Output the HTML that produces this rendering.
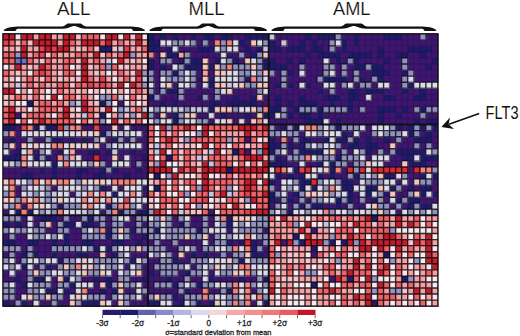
<!DOCTYPE html>
<html><head><meta charset="utf-8"><style>
html,body{margin:0;padding:0;background:#fff;}
body{width:520px;height:336px;position:relative;overflow:hidden;font-family:"Liberation Sans",sans-serif;}
</style></head><body>
<svg width="520" height="336" viewBox="0 0 520 336" style="position:absolute;left:0;top:0" font-family="Liberation Sans, sans-serif">
<defs></defs>
<g>
<path fill="#c41a2c" d="M2.92 33.81h6.54v6.55h-6.54zM8.96 33.81h6.54v6.55h-6.54zM21.05 33.81h6.54v6.55h-6.54zM27.09 33.81h6.54v6.55h-6.54zM39.17 33.81h6.54v6.55h-6.54zM45.21 33.81h6.54v6.55h-6.54zM63.34 33.81h6.54v6.55h-6.54zM69.38 33.81h6.54v6.55h-6.54zM105.63 33.81h6.54v6.55h-6.54zM111.67 33.81h6.54v6.55h-6.54zM123.75 33.81h6.54v6.55h-6.54zM135.84 33.81h6.54v6.55h-6.54zM33.13 39.86h6.54v6.55h-6.54zM39.17 39.86h6.54v6.55h-6.54zM45.21 39.86h6.54v6.55h-6.54zM51.25 39.86h6.54v6.55h-6.54zM63.34 39.86h6.54v6.55h-6.54zM81.46 39.86h6.54v6.55h-6.54zM87.5 39.86h6.54v6.55h-6.54zM93.55 39.86h6.54v6.55h-6.54zM105.63 39.86h6.54v6.55h-6.54zM135.84 39.86h6.54v6.55h-6.54zM21.05 45.91h6.54v6.55h-6.54zM45.21 45.91h6.54v6.55h-6.54zM57.3 45.91h6.54v6.55h-6.54zM63.34 45.91h6.54v6.55h-6.54zM21.05 51.97h6.54v6.55h-6.54zM93.55 51.97h6.54v6.55h-6.54zM123.75 51.97h6.54v6.55h-6.54zM81.46 58.02h6.54v6.55h-6.54zM117.71 58.02h6.54v6.55h-6.54zM15 64.07h6.54v6.55h-6.54zM39.17 64.07h6.54v6.55h-6.54zM81.46 64.07h6.54v6.55h-6.54zM81.46 70.12h6.54v6.55h-6.54zM135.84 70.12h6.54v6.55h-6.54zM81.46 76.17h6.54v6.55h-6.54zM117.71 82.23h6.54v6.55h-6.54zM129.8 82.23h6.54v6.55h-6.54zM2.92 88.28h6.54v6.55h-6.54zM8.96 88.28h6.54v6.55h-6.54zM51.25 94.33h6.54v6.55h-6.54zM81.46 100.38h6.54v6.55h-6.54zM8.96 106.43h6.54v6.55h-6.54zM63.34 106.43h6.54v6.55h-6.54zM81.46 106.43h6.54v6.55h-6.54zM105.63 106.43h6.54v6.55h-6.54zM8.96 112.49h6.54v6.55h-6.54zM63.34 112.49h6.54v6.55h-6.54zM141.88 112.49h6.54v6.55h-6.54zM8.96 118.54h6.54v6.55h-6.54zM39.17 118.54h6.54v6.55h-6.54zM111.67 118.54h6.54v6.55h-6.54zM160 124.59h6.54v6.55h-6.54zM184.17 124.59h6.54v6.55h-6.54zM202.3 124.59h6.54v6.55h-6.54zM238.55 124.59h6.54v6.55h-6.54zM244.59 124.59h6.54v6.55h-6.54zM250.63 124.59h6.54v6.55h-6.54zM262.71 124.59h6.54v6.55h-6.54zM202.3 130.64h6.54v6.55h-6.54zM244.59 130.64h6.54v6.55h-6.54zM166.05 136.69h6.54v6.55h-6.54zM202.3 142.75h6.54v6.55h-6.54zM262.71 142.75h6.54v6.55h-6.54zM160 148.8h6.54v6.55h-6.54zM214.38 148.8h6.54v6.55h-6.54zM238.55 148.8h6.54v6.55h-6.54zM262.71 148.8h6.54v6.55h-6.54zM244.59 154.85h6.54v6.55h-6.54zM250.63 154.85h6.54v6.55h-6.54zM256.67 154.85h6.54v6.55h-6.54zM160 160.9h6.54v6.55h-6.54zM202.3 160.9h6.54v6.55h-6.54zM262.71 160.9h6.54v6.55h-6.54zM147.92 166.95h6.54v6.55h-6.54zM153.96 166.95h6.54v6.55h-6.54zM160 166.95h6.54v6.55h-6.54zM166.05 166.95h6.54v6.55h-6.54zM178.13 166.95h6.54v6.55h-6.54zM190.21 166.95h6.54v6.55h-6.54zM202.3 166.95h6.54v6.55h-6.54zM208.34 166.95h6.54v6.55h-6.54zM214.38 166.95h6.54v6.55h-6.54zM220.42 166.95h6.54v6.55h-6.54zM232.5 166.95h6.54v6.55h-6.54zM238.55 166.95h6.54v6.55h-6.54zM244.59 166.95h6.54v6.55h-6.54zM250.63 166.95h6.54v6.55h-6.54zM256.67 166.95h6.54v6.55h-6.54zM262.71 166.95h6.54v6.55h-6.54zM172.09 173.01h6.54v6.55h-6.54zM202.3 173.01h6.54v6.55h-6.54zM202.3 179.06h6.54v6.55h-6.54zM244.59 179.06h6.54v6.55h-6.54zM250.63 179.06h6.54v6.55h-6.54zM262.71 179.06h6.54v6.55h-6.54zM202.3 185.11h6.54v6.55h-6.54zM244.59 185.11h6.54v6.55h-6.54zM220.42 191.16h6.54v6.55h-6.54zM262.71 191.16h6.54v6.55h-6.54zM250.63 197.21h6.54v6.55h-6.54zM232.5 203.27h6.54v6.55h-6.54zM153.96 209.32h6.54v6.55h-6.54zM256.67 209.32h6.54v6.55h-6.54zM262.71 209.32h6.54v6.55h-6.54zM280.84 215.37h6.54v6.55h-6.54zM365.42 215.37h6.54v6.55h-6.54zM395.63 215.37h6.54v6.55h-6.54zM305 221.42h6.54v6.55h-6.54zM353.34 221.42h6.54v6.55h-6.54zM395.63 221.42h6.54v6.55h-6.54zM407.71 221.42h6.54v6.55h-6.54zM298.96 227.47h6.54v6.55h-6.54zM305 233.53h6.54v6.55h-6.54zM347.3 233.53h6.54v6.55h-6.54zM383.55 233.53h6.54v6.55h-6.54zM389.59 233.53h6.54v6.55h-6.54zM425.84 233.53h6.54v6.55h-6.54zM274.8 239.58h6.54v6.55h-6.54zM286.88 239.58h6.54v6.55h-6.54zM305 239.58h6.54v6.55h-6.54zM311.05 239.58h6.54v6.55h-6.54zM317.09 239.58h6.54v6.55h-6.54zM347.3 239.58h6.54v6.55h-6.54zM359.38 239.58h6.54v6.55h-6.54zM371.46 239.58h6.54v6.55h-6.54zM377.51 239.58h6.54v6.55h-6.54zM383.55 239.58h6.54v6.55h-6.54zM389.59 239.58h6.54v6.55h-6.54zM395.63 239.58h6.54v6.55h-6.54zM401.67 239.58h6.54v6.55h-6.54zM413.76 239.58h6.54v6.55h-6.54zM425.84 239.58h6.54v6.55h-6.54zM359.38 245.63h6.54v6.55h-6.54zM365.42 245.63h6.54v6.55h-6.54zM377.51 245.63h6.54v6.55h-6.54zM395.63 245.63h6.54v6.55h-6.54zM425.84 245.63h6.54v6.55h-6.54zM425.84 251.68h6.54v6.55h-6.54zM353.34 257.73h6.54v6.55h-6.54zM425.84 257.73h6.54v6.55h-6.54zM431.88 257.73h6.54v6.55h-6.54zM353.34 263.79h6.54v6.55h-6.54zM365.42 263.79h6.54v6.55h-6.54zM383.55 263.79h6.54v6.55h-6.54zM431.88 263.79h6.54v6.55h-6.54zM347.3 269.84h6.54v6.55h-6.54zM377.51 269.84h6.54v6.55h-6.54zM335.21 275.89h6.54v6.55h-6.54zM365.42 275.89h6.54v6.55h-6.54zM377.51 281.94h6.54v6.55h-6.54zM268.75 287.99h6.54v6.55h-6.54zM329.17 287.99h6.54v6.55h-6.54zM413.76 287.99h6.54v6.55h-6.54zM425.84 287.99h6.54v6.55h-6.54zM353.34 294.05h6.54v6.55h-6.54zM365.42 294.05h6.54v6.55h-6.54zM365.42 300.1h6.54v6.55h-6.54z"/><path fill="#fae6ee" d="M15 33.81h6.54v6.55h-6.54zM99.59 33.81h6.54v6.55h-6.54zM117.71 33.81h6.54v6.55h-6.54zM141.88 33.81h6.54v6.55h-6.54zM111.67 58.02h6.54v6.55h-6.54zM141.88 58.02h6.54v6.55h-6.54zM2.92 64.07h6.54v6.55h-6.54zM69.38 64.07h6.54v6.55h-6.54zM27.09 70.12h6.54v6.55h-6.54zM75.42 70.12h6.54v6.55h-6.54zM105.63 70.12h6.54v6.55h-6.54zM15 76.17h6.54v6.55h-6.54zM111.67 76.17h6.54v6.55h-6.54zM123.75 82.23h6.54v6.55h-6.54zM15 88.28h6.54v6.55h-6.54zM27.09 88.28h6.54v6.55h-6.54zM45.21 88.28h6.54v6.55h-6.54zM87.5 88.28h6.54v6.55h-6.54zM99.59 88.28h6.54v6.55h-6.54zM111.67 88.28h6.54v6.55h-6.54zM123.75 88.28h6.54v6.55h-6.54zM45.21 94.33h6.54v6.55h-6.54zM57.3 94.33h6.54v6.55h-6.54zM93.55 94.33h6.54v6.55h-6.54zM123.75 94.33h6.54v6.55h-6.54zM15 100.38h6.54v6.55h-6.54zM21.05 100.38h6.54v6.55h-6.54zM111.67 100.38h6.54v6.55h-6.54zM123.75 100.38h6.54v6.55h-6.54zM135.84 100.38h6.54v6.55h-6.54zM27.09 106.43h6.54v6.55h-6.54zM75.42 106.43h6.54v6.55h-6.54zM111.67 106.43h6.54v6.55h-6.54zM51.25 112.49h6.54v6.55h-6.54zM105.63 112.49h6.54v6.55h-6.54zM15 118.54h6.54v6.55h-6.54zM27.09 118.54h6.54v6.55h-6.54zM75.42 118.54h6.54v6.55h-6.54zM105.63 118.54h6.54v6.55h-6.54zM141.88 118.54h6.54v6.55h-6.54zM153.96 124.59h6.54v6.55h-6.54zM196.25 124.59h6.54v6.55h-6.54zM153.96 130.64h6.54v6.55h-6.54zM184.17 130.64h6.54v6.55h-6.54zM190.21 130.64h6.54v6.55h-6.54zM208.34 130.64h6.54v6.55h-6.54zM153.96 136.69h6.54v6.55h-6.54zM256.67 136.69h6.54v6.55h-6.54zM172.09 142.75h6.54v6.55h-6.54zM196.25 142.75h6.54v6.55h-6.54zM208.34 142.75h6.54v6.55h-6.54zM226.46 142.75h6.54v6.55h-6.54zM166.05 148.8h6.54v6.55h-6.54zM220.42 148.8h6.54v6.55h-6.54zM153.96 154.85h6.54v6.55h-6.54zM166.05 160.9h6.54v6.55h-6.54zM172.09 160.9h6.54v6.55h-6.54zM232.5 160.9h6.54v6.55h-6.54zM244.59 160.9h6.54v6.55h-6.54zM172.09 166.95h6.54v6.55h-6.54zM147.92 173.01h6.54v6.55h-6.54zM160 173.01h6.54v6.55h-6.54zM184.17 173.01h6.54v6.55h-6.54zM190.21 173.01h6.54v6.55h-6.54zM208.34 173.01h6.54v6.55h-6.54zM214.38 173.01h6.54v6.55h-6.54zM262.71 173.01h6.54v6.55h-6.54zM166.05 179.06h6.54v6.55h-6.54zM196.25 179.06h6.54v6.55h-6.54zM256.67 179.06h6.54v6.55h-6.54zM147.92 185.11h6.54v6.55h-6.54zM166.05 185.11h6.54v6.55h-6.54zM178.13 185.11h6.54v6.55h-6.54zM184.17 185.11h6.54v6.55h-6.54zM232.5 185.11h6.54v6.55h-6.54zM166.05 191.16h6.54v6.55h-6.54zM172.09 191.16h6.54v6.55h-6.54zM190.21 191.16h6.54v6.55h-6.54zM153.96 197.21h6.54v6.55h-6.54zM178.13 197.21h6.54v6.55h-6.54zM184.17 197.21h6.54v6.55h-6.54zM208.34 197.21h6.54v6.55h-6.54zM220.42 197.21h6.54v6.55h-6.54zM153.96 203.27h6.54v6.55h-6.54zM178.13 203.27h6.54v6.55h-6.54zM190.21 203.27h6.54v6.55h-6.54zM208.34 203.27h6.54v6.55h-6.54zM226.46 203.27h6.54v6.55h-6.54zM244.59 203.27h6.54v6.55h-6.54zM250.63 203.27h6.54v6.55h-6.54zM166.05 209.32h6.54v6.55h-6.54zM214.38 209.32h6.54v6.55h-6.54zM274.8 215.37h6.54v6.55h-6.54zM305 215.37h6.54v6.55h-6.54zM419.8 215.37h6.54v6.55h-6.54zM298.96 221.42h6.54v6.55h-6.54zM311.05 221.42h6.54v6.55h-6.54zM317.09 221.42h6.54v6.55h-6.54zM329.17 221.42h6.54v6.55h-6.54zM335.21 221.42h6.54v6.55h-6.54zM419.8 221.42h6.54v6.55h-6.54zM431.88 221.42h6.54v6.55h-6.54zM329.17 227.47h6.54v6.55h-6.54zM353.34 227.47h6.54v6.55h-6.54zM395.63 227.47h6.54v6.55h-6.54zM401.67 227.47h6.54v6.55h-6.54zM407.71 227.47h6.54v6.55h-6.54zM413.76 227.47h6.54v6.55h-6.54zM419.8 227.47h6.54v6.55h-6.54zM425.84 227.47h6.54v6.55h-6.54zM298.96 233.53h6.54v6.55h-6.54zM365.42 233.53h6.54v6.55h-6.54zM407.71 233.53h6.54v6.55h-6.54zM431.88 233.53h6.54v6.55h-6.54zM335.21 239.58h6.54v6.55h-6.54zM274.8 245.63h6.54v6.55h-6.54zM317.09 245.63h6.54v6.55h-6.54zM335.21 245.63h6.54v6.55h-6.54zM371.46 245.63h6.54v6.55h-6.54zM389.59 245.63h6.54v6.55h-6.54zM431.88 245.63h6.54v6.55h-6.54zM305 251.68h6.54v6.55h-6.54zM329.17 251.68h6.54v6.55h-6.54zM347.3 251.68h6.54v6.55h-6.54zM353.34 251.68h6.54v6.55h-6.54zM371.46 251.68h6.54v6.55h-6.54zM389.59 251.68h6.54v6.55h-6.54zM401.67 251.68h6.54v6.55h-6.54zM413.76 251.68h6.54v6.55h-6.54zM419.8 251.68h6.54v6.55h-6.54zM323.13 257.73h6.54v6.55h-6.54zM371.46 257.73h6.54v6.55h-6.54zM383.55 257.73h6.54v6.55h-6.54zM407.71 257.73h6.54v6.55h-6.54zM419.8 257.73h6.54v6.55h-6.54zM274.8 263.79h6.54v6.55h-6.54zM311.05 263.79h6.54v6.55h-6.54zM335.21 263.79h6.54v6.55h-6.54zM371.46 263.79h6.54v6.55h-6.54zM389.59 263.79h6.54v6.55h-6.54zM407.71 263.79h6.54v6.55h-6.54zM425.84 263.79h6.54v6.55h-6.54zM274.8 269.84h6.54v6.55h-6.54zM292.92 269.84h6.54v6.55h-6.54zM317.09 269.84h6.54v6.55h-6.54zM371.46 269.84h6.54v6.55h-6.54zM389.59 269.84h6.54v6.55h-6.54zM401.67 269.84h6.54v6.55h-6.54zM413.76 269.84h6.54v6.55h-6.54zM323.13 275.89h6.54v6.55h-6.54zM359.38 275.89h6.54v6.55h-6.54zM377.51 275.89h6.54v6.55h-6.54zM383.55 275.89h6.54v6.55h-6.54zM389.59 275.89h6.54v6.55h-6.54zM425.84 275.89h6.54v6.55h-6.54zM431.88 275.89h6.54v6.55h-6.54zM274.8 281.94h6.54v6.55h-6.54zM292.92 281.94h6.54v6.55h-6.54zM298.96 281.94h6.54v6.55h-6.54zM305 281.94h6.54v6.55h-6.54zM317.09 281.94h6.54v6.55h-6.54zM329.17 281.94h6.54v6.55h-6.54zM335.21 281.94h6.54v6.55h-6.54zM371.46 281.94h6.54v6.55h-6.54zM389.59 281.94h6.54v6.55h-6.54zM431.88 281.94h6.54v6.55h-6.54zM274.8 287.99h6.54v6.55h-6.54zM311.05 287.99h6.54v6.55h-6.54zM353.34 287.99h6.54v6.55h-6.54zM359.38 287.99h6.54v6.55h-6.54zM274.8 294.05h6.54v6.55h-6.54zM286.88 294.05h6.54v6.55h-6.54zM292.92 294.05h6.54v6.55h-6.54zM298.96 294.05h6.54v6.55h-6.54zM311.05 294.05h6.54v6.55h-6.54zM329.17 294.05h6.54v6.55h-6.54zM335.21 294.05h6.54v6.55h-6.54zM371.46 294.05h6.54v6.55h-6.54zM407.71 294.05h6.54v6.55h-6.54zM419.8 294.05h6.54v6.55h-6.54zM431.88 294.05h6.54v6.55h-6.54zM274.8 300.1h6.54v6.55h-6.54zM286.88 300.1h6.54v6.55h-6.54zM292.92 300.1h6.54v6.55h-6.54zM298.96 300.1h6.54v6.55h-6.54zM311.05 300.1h6.54v6.55h-6.54zM335.21 300.1h6.54v6.55h-6.54zM389.59 300.1h6.54v6.55h-6.54zM401.67 300.1h6.54v6.55h-6.54zM413.76 300.1h6.54v6.55h-6.54zM425.84 300.1h6.54v6.55h-6.54z"/><path fill="#f4a0a6" d="M33.13 33.81h6.54v6.55h-6.54zM51.25 33.81h6.54v6.55h-6.54zM57.3 33.81h6.54v6.55h-6.54zM57.3 39.86h6.54v6.55h-6.54zM75.42 39.86h6.54v6.55h-6.54zM111.67 39.86h6.54v6.55h-6.54zM123.75 39.86h6.54v6.55h-6.54zM129.8 39.86h6.54v6.55h-6.54zM141.88 39.86h6.54v6.55h-6.54zM2.92 45.91h6.54v6.55h-6.54zM8.96 45.91h6.54v6.55h-6.54zM27.09 45.91h6.54v6.55h-6.54zM33.13 45.91h6.54v6.55h-6.54zM69.38 45.91h6.54v6.55h-6.54zM81.46 45.91h6.54v6.55h-6.54zM129.8 45.91h6.54v6.55h-6.54zM135.84 45.91h6.54v6.55h-6.54zM27.09 51.97h6.54v6.55h-6.54zM57.3 51.97h6.54v6.55h-6.54zM63.34 51.97h6.54v6.55h-6.54zM69.38 51.97h6.54v6.55h-6.54zM87.5 51.97h6.54v6.55h-6.54zM111.67 51.97h6.54v6.55h-6.54zM135.84 51.97h6.54v6.55h-6.54zM141.88 51.97h6.54v6.55h-6.54zM178.13 51.97h6.54v6.55h-6.54zM33.13 58.02h6.54v6.55h-6.54zM51.25 58.02h6.54v6.55h-6.54zM57.3 58.02h6.54v6.55h-6.54zM87.5 58.02h6.54v6.55h-6.54zM99.59 58.02h6.54v6.55h-6.54zM123.75 58.02h6.54v6.55h-6.54zM135.84 58.02h6.54v6.55h-6.54zM8.96 64.07h6.54v6.55h-6.54zM21.05 64.07h6.54v6.55h-6.54zM33.13 64.07h6.54v6.55h-6.54zM51.25 64.07h6.54v6.55h-6.54zM57.3 64.07h6.54v6.55h-6.54zM93.55 64.07h6.54v6.55h-6.54zM129.8 64.07h6.54v6.55h-6.54zM135.84 64.07h6.54v6.55h-6.54zM8.96 70.12h6.54v6.55h-6.54zM21.05 70.12h6.54v6.55h-6.54zM51.25 70.12h6.54v6.55h-6.54zM87.5 70.12h6.54v6.55h-6.54zM99.59 70.12h6.54v6.55h-6.54zM123.75 70.12h6.54v6.55h-6.54zM202.3 70.12h6.54v6.55h-6.54zM2.92 76.17h6.54v6.55h-6.54zM21.05 76.17h6.54v6.55h-6.54zM33.13 76.17h6.54v6.55h-6.54zM51.25 76.17h6.54v6.55h-6.54zM63.34 76.17h6.54v6.55h-6.54zM93.55 76.17h6.54v6.55h-6.54zM105.63 76.17h6.54v6.55h-6.54zM117.71 76.17h6.54v6.55h-6.54zM8.96 82.23h6.54v6.55h-6.54zM21.05 82.23h6.54v6.55h-6.54zM33.13 82.23h6.54v6.55h-6.54zM45.21 82.23h6.54v6.55h-6.54zM51.25 82.23h6.54v6.55h-6.54zM111.67 82.23h6.54v6.55h-6.54zM21.05 88.28h6.54v6.55h-6.54zM39.17 88.28h6.54v6.55h-6.54zM63.34 88.28h6.54v6.55h-6.54zM69.38 88.28h6.54v6.55h-6.54zM81.46 88.28h6.54v6.55h-6.54zM117.71 88.28h6.54v6.55h-6.54zM129.8 88.28h6.54v6.55h-6.54zM141.88 88.28h6.54v6.55h-6.54zM8.96 94.33h6.54v6.55h-6.54zM21.05 94.33h6.54v6.55h-6.54zM87.5 94.33h6.54v6.55h-6.54zM8.96 100.38h6.54v6.55h-6.54zM33.13 100.38h6.54v6.55h-6.54zM51.25 100.38h6.54v6.55h-6.54zM63.34 100.38h6.54v6.55h-6.54zM87.5 100.38h6.54v6.55h-6.54zM129.8 100.38h6.54v6.55h-6.54zM21.05 106.43h6.54v6.55h-6.54zM33.13 106.43h6.54v6.55h-6.54zM57.3 106.43h6.54v6.55h-6.54zM93.55 106.43h6.54v6.55h-6.54zM129.8 106.43h6.54v6.55h-6.54zM45.21 112.49h6.54v6.55h-6.54zM111.67 112.49h6.54v6.55h-6.54zM220.42 130.64h6.54v6.55h-6.54zM226.46 130.64h6.54v6.55h-6.54zM232.5 130.64h6.54v6.55h-6.54zM238.55 130.64h6.54v6.55h-6.54zM250.63 130.64h6.54v6.55h-6.54zM232.5 136.69h6.54v6.55h-6.54zM160 142.75h6.54v6.55h-6.54zM220.42 142.75h6.54v6.55h-6.54zM238.55 142.75h6.54v6.55h-6.54zM250.63 142.75h6.54v6.55h-6.54zM256.67 142.75h6.54v6.55h-6.54zM27.09 148.8h6.54v6.55h-6.54zM69.38 148.8h6.54v6.55h-6.54zM147.92 148.8h6.54v6.55h-6.54zM190.21 148.8h6.54v6.55h-6.54zM226.46 148.8h6.54v6.55h-6.54zM250.63 148.8h6.54v6.55h-6.54zM69.38 154.85h6.54v6.55h-6.54zM190.21 154.85h6.54v6.55h-6.54zM226.46 154.85h6.54v6.55h-6.54zM232.5 154.85h6.54v6.55h-6.54zM262.71 154.85h6.54v6.55h-6.54zM21.05 160.9h6.54v6.55h-6.54zM147.92 160.9h6.54v6.55h-6.54zM190.21 160.9h6.54v6.55h-6.54zM196.25 166.95h6.54v6.55h-6.54zM196.25 173.01h6.54v6.55h-6.54zM220.42 173.01h6.54v6.55h-6.54zM250.63 173.01h6.54v6.55h-6.54zM153.96 179.06h6.54v6.55h-6.54zM232.5 179.06h6.54v6.55h-6.54zM256.67 185.11h6.54v6.55h-6.54zM232.5 191.16h6.54v6.55h-6.54zM214.38 203.27h6.54v6.55h-6.54zM238.55 203.27h6.54v6.55h-6.54zM184.17 209.32h6.54v6.55h-6.54zM286.88 215.37h6.54v6.55h-6.54zM292.92 215.37h6.54v6.55h-6.54zM311.05 215.37h6.54v6.55h-6.54zM323.13 215.37h6.54v6.55h-6.54zM341.26 215.37h6.54v6.55h-6.54zM353.34 215.37h6.54v6.55h-6.54zM389.59 215.37h6.54v6.55h-6.54zM401.67 215.37h6.54v6.55h-6.54zM407.71 215.37h6.54v6.55h-6.54zM425.84 215.37h6.54v6.55h-6.54zM431.88 215.37h6.54v6.55h-6.54zM268.75 221.42h6.54v6.55h-6.54zM274.8 221.42h6.54v6.55h-6.54zM280.84 221.42h6.54v6.55h-6.54zM383.55 221.42h6.54v6.55h-6.54zM389.59 221.42h6.54v6.55h-6.54zM401.67 221.42h6.54v6.55h-6.54zM268.75 227.47h6.54v6.55h-6.54zM274.8 227.47h6.54v6.55h-6.54zM280.84 227.47h6.54v6.55h-6.54zM286.88 227.47h6.54v6.55h-6.54zM292.92 227.47h6.54v6.55h-6.54zM305 227.47h6.54v6.55h-6.54zM317.09 227.47h6.54v6.55h-6.54zM323.13 227.47h6.54v6.55h-6.54zM431.88 227.47h6.54v6.55h-6.54zM268.75 233.53h6.54v6.55h-6.54zM280.84 233.53h6.54v6.55h-6.54zM286.88 233.53h6.54v6.55h-6.54zM311.05 233.53h6.54v6.55h-6.54zM317.09 233.53h6.54v6.55h-6.54zM323.13 233.53h6.54v6.55h-6.54zM341.26 233.53h6.54v6.55h-6.54zM401.67 233.53h6.54v6.55h-6.54zM419.8 233.53h6.54v6.55h-6.54zM268.75 239.58h6.54v6.55h-6.54zM431.88 239.58h6.54v6.55h-6.54zM280.84 245.63h6.54v6.55h-6.54zM292.92 245.63h6.54v6.55h-6.54zM298.96 245.63h6.54v6.55h-6.54zM305 245.63h6.54v6.55h-6.54zM323.13 245.63h6.54v6.55h-6.54zM347.3 245.63h6.54v6.55h-6.54zM353.34 245.63h6.54v6.55h-6.54zM401.67 245.63h6.54v6.55h-6.54zM413.76 245.63h6.54v6.55h-6.54zM419.8 245.63h6.54v6.55h-6.54zM280.84 251.68h6.54v6.55h-6.54zM298.96 251.68h6.54v6.55h-6.54zM323.13 251.68h6.54v6.55h-6.54zM365.42 251.68h6.54v6.55h-6.54zM377.51 251.68h6.54v6.55h-6.54zM274.8 257.73h6.54v6.55h-6.54zM280.84 257.73h6.54v6.55h-6.54zM298.96 257.73h6.54v6.55h-6.54zM311.05 257.73h6.54v6.55h-6.54zM329.17 257.73h6.54v6.55h-6.54zM341.26 257.73h6.54v6.55h-6.54zM347.3 257.73h6.54v6.55h-6.54zM359.38 257.73h6.54v6.55h-6.54zM395.63 257.73h6.54v6.55h-6.54zM401.67 257.73h6.54v6.55h-6.54zM280.84 263.79h6.54v6.55h-6.54zM292.92 263.79h6.54v6.55h-6.54zM341.26 263.79h6.54v6.55h-6.54zM347.3 263.79h6.54v6.55h-6.54zM359.38 263.79h6.54v6.55h-6.54zM401.67 263.79h6.54v6.55h-6.54zM413.76 263.79h6.54v6.55h-6.54zM419.8 263.79h6.54v6.55h-6.54zM280.84 269.84h6.54v6.55h-6.54zM298.96 269.84h6.54v6.55h-6.54zM323.13 269.84h6.54v6.55h-6.54zM335.21 269.84h6.54v6.55h-6.54zM407.71 269.84h6.54v6.55h-6.54zM419.8 269.84h6.54v6.55h-6.54zM431.88 269.84h6.54v6.55h-6.54zM274.8 275.89h6.54v6.55h-6.54zM298.96 275.89h6.54v6.55h-6.54zM305 275.89h6.54v6.55h-6.54zM311.05 275.89h6.54v6.55h-6.54zM317.09 275.89h6.54v6.55h-6.54zM395.63 275.89h6.54v6.55h-6.54zM413.76 275.89h6.54v6.55h-6.54zM419.8 275.89h6.54v6.55h-6.54zM280.84 281.94h6.54v6.55h-6.54zM286.88 281.94h6.54v6.55h-6.54zM353.34 281.94h6.54v6.55h-6.54zM401.67 281.94h6.54v6.55h-6.54zM413.76 281.94h6.54v6.55h-6.54zM419.8 281.94h6.54v6.55h-6.54zM425.84 281.94h6.54v6.55h-6.54zM286.88 287.99h6.54v6.55h-6.54zM292.92 287.99h6.54v6.55h-6.54zM298.96 287.99h6.54v6.55h-6.54zM305 287.99h6.54v6.55h-6.54zM341.26 287.99h6.54v6.55h-6.54zM347.3 287.99h6.54v6.55h-6.54zM383.55 287.99h6.54v6.55h-6.54zM407.71 287.99h6.54v6.55h-6.54zM419.8 287.99h6.54v6.55h-6.54zM431.88 287.99h6.54v6.55h-6.54zM280.84 294.05h6.54v6.55h-6.54zM305 294.05h6.54v6.55h-6.54zM317.09 294.05h6.54v6.55h-6.54zM323.13 294.05h6.54v6.55h-6.54zM347.3 294.05h6.54v6.55h-6.54zM395.63 294.05h6.54v6.55h-6.54zM401.67 294.05h6.54v6.55h-6.54zM425.84 294.05h6.54v6.55h-6.54zM268.75 300.1h6.54v6.55h-6.54zM280.84 300.1h6.54v6.55h-6.54zM305 300.1h6.54v6.55h-6.54zM317.09 300.1h6.54v6.55h-6.54zM323.13 300.1h6.54v6.55h-6.54zM347.3 300.1h6.54v6.55h-6.54zM359.38 300.1h6.54v6.55h-6.54zM383.55 300.1h6.54v6.55h-6.54zM395.63 300.1h6.54v6.55h-6.54zM407.71 300.1h6.54v6.55h-6.54zM431.88 300.1h6.54v6.55h-6.54z"/><path fill="#f8c0c8" d="M75.42 33.81h6.54v6.55h-6.54zM129.8 33.81h6.54v6.55h-6.54zM15 39.86h6.54v6.55h-6.54zM27.09 39.86h6.54v6.55h-6.54zM15 45.91h6.54v6.55h-6.54zM75.42 45.91h6.54v6.55h-6.54zM93.55 45.91h6.54v6.55h-6.54zM111.67 45.91h6.54v6.55h-6.54zM45.21 51.97h6.54v6.55h-6.54zM99.59 51.97h6.54v6.55h-6.54zM39.17 58.02h6.54v6.55h-6.54zM75.42 58.02h6.54v6.55h-6.54zM129.8 58.02h6.54v6.55h-6.54zM27.09 64.07h6.54v6.55h-6.54zM75.42 64.07h6.54v6.55h-6.54zM87.5 64.07h6.54v6.55h-6.54zM117.71 64.07h6.54v6.55h-6.54zM123.75 64.07h6.54v6.55h-6.54zM141.88 64.07h6.54v6.55h-6.54zM15 70.12h6.54v6.55h-6.54zM57.3 70.12h6.54v6.55h-6.54zM93.55 70.12h6.54v6.55h-6.54zM111.67 70.12h6.54v6.55h-6.54zM129.8 70.12h6.54v6.55h-6.54zM8.96 76.17h6.54v6.55h-6.54zM39.17 76.17h6.54v6.55h-6.54zM57.3 76.17h6.54v6.55h-6.54zM69.38 76.17h6.54v6.55h-6.54zM75.42 76.17h6.54v6.55h-6.54zM129.8 76.17h6.54v6.55h-6.54zM2.92 82.23h6.54v6.55h-6.54zM69.38 82.23h6.54v6.55h-6.54zM51.25 88.28h6.54v6.55h-6.54zM75.42 88.28h6.54v6.55h-6.54zM93.55 88.28h6.54v6.55h-6.54zM105.63 88.28h6.54v6.55h-6.54zM2.92 94.33h6.54v6.55h-6.54zM27.09 94.33h6.54v6.55h-6.54zM39.17 94.33h6.54v6.55h-6.54zM75.42 94.33h6.54v6.55h-6.54zM135.84 94.33h6.54v6.55h-6.54zM141.88 94.33h6.54v6.55h-6.54zM2.92 100.38h6.54v6.55h-6.54zM93.55 100.38h6.54v6.55h-6.54zM141.88 100.38h6.54v6.55h-6.54zM15 106.43h6.54v6.55h-6.54zM69.38 106.43h6.54v6.55h-6.54zM99.59 106.43h6.54v6.55h-6.54zM21.05 112.49h6.54v6.55h-6.54zM69.38 112.49h6.54v6.55h-6.54zM75.42 112.49h6.54v6.55h-6.54zM93.55 112.49h6.54v6.55h-6.54zM123.75 112.49h6.54v6.55h-6.54zM135.84 112.49h6.54v6.55h-6.54zM87.5 118.54h6.54v6.55h-6.54zM117.71 118.54h6.54v6.55h-6.54zM129.8 118.54h6.54v6.55h-6.54zM166.05 130.64h6.54v6.55h-6.54zM178.13 130.64h6.54v6.55h-6.54zM178.13 136.69h6.54v6.55h-6.54zM262.71 136.69h6.54v6.55h-6.54zM147.92 142.75h6.54v6.55h-6.54zM178.13 142.75h6.54v6.55h-6.54zM184.17 142.75h6.54v6.55h-6.54zM190.21 142.75h6.54v6.55h-6.54zM244.59 142.75h6.54v6.55h-6.54zM178.13 148.8h6.54v6.55h-6.54zM202.3 148.8h6.54v6.55h-6.54zM178.13 154.85h6.54v6.55h-6.54zM202.3 154.85h6.54v6.55h-6.54zM178.13 160.9h6.54v6.55h-6.54zM196.25 160.9h6.54v6.55h-6.54zM256.67 160.9h6.54v6.55h-6.54zM178.13 173.01h6.54v6.55h-6.54zM232.5 173.01h6.54v6.55h-6.54zM147.92 179.06h6.54v6.55h-6.54zM178.13 179.06h6.54v6.55h-6.54zM214.38 185.11h6.54v6.55h-6.54zM153.96 191.16h6.54v6.55h-6.54zM147.92 197.21h6.54v6.55h-6.54zM214.38 197.21h6.54v6.55h-6.54zM238.55 197.21h6.54v6.55h-6.54zM147.92 203.27h6.54v6.55h-6.54zM166.05 203.27h6.54v6.55h-6.54zM202.3 203.27h6.54v6.55h-6.54zM190.21 209.32h6.54v6.55h-6.54zM196.25 209.32h6.54v6.55h-6.54zM298.96 215.37h6.54v6.55h-6.54zM347.3 221.42h6.54v6.55h-6.54zM371.46 221.42h6.54v6.55h-6.54zM407.71 239.58h6.54v6.55h-6.54zM286.88 245.63h6.54v6.55h-6.54zM286.88 251.68h6.54v6.55h-6.54zM292.92 251.68h6.54v6.55h-6.54zM286.88 257.73h6.54v6.55h-6.54zM292.92 257.73h6.54v6.55h-6.54zM305 257.73h6.54v6.55h-6.54zM317.09 257.73h6.54v6.55h-6.54zM268.75 263.79h6.54v6.55h-6.54zM305 263.79h6.54v6.55h-6.54zM317.09 263.79h6.54v6.55h-6.54zM280.84 275.89h6.54v6.55h-6.54zM286.88 275.89h6.54v6.55h-6.54zM292.92 275.89h6.54v6.55h-6.54zM401.67 287.99h6.54v6.55h-6.54zM268.75 294.05h6.54v6.55h-6.54z"/><path fill="#ec6268" d="M81.46 33.81h6.54v6.55h-6.54zM87.5 33.81h6.54v6.55h-6.54zM93.55 33.81h6.54v6.55h-6.54zM8.96 39.86h6.54v6.55h-6.54zM21.05 39.86h6.54v6.55h-6.54zM69.38 39.86h6.54v6.55h-6.54zM99.59 39.86h6.54v6.55h-6.54zM117.71 39.86h6.54v6.55h-6.54zM87.5 45.91h6.54v6.55h-6.54zM141.88 45.91h6.54v6.55h-6.54zM2.92 51.97h6.54v6.55h-6.54zM8.96 51.97h6.54v6.55h-6.54zM33.13 51.97h6.54v6.55h-6.54zM51.25 51.97h6.54v6.55h-6.54zM75.42 51.97h6.54v6.55h-6.54zM81.46 51.97h6.54v6.55h-6.54zM105.63 51.97h6.54v6.55h-6.54zM117.71 51.97h6.54v6.55h-6.54zM2.92 58.02h6.54v6.55h-6.54zM8.96 58.02h6.54v6.55h-6.54zM27.09 58.02h6.54v6.55h-6.54zM45.21 58.02h6.54v6.55h-6.54zM63.34 58.02h6.54v6.55h-6.54zM69.38 58.02h6.54v6.55h-6.54zM93.55 58.02h6.54v6.55h-6.54zM45.21 64.07h6.54v6.55h-6.54zM63.34 64.07h6.54v6.55h-6.54zM99.59 64.07h6.54v6.55h-6.54zM111.67 64.07h6.54v6.55h-6.54zM2.92 70.12h6.54v6.55h-6.54zM33.13 70.12h6.54v6.55h-6.54zM45.21 70.12h6.54v6.55h-6.54zM63.34 70.12h6.54v6.55h-6.54zM69.38 70.12h6.54v6.55h-6.54zM117.71 70.12h6.54v6.55h-6.54zM27.09 76.17h6.54v6.55h-6.54zM45.21 76.17h6.54v6.55h-6.54zM87.5 76.17h6.54v6.55h-6.54zM123.75 76.17h6.54v6.55h-6.54zM27.09 82.23h6.54v6.55h-6.54zM39.17 82.23h6.54v6.55h-6.54zM57.3 82.23h6.54v6.55h-6.54zM63.34 82.23h6.54v6.55h-6.54zM75.42 82.23h6.54v6.55h-6.54zM81.46 82.23h6.54v6.55h-6.54zM93.55 82.23h6.54v6.55h-6.54zM105.63 82.23h6.54v6.55h-6.54zM135.84 82.23h6.54v6.55h-6.54zM33.13 88.28h6.54v6.55h-6.54zM57.3 88.28h6.54v6.55h-6.54zM135.84 88.28h6.54v6.55h-6.54zM15 94.33h6.54v6.55h-6.54zM33.13 94.33h6.54v6.55h-6.54zM63.34 94.33h6.54v6.55h-6.54zM69.38 94.33h6.54v6.55h-6.54zM81.46 94.33h6.54v6.55h-6.54zM111.67 94.33h6.54v6.55h-6.54zM129.8 94.33h6.54v6.55h-6.54zM39.17 100.38h6.54v6.55h-6.54zM45.21 100.38h6.54v6.55h-6.54zM57.3 100.38h6.54v6.55h-6.54zM2.92 106.43h6.54v6.55h-6.54zM39.17 106.43h6.54v6.55h-6.54zM45.21 106.43h6.54v6.55h-6.54zM51.25 106.43h6.54v6.55h-6.54zM87.5 106.43h6.54v6.55h-6.54zM135.84 106.43h6.54v6.55h-6.54zM2.92 112.49h6.54v6.55h-6.54zM27.09 112.49h6.54v6.55h-6.54zM33.13 112.49h6.54v6.55h-6.54zM39.17 112.49h6.54v6.55h-6.54zM57.3 112.49h6.54v6.55h-6.54zM87.5 112.49h6.54v6.55h-6.54zM2.92 118.54h6.54v6.55h-6.54zM21.05 118.54h6.54v6.55h-6.54zM33.13 118.54h6.54v6.55h-6.54zM45.21 118.54h6.54v6.55h-6.54zM51.25 118.54h6.54v6.55h-6.54zM57.3 118.54h6.54v6.55h-6.54zM63.34 118.54h6.54v6.55h-6.54zM69.38 118.54h6.54v6.55h-6.54zM81.46 118.54h6.54v6.55h-6.54zM93.55 118.54h6.54v6.55h-6.54zM123.75 118.54h6.54v6.55h-6.54zM135.84 118.54h6.54v6.55h-6.54zM147.92 124.59h6.54v6.55h-6.54zM172.09 124.59h6.54v6.55h-6.54zM178.13 124.59h6.54v6.55h-6.54zM190.21 124.59h6.54v6.55h-6.54zM208.34 124.59h6.54v6.55h-6.54zM214.38 124.59h6.54v6.55h-6.54zM220.42 124.59h6.54v6.55h-6.54zM226.46 124.59h6.54v6.55h-6.54zM232.5 124.59h6.54v6.55h-6.54zM256.67 124.59h6.54v6.55h-6.54zM147.92 130.64h6.54v6.55h-6.54zM160 130.64h6.54v6.55h-6.54zM172.09 130.64h6.54v6.55h-6.54zM214.38 130.64h6.54v6.55h-6.54zM256.67 130.64h6.54v6.55h-6.54zM262.71 130.64h6.54v6.55h-6.54zM147.92 136.69h6.54v6.55h-6.54zM160 136.69h6.54v6.55h-6.54zM172.09 136.69h6.54v6.55h-6.54zM190.21 136.69h6.54v6.55h-6.54zM196.25 136.69h6.54v6.55h-6.54zM202.3 136.69h6.54v6.55h-6.54zM208.34 136.69h6.54v6.55h-6.54zM214.38 136.69h6.54v6.55h-6.54zM220.42 136.69h6.54v6.55h-6.54zM238.55 136.69h6.54v6.55h-6.54zM250.63 136.69h6.54v6.55h-6.54zM166.05 142.75h6.54v6.55h-6.54zM214.38 142.75h6.54v6.55h-6.54zM232.5 142.75h6.54v6.55h-6.54zM172.09 148.8h6.54v6.55h-6.54zM184.17 148.8h6.54v6.55h-6.54zM196.25 148.8h6.54v6.55h-6.54zM147.92 154.85h6.54v6.55h-6.54zM160 154.85h6.54v6.55h-6.54zM172.09 154.85h6.54v6.55h-6.54zM184.17 154.85h6.54v6.55h-6.54zM208.34 154.85h6.54v6.55h-6.54zM214.38 154.85h6.54v6.55h-6.54zM220.42 154.85h6.54v6.55h-6.54zM238.55 154.85h6.54v6.55h-6.54zM184.17 160.9h6.54v6.55h-6.54zM214.38 160.9h6.54v6.55h-6.54zM220.42 160.9h6.54v6.55h-6.54zM226.46 160.9h6.54v6.55h-6.54zM238.55 160.9h6.54v6.55h-6.54zM250.63 160.9h6.54v6.55h-6.54zM184.17 166.95h6.54v6.55h-6.54zM226.46 173.01h6.54v6.55h-6.54zM238.55 173.01h6.54v6.55h-6.54zM244.59 173.01h6.54v6.55h-6.54zM256.67 173.01h6.54v6.55h-6.54zM160 179.06h6.54v6.55h-6.54zM172.09 179.06h6.54v6.55h-6.54zM184.17 179.06h6.54v6.55h-6.54zM190.21 179.06h6.54v6.55h-6.54zM208.34 179.06h6.54v6.55h-6.54zM214.38 179.06h6.54v6.55h-6.54zM220.42 179.06h6.54v6.55h-6.54zM226.46 179.06h6.54v6.55h-6.54zM238.55 179.06h6.54v6.55h-6.54zM160 185.11h6.54v6.55h-6.54zM172.09 185.11h6.54v6.55h-6.54zM190.21 185.11h6.54v6.55h-6.54zM208.34 185.11h6.54v6.55h-6.54zM220.42 185.11h6.54v6.55h-6.54zM238.55 185.11h6.54v6.55h-6.54zM262.71 185.11h6.54v6.55h-6.54zM147.92 191.16h6.54v6.55h-6.54zM160 191.16h6.54v6.55h-6.54zM178.13 191.16h6.54v6.55h-6.54zM196.25 191.16h6.54v6.55h-6.54zM202.3 191.16h6.54v6.55h-6.54zM214.38 191.16h6.54v6.55h-6.54zM238.55 191.16h6.54v6.55h-6.54zM250.63 191.16h6.54v6.55h-6.54zM256.67 191.16h6.54v6.55h-6.54zM160 197.21h6.54v6.55h-6.54zM166.05 197.21h6.54v6.55h-6.54zM172.09 197.21h6.54v6.55h-6.54zM190.21 197.21h6.54v6.55h-6.54zM196.25 197.21h6.54v6.55h-6.54zM226.46 197.21h6.54v6.55h-6.54zM232.5 197.21h6.54v6.55h-6.54zM256.67 197.21h6.54v6.55h-6.54zM262.71 197.21h6.54v6.55h-6.54zM160 203.27h6.54v6.55h-6.54zM172.09 203.27h6.54v6.55h-6.54zM184.17 203.27h6.54v6.55h-6.54zM220.42 203.27h6.54v6.55h-6.54zM256.67 203.27h6.54v6.55h-6.54zM262.71 203.27h6.54v6.55h-6.54zM160 209.32h6.54v6.55h-6.54zM172.09 209.32h6.54v6.55h-6.54zM202.3 209.32h6.54v6.55h-6.54zM220.42 209.32h6.54v6.55h-6.54zM226.46 209.32h6.54v6.55h-6.54zM232.5 209.32h6.54v6.55h-6.54zM238.55 209.32h6.54v6.55h-6.54zM268.75 215.37h6.54v6.55h-6.54zM317.09 215.37h6.54v6.55h-6.54zM329.17 215.37h6.54v6.55h-6.54zM335.21 215.37h6.54v6.55h-6.54zM347.3 215.37h6.54v6.55h-6.54zM359.38 215.37h6.54v6.55h-6.54zM377.51 215.37h6.54v6.55h-6.54zM383.55 215.37h6.54v6.55h-6.54zM413.76 215.37h6.54v6.55h-6.54zM286.88 221.42h6.54v6.55h-6.54zM341.26 221.42h6.54v6.55h-6.54zM359.38 221.42h6.54v6.55h-6.54zM365.42 221.42h6.54v6.55h-6.54zM377.51 221.42h6.54v6.55h-6.54zM413.76 221.42h6.54v6.55h-6.54zM425.84 221.42h6.54v6.55h-6.54zM335.21 227.47h6.54v6.55h-6.54zM341.26 227.47h6.54v6.55h-6.54zM347.3 227.47h6.54v6.55h-6.54zM359.38 227.47h6.54v6.55h-6.54zM365.42 227.47h6.54v6.55h-6.54zM371.46 227.47h6.54v6.55h-6.54zM377.51 227.47h6.54v6.55h-6.54zM383.55 227.47h6.54v6.55h-6.54zM274.8 233.53h6.54v6.55h-6.54zM335.21 233.53h6.54v6.55h-6.54zM353.34 233.53h6.54v6.55h-6.54zM359.38 233.53h6.54v6.55h-6.54zM371.46 233.53h6.54v6.55h-6.54zM377.51 233.53h6.54v6.55h-6.54zM395.63 233.53h6.54v6.55h-6.54zM413.76 233.53h6.54v6.55h-6.54zM365.42 239.58h6.54v6.55h-6.54zM419.8 239.58h6.54v6.55h-6.54zM268.75 245.63h6.54v6.55h-6.54zM329.17 245.63h6.54v6.55h-6.54zM341.26 245.63h6.54v6.55h-6.54zM383.55 245.63h6.54v6.55h-6.54zM407.71 245.63h6.54v6.55h-6.54zM268.75 251.68h6.54v6.55h-6.54zM317.09 251.68h6.54v6.55h-6.54zM335.21 251.68h6.54v6.55h-6.54zM341.26 251.68h6.54v6.55h-6.54zM359.38 251.68h6.54v6.55h-6.54zM395.63 251.68h6.54v6.55h-6.54zM407.71 251.68h6.54v6.55h-6.54zM431.88 251.68h6.54v6.55h-6.54zM268.75 257.73h6.54v6.55h-6.54zM365.42 257.73h6.54v6.55h-6.54zM377.51 257.73h6.54v6.55h-6.54zM286.88 263.79h6.54v6.55h-6.54zM298.96 263.79h6.54v6.55h-6.54zM323.13 263.79h6.54v6.55h-6.54zM329.17 263.79h6.54v6.55h-6.54zM377.51 263.79h6.54v6.55h-6.54zM395.63 263.79h6.54v6.55h-6.54zM268.75 269.84h6.54v6.55h-6.54zM286.88 269.84h6.54v6.55h-6.54zM329.17 269.84h6.54v6.55h-6.54zM341.26 269.84h6.54v6.55h-6.54zM353.34 269.84h6.54v6.55h-6.54zM359.38 269.84h6.54v6.55h-6.54zM365.42 269.84h6.54v6.55h-6.54zM383.55 269.84h6.54v6.55h-6.54zM395.63 269.84h6.54v6.55h-6.54zM425.84 269.84h6.54v6.55h-6.54zM268.75 275.89h6.54v6.55h-6.54zM341.26 275.89h6.54v6.55h-6.54zM353.34 275.89h6.54v6.55h-6.54zM268.75 281.94h6.54v6.55h-6.54zM323.13 281.94h6.54v6.55h-6.54zM341.26 281.94h6.54v6.55h-6.54zM347.3 281.94h6.54v6.55h-6.54zM359.38 281.94h6.54v6.55h-6.54zM365.42 281.94h6.54v6.55h-6.54zM383.55 281.94h6.54v6.55h-6.54zM395.63 281.94h6.54v6.55h-6.54zM407.71 281.94h6.54v6.55h-6.54zM280.84 287.99h6.54v6.55h-6.54zM317.09 287.99h6.54v6.55h-6.54zM323.13 287.99h6.54v6.55h-6.54zM335.21 287.99h6.54v6.55h-6.54zM365.42 287.99h6.54v6.55h-6.54zM377.51 287.99h6.54v6.55h-6.54zM341.26 294.05h6.54v6.55h-6.54zM359.38 294.05h6.54v6.55h-6.54zM377.51 294.05h6.54v6.55h-6.54zM383.55 294.05h6.54v6.55h-6.54zM389.59 294.05h6.54v6.55h-6.54zM413.76 294.05h6.54v6.55h-6.54zM329.17 300.1h6.54v6.55h-6.54zM341.26 300.1h6.54v6.55h-6.54zM353.34 300.1h6.54v6.55h-6.54zM377.51 300.1h6.54v6.55h-6.54zM419.8 300.1h6.54v6.55h-6.54z"/><path fill="#1e1a68" d="M147.92 33.81h6.54v6.55h-6.54zM160 33.81h6.54v6.55h-6.54zM172.09 33.81h6.54v6.55h-6.54zM190.21 33.81h6.54v6.55h-6.54zM202.3 33.81h6.54v6.55h-6.54zM208.34 33.81h6.54v6.55h-6.54zM220.42 33.81h6.54v6.55h-6.54zM226.46 33.81h6.54v6.55h-6.54zM244.59 33.81h6.54v6.55h-6.54zM250.63 33.81h6.54v6.55h-6.54zM256.67 33.81h6.54v6.55h-6.54zM262.71 33.81h6.54v6.55h-6.54zM305 33.81h6.54v6.55h-6.54zM317.09 33.81h6.54v6.55h-6.54zM323.13 33.81h6.54v6.55h-6.54zM329.17 33.81h6.54v6.55h-6.54zM353.34 33.81h6.54v6.55h-6.54zM383.55 33.81h6.54v6.55h-6.54zM389.59 33.81h6.54v6.55h-6.54zM395.63 33.81h6.54v6.55h-6.54zM147.92 39.86h6.54v6.55h-6.54zM153.96 39.86h6.54v6.55h-6.54zM238.55 39.86h6.54v6.55h-6.54zM268.75 39.86h6.54v6.55h-6.54zM298.96 39.86h6.54v6.55h-6.54zM311.05 39.86h6.54v6.55h-6.54zM341.26 39.86h6.54v6.55h-6.54zM353.34 39.86h6.54v6.55h-6.54zM99.59 45.91h6.54v6.55h-6.54zM105.63 45.91h6.54v6.55h-6.54zM147.92 45.91h6.54v6.55h-6.54zM153.96 45.91h6.54v6.55h-6.54zM166.05 45.91h6.54v6.55h-6.54zM196.25 45.91h6.54v6.55h-6.54zM202.3 45.91h6.54v6.55h-6.54zM208.34 45.91h6.54v6.55h-6.54zM244.59 45.91h6.54v6.55h-6.54zM256.67 45.91h6.54v6.55h-6.54zM268.75 45.91h6.54v6.55h-6.54zM274.8 45.91h6.54v6.55h-6.54zM286.88 45.91h6.54v6.55h-6.54zM292.92 45.91h6.54v6.55h-6.54zM298.96 45.91h6.54v6.55h-6.54zM311.05 45.91h6.54v6.55h-6.54zM317.09 45.91h6.54v6.55h-6.54zM341.26 45.91h6.54v6.55h-6.54zM377.51 45.91h6.54v6.55h-6.54zM407.71 45.91h6.54v6.55h-6.54zM413.76 45.91h6.54v6.55h-6.54zM419.8 45.91h6.54v6.55h-6.54zM425.84 45.91h6.54v6.55h-6.54zM166.05 51.97h6.54v6.55h-6.54zM172.09 51.97h6.54v6.55h-6.54zM250.63 51.97h6.54v6.55h-6.54zM305 51.97h6.54v6.55h-6.54zM317.09 51.97h6.54v6.55h-6.54zM323.13 51.97h6.54v6.55h-6.54zM329.17 51.97h6.54v6.55h-6.54zM335.21 51.97h6.54v6.55h-6.54zM347.3 51.97h6.54v6.55h-6.54zM353.34 51.97h6.54v6.55h-6.54zM359.38 51.97h6.54v6.55h-6.54zM365.42 51.97h6.54v6.55h-6.54zM377.51 51.97h6.54v6.55h-6.54zM395.63 51.97h6.54v6.55h-6.54zM401.67 51.97h6.54v6.55h-6.54zM419.8 51.97h6.54v6.55h-6.54zM147.92 58.02h6.54v6.55h-6.54zM178.13 58.02h6.54v6.55h-6.54zM190.21 58.02h6.54v6.55h-6.54zM196.25 58.02h6.54v6.55h-6.54zM214.38 58.02h6.54v6.55h-6.54zM232.5 58.02h6.54v6.55h-6.54zM262.71 58.02h6.54v6.55h-6.54zM268.75 58.02h6.54v6.55h-6.54zM286.88 58.02h6.54v6.55h-6.54zM298.96 58.02h6.54v6.55h-6.54zM335.21 58.02h6.54v6.55h-6.54zM353.34 58.02h6.54v6.55h-6.54zM383.55 58.02h6.54v6.55h-6.54zM431.88 58.02h6.54v6.55h-6.54zM147.92 64.07h6.54v6.55h-6.54zM160 64.07h6.54v6.55h-6.54zM184.17 64.07h6.54v6.55h-6.54zM190.21 64.07h6.54v6.55h-6.54zM196.25 64.07h6.54v6.55h-6.54zM208.34 64.07h6.54v6.55h-6.54zM262.71 64.07h6.54v6.55h-6.54zM268.75 64.07h6.54v6.55h-6.54zM274.8 64.07h6.54v6.55h-6.54zM280.84 64.07h6.54v6.55h-6.54zM353.34 64.07h6.54v6.55h-6.54zM359.38 64.07h6.54v6.55h-6.54zM371.46 64.07h6.54v6.55h-6.54zM377.51 64.07h6.54v6.55h-6.54zM425.84 64.07h6.54v6.55h-6.54zM172.09 70.12h6.54v6.55h-6.54zM286.88 70.12h6.54v6.55h-6.54zM371.46 70.12h6.54v6.55h-6.54zM377.51 70.12h6.54v6.55h-6.54zM383.55 70.12h6.54v6.55h-6.54zM401.67 70.12h6.54v6.55h-6.54zM196.25 76.17h6.54v6.55h-6.54zM208.34 76.17h6.54v6.55h-6.54zM244.59 76.17h6.54v6.55h-6.54zM323.13 76.17h6.54v6.55h-6.54zM329.17 76.17h6.54v6.55h-6.54zM335.21 76.17h6.54v6.55h-6.54zM341.26 76.17h6.54v6.55h-6.54zM359.38 76.17h6.54v6.55h-6.54zM377.51 76.17h6.54v6.55h-6.54zM208.34 82.23h6.54v6.55h-6.54zM274.8 82.23h6.54v6.55h-6.54zM286.88 82.23h6.54v6.55h-6.54zM305 82.23h6.54v6.55h-6.54zM407.71 82.23h6.54v6.55h-6.54zM166.05 88.28h6.54v6.55h-6.54zM172.09 88.28h6.54v6.55h-6.54zM317.09 88.28h6.54v6.55h-6.54zM347.3 88.28h6.54v6.55h-6.54zM353.34 88.28h6.54v6.55h-6.54zM365.42 88.28h6.54v6.55h-6.54zM371.46 88.28h6.54v6.55h-6.54zM377.51 88.28h6.54v6.55h-6.54zM401.67 88.28h6.54v6.55h-6.54zM419.8 88.28h6.54v6.55h-6.54zM147.92 94.33h6.54v6.55h-6.54zM196.25 94.33h6.54v6.55h-6.54zM232.5 94.33h6.54v6.55h-6.54zM250.63 94.33h6.54v6.55h-6.54zM274.8 94.33h6.54v6.55h-6.54zM298.96 94.33h6.54v6.55h-6.54zM323.13 94.33h6.54v6.55h-6.54zM329.17 94.33h6.54v6.55h-6.54zM335.21 94.33h6.54v6.55h-6.54zM347.3 94.33h6.54v6.55h-6.54zM353.34 94.33h6.54v6.55h-6.54zM383.55 94.33h6.54v6.55h-6.54zM389.59 94.33h6.54v6.55h-6.54zM413.76 94.33h6.54v6.55h-6.54zM419.8 94.33h6.54v6.55h-6.54zM27.09 100.38h6.54v6.55h-6.54zM99.59 100.38h6.54v6.55h-6.54zM160 100.38h6.54v6.55h-6.54zM172.09 100.38h6.54v6.55h-6.54zM208.34 100.38h6.54v6.55h-6.54zM214.38 100.38h6.54v6.55h-6.54zM226.46 100.38h6.54v6.55h-6.54zM232.5 100.38h6.54v6.55h-6.54zM238.55 100.38h6.54v6.55h-6.54zM244.59 100.38h6.54v6.55h-6.54zM250.63 100.38h6.54v6.55h-6.54zM274.8 100.38h6.54v6.55h-6.54zM286.88 100.38h6.54v6.55h-6.54zM298.96 100.38h6.54v6.55h-6.54zM305 100.38h6.54v6.55h-6.54zM311.05 100.38h6.54v6.55h-6.54zM329.17 100.38h6.54v6.55h-6.54zM347.3 100.38h6.54v6.55h-6.54zM208.34 106.43h6.54v6.55h-6.54zM268.75 106.43h6.54v6.55h-6.54zM274.8 106.43h6.54v6.55h-6.54zM292.92 106.43h6.54v6.55h-6.54zM317.09 106.43h6.54v6.55h-6.54zM347.3 106.43h6.54v6.55h-6.54zM377.51 106.43h6.54v6.55h-6.54zM383.55 106.43h6.54v6.55h-6.54zM389.59 106.43h6.54v6.55h-6.54zM401.67 106.43h6.54v6.55h-6.54zM419.8 106.43h6.54v6.55h-6.54zM99.59 112.49h6.54v6.55h-6.54zM172.09 112.49h6.54v6.55h-6.54zM220.42 112.49h6.54v6.55h-6.54zM244.59 112.49h6.54v6.55h-6.54zM262.71 112.49h6.54v6.55h-6.54zM268.75 112.49h6.54v6.55h-6.54zM286.88 112.49h6.54v6.55h-6.54zM298.96 112.49h6.54v6.55h-6.54zM305 112.49h6.54v6.55h-6.54zM317.09 112.49h6.54v6.55h-6.54zM377.51 112.49h6.54v6.55h-6.54zM395.63 112.49h6.54v6.55h-6.54zM172.09 118.54h6.54v6.55h-6.54zM305 118.54h6.54v6.55h-6.54zM311.05 118.54h6.54v6.55h-6.54zM317.09 118.54h6.54v6.55h-6.54zM335.21 118.54h6.54v6.55h-6.54zM377.51 118.54h6.54v6.55h-6.54zM413.76 118.54h6.54v6.55h-6.54zM425.84 118.54h6.54v6.55h-6.54zM431.88 118.54h6.54v6.55h-6.54zM2.92 124.59h6.54v6.55h-6.54zM8.96 124.59h6.54v6.55h-6.54zM33.13 124.59h6.54v6.55h-6.54zM45.21 124.59h6.54v6.55h-6.54zM51.25 124.59h6.54v6.55h-6.54zM280.84 124.59h6.54v6.55h-6.54zM292.92 124.59h6.54v6.55h-6.54zM335.21 124.59h6.54v6.55h-6.54zM395.63 124.59h6.54v6.55h-6.54zM407.71 124.59h6.54v6.55h-6.54zM419.8 124.59h6.54v6.55h-6.54zM431.88 124.59h6.54v6.55h-6.54zM99.59 130.64h6.54v6.55h-6.54zM341.26 130.64h6.54v6.55h-6.54zM407.71 130.64h6.54v6.55h-6.54zM425.84 130.64h6.54v6.55h-6.54zM8.96 136.69h6.54v6.55h-6.54zM51.25 136.69h6.54v6.55h-6.54zM57.3 136.69h6.54v6.55h-6.54zM69.38 136.69h6.54v6.55h-6.54zM81.46 136.69h6.54v6.55h-6.54zM111.67 136.69h6.54v6.55h-6.54zM268.75 136.69h6.54v6.55h-6.54zM298.96 136.69h6.54v6.55h-6.54zM305 136.69h6.54v6.55h-6.54zM323.13 136.69h6.54v6.55h-6.54zM335.21 136.69h6.54v6.55h-6.54zM341.26 136.69h6.54v6.55h-6.54zM353.34 136.69h6.54v6.55h-6.54zM365.42 136.69h6.54v6.55h-6.54zM383.55 136.69h6.54v6.55h-6.54zM413.76 136.69h6.54v6.55h-6.54zM419.8 136.69h6.54v6.55h-6.54zM425.84 136.69h6.54v6.55h-6.54zM268.75 142.75h6.54v6.55h-6.54zM274.8 142.75h6.54v6.55h-6.54zM286.88 142.75h6.54v6.55h-6.54zM298.96 142.75h6.54v6.55h-6.54zM347.3 142.75h6.54v6.55h-6.54zM353.34 142.75h6.54v6.55h-6.54zM365.42 142.75h6.54v6.55h-6.54zM371.46 142.75h6.54v6.55h-6.54zM15 148.8h6.54v6.55h-6.54zM57.3 148.8h6.54v6.55h-6.54zM87.5 148.8h6.54v6.55h-6.54zM93.55 148.8h6.54v6.55h-6.54zM105.63 148.8h6.54v6.55h-6.54zM129.8 148.8h6.54v6.55h-6.54zM232.5 148.8h6.54v6.55h-6.54zM268.75 148.8h6.54v6.55h-6.54zM298.96 148.8h6.54v6.55h-6.54zM305 148.8h6.54v6.55h-6.54zM311.05 148.8h6.54v6.55h-6.54zM317.09 148.8h6.54v6.55h-6.54zM365.42 148.8h6.54v6.55h-6.54zM395.63 148.8h6.54v6.55h-6.54zM401.67 148.8h6.54v6.55h-6.54zM407.71 148.8h6.54v6.55h-6.54zM413.76 148.8h6.54v6.55h-6.54zM419.8 148.8h6.54v6.55h-6.54zM2.92 154.85h6.54v6.55h-6.54zM8.96 154.85h6.54v6.55h-6.54zM15 154.85h6.54v6.55h-6.54zM33.13 154.85h6.54v6.55h-6.54zM45.21 154.85h6.54v6.55h-6.54zM141.88 154.85h6.54v6.55h-6.54zM166.05 154.85h6.54v6.55h-6.54zM274.8 154.85h6.54v6.55h-6.54zM335.21 154.85h6.54v6.55h-6.54zM401.67 154.85h6.54v6.55h-6.54zM407.71 154.85h6.54v6.55h-6.54zM419.8 154.85h6.54v6.55h-6.54zM425.84 154.85h6.54v6.55h-6.54zM431.88 154.85h6.54v6.55h-6.54zM51.25 160.9h6.54v6.55h-6.54zM268.75 160.9h6.54v6.55h-6.54zM274.8 160.9h6.54v6.55h-6.54zM280.84 160.9h6.54v6.55h-6.54zM317.09 160.9h6.54v6.55h-6.54zM329.17 160.9h6.54v6.55h-6.54zM407.71 160.9h6.54v6.55h-6.54zM413.76 160.9h6.54v6.55h-6.54zM419.8 160.9h6.54v6.55h-6.54zM39.17 166.95h6.54v6.55h-6.54zM51.25 166.95h6.54v6.55h-6.54zM75.42 166.95h6.54v6.55h-6.54zM81.46 166.95h6.54v6.55h-6.54zM99.59 166.95h6.54v6.55h-6.54zM111.67 166.95h6.54v6.55h-6.54zM135.84 166.95h6.54v6.55h-6.54zM226.46 166.95h6.54v6.55h-6.54zM292.92 166.95h6.54v6.55h-6.54zM329.17 166.95h6.54v6.55h-6.54zM21.05 173.01h6.54v6.55h-6.54zM27.09 173.01h6.54v6.55h-6.54zM51.25 173.01h6.54v6.55h-6.54zM75.42 173.01h6.54v6.55h-6.54zM93.55 173.01h6.54v6.55h-6.54zM99.59 173.01h6.54v6.55h-6.54zM123.75 173.01h6.54v6.55h-6.54zM153.96 173.01h6.54v6.55h-6.54zM274.8 173.01h6.54v6.55h-6.54zM286.88 173.01h6.54v6.55h-6.54zM298.96 173.01h6.54v6.55h-6.54zM317.09 173.01h6.54v6.55h-6.54zM329.17 173.01h6.54v6.55h-6.54zM353.34 173.01h6.54v6.55h-6.54zM383.55 173.01h6.54v6.55h-6.54zM389.59 173.01h6.54v6.55h-6.54zM419.8 173.01h6.54v6.55h-6.54zM431.88 173.01h6.54v6.55h-6.54zM268.75 179.06h6.54v6.55h-6.54zM298.96 179.06h6.54v6.55h-6.54zM305 179.06h6.54v6.55h-6.54zM341.26 179.06h6.54v6.55h-6.54zM347.3 179.06h6.54v6.55h-6.54zM99.59 185.11h6.54v6.55h-6.54zM141.88 185.11h6.54v6.55h-6.54zM153.96 185.11h6.54v6.55h-6.54zM298.96 185.11h6.54v6.55h-6.54zM311.05 185.11h6.54v6.55h-6.54zM341.26 185.11h6.54v6.55h-6.54zM347.3 185.11h6.54v6.55h-6.54zM365.42 185.11h6.54v6.55h-6.54zM371.46 185.11h6.54v6.55h-6.54zM389.59 185.11h6.54v6.55h-6.54zM407.71 185.11h6.54v6.55h-6.54zM419.8 185.11h6.54v6.55h-6.54zM425.84 185.11h6.54v6.55h-6.54zM111.67 191.16h6.54v6.55h-6.54zM268.75 191.16h6.54v6.55h-6.54zM292.92 191.16h6.54v6.55h-6.54zM347.3 191.16h6.54v6.55h-6.54zM365.42 191.16h6.54v6.55h-6.54zM383.55 191.16h6.54v6.55h-6.54zM419.8 191.16h6.54v6.55h-6.54zM431.88 191.16h6.54v6.55h-6.54zM268.75 197.21h6.54v6.55h-6.54zM286.88 197.21h6.54v6.55h-6.54zM335.21 197.21h6.54v6.55h-6.54zM347.3 197.21h6.54v6.55h-6.54zM371.46 197.21h6.54v6.55h-6.54zM395.63 197.21h6.54v6.55h-6.54zM407.71 197.21h6.54v6.55h-6.54zM413.76 197.21h6.54v6.55h-6.54zM57.3 203.27h6.54v6.55h-6.54zM105.63 203.27h6.54v6.55h-6.54zM298.96 203.27h6.54v6.55h-6.54zM311.05 203.27h6.54v6.55h-6.54zM317.09 203.27h6.54v6.55h-6.54zM335.21 203.27h6.54v6.55h-6.54zM407.71 203.27h6.54v6.55h-6.54zM419.8 203.27h6.54v6.55h-6.54zM425.84 203.27h6.54v6.55h-6.54zM15 209.32h6.54v6.55h-6.54zM27.09 209.32h6.54v6.55h-6.54zM117.71 209.32h6.54v6.55h-6.54zM135.84 209.32h6.54v6.55h-6.54zM141.88 209.32h6.54v6.55h-6.54zM286.88 209.32h6.54v6.55h-6.54zM39.17 215.37h6.54v6.55h-6.54zM45.21 215.37h6.54v6.55h-6.54zM51.25 215.37h6.54v6.55h-6.54zM87.5 215.37h6.54v6.55h-6.54zM226.46 215.37h6.54v6.55h-6.54zM371.46 215.37h6.54v6.55h-6.54zM2.92 221.42h6.54v6.55h-6.54zM15 221.42h6.54v6.55h-6.54zM63.34 221.42h6.54v6.55h-6.54zM69.38 221.42h6.54v6.55h-6.54zM81.46 221.42h6.54v6.55h-6.54zM87.5 221.42h6.54v6.55h-6.54zM178.13 221.42h6.54v6.55h-6.54zM226.46 221.42h6.54v6.55h-6.54zM105.63 227.47h6.54v6.55h-6.54zM129.8 227.47h6.54v6.55h-6.54zM153.96 227.47h6.54v6.55h-6.54zM196.25 227.47h6.54v6.55h-6.54zM63.34 233.53h6.54v6.55h-6.54zM105.63 233.53h6.54v6.55h-6.54zM141.88 233.53h6.54v6.55h-6.54zM292.92 233.53h6.54v6.55h-6.54zM2.92 239.58h6.54v6.55h-6.54zM8.96 239.58h6.54v6.55h-6.54zM27.09 239.58h6.54v6.55h-6.54zM33.13 239.58h6.54v6.55h-6.54zM51.25 239.58h6.54v6.55h-6.54zM63.34 239.58h6.54v6.55h-6.54zM81.46 239.58h6.54v6.55h-6.54zM87.5 239.58h6.54v6.55h-6.54zM111.67 239.58h6.54v6.55h-6.54zM117.71 239.58h6.54v6.55h-6.54zM135.84 239.58h6.54v6.55h-6.54zM226.46 239.58h6.54v6.55h-6.54zM238.55 239.58h6.54v6.55h-6.54zM250.63 239.58h6.54v6.55h-6.54zM298.96 239.58h6.54v6.55h-6.54zM329.17 239.58h6.54v6.55h-6.54zM341.26 239.58h6.54v6.55h-6.54zM93.55 245.63h6.54v6.55h-6.54zM105.63 245.63h6.54v6.55h-6.54zM250.63 245.63h6.54v6.55h-6.54zM311.05 245.63h6.54v6.55h-6.54zM21.05 251.68h6.54v6.55h-6.54zM33.13 251.68h6.54v6.55h-6.54zM51.25 251.68h6.54v6.55h-6.54zM75.42 251.68h6.54v6.55h-6.54zM81.46 251.68h6.54v6.55h-6.54zM111.67 251.68h6.54v6.55h-6.54zM190.21 251.68h6.54v6.55h-6.54zM202.3 251.68h6.54v6.55h-6.54zM250.63 251.68h6.54v6.55h-6.54zM256.67 251.68h6.54v6.55h-6.54zM383.55 251.68h6.54v6.55h-6.54zM57.3 257.73h6.54v6.55h-6.54zM129.8 257.73h6.54v6.55h-6.54zM172.09 257.73h6.54v6.55h-6.54zM238.55 257.73h6.54v6.55h-6.54zM21.05 263.79h6.54v6.55h-6.54zM45.21 263.79h6.54v6.55h-6.54zM147.92 269.84h6.54v6.55h-6.54zM184.17 269.84h6.54v6.55h-6.54zM15 275.89h6.54v6.55h-6.54zM33.13 275.89h6.54v6.55h-6.54zM39.17 275.89h6.54v6.55h-6.54zM63.34 275.89h6.54v6.55h-6.54zM93.55 275.89h6.54v6.55h-6.54zM105.63 275.89h6.54v6.55h-6.54zM141.88 275.89h6.54v6.55h-6.54zM166.05 275.89h6.54v6.55h-6.54zM208.34 275.89h6.54v6.55h-6.54zM238.55 275.89h6.54v6.55h-6.54zM262.71 275.89h6.54v6.55h-6.54zM347.3 275.89h6.54v6.55h-6.54zM401.67 275.89h6.54v6.55h-6.54zM21.05 281.94h6.54v6.55h-6.54zM69.38 281.94h6.54v6.55h-6.54zM105.63 281.94h6.54v6.55h-6.54zM172.09 281.94h6.54v6.55h-6.54zM196.25 281.94h6.54v6.55h-6.54zM311.05 281.94h6.54v6.55h-6.54zM45.21 287.99h6.54v6.55h-6.54zM51.25 287.99h6.54v6.55h-6.54zM63.34 287.99h6.54v6.55h-6.54zM99.59 287.99h6.54v6.55h-6.54zM111.67 287.99h6.54v6.55h-6.54zM184.17 287.99h6.54v6.55h-6.54zM226.46 287.99h6.54v6.55h-6.54zM172.09 294.05h6.54v6.55h-6.54zM2.92 300.1h6.54v6.55h-6.54zM21.05 300.1h6.54v6.55h-6.54zM81.46 300.1h6.54v6.55h-6.54zM87.5 300.1h6.54v6.55h-6.54zM93.55 300.1h6.54v6.55h-6.54zM147.92 300.1h6.54v6.55h-6.54zM153.96 300.1h6.54v6.55h-6.54zM178.13 300.1h6.54v6.55h-6.54zM196.25 300.1h6.54v6.55h-6.54zM208.34 300.1h6.54v6.55h-6.54zM262.71 300.1h6.54v6.55h-6.54zM371.46 300.1h6.54v6.55h-6.54z"/><path fill="#3e1670" d="M153.96 33.81h6.54v6.55h-6.54zM166.05 33.81h6.54v6.55h-6.54zM178.13 33.81h6.54v6.55h-6.54zM184.17 33.81h6.54v6.55h-6.54zM196.25 33.81h6.54v6.55h-6.54zM214.38 33.81h6.54v6.55h-6.54zM232.5 33.81h6.54v6.55h-6.54zM238.55 33.81h6.54v6.55h-6.54zM274.8 33.81h6.54v6.55h-6.54zM280.84 33.81h6.54v6.55h-6.54zM286.88 33.81h6.54v6.55h-6.54zM292.92 33.81h6.54v6.55h-6.54zM298.96 33.81h6.54v6.55h-6.54zM311.05 33.81h6.54v6.55h-6.54zM341.26 33.81h6.54v6.55h-6.54zM347.3 33.81h6.54v6.55h-6.54zM359.38 33.81h6.54v6.55h-6.54zM365.42 33.81h6.54v6.55h-6.54zM371.46 33.81h6.54v6.55h-6.54zM377.51 33.81h6.54v6.55h-6.54zM401.67 33.81h6.54v6.55h-6.54zM407.71 33.81h6.54v6.55h-6.54zM413.76 33.81h6.54v6.55h-6.54zM425.84 33.81h6.54v6.55h-6.54zM431.88 33.81h6.54v6.55h-6.54zM196.25 39.86h6.54v6.55h-6.54zM208.34 39.86h6.54v6.55h-6.54zM244.59 39.86h6.54v6.55h-6.54zM274.8 39.86h6.54v6.55h-6.54zM286.88 39.86h6.54v6.55h-6.54zM292.92 39.86h6.54v6.55h-6.54zM305 39.86h6.54v6.55h-6.54zM317.09 39.86h6.54v6.55h-6.54zM323.13 39.86h6.54v6.55h-6.54zM347.3 39.86h6.54v6.55h-6.54zM359.38 39.86h6.54v6.55h-6.54zM365.42 39.86h6.54v6.55h-6.54zM371.46 39.86h6.54v6.55h-6.54zM377.51 39.86h6.54v6.55h-6.54zM383.55 39.86h6.54v6.55h-6.54zM389.59 39.86h6.54v6.55h-6.54zM395.63 39.86h6.54v6.55h-6.54zM401.67 39.86h6.54v6.55h-6.54zM407.71 39.86h6.54v6.55h-6.54zM413.76 39.86h6.54v6.55h-6.54zM419.8 39.86h6.54v6.55h-6.54zM425.84 39.86h6.54v6.55h-6.54zM431.88 39.86h6.54v6.55h-6.54zM160 45.91h6.54v6.55h-6.54zM178.13 45.91h6.54v6.55h-6.54zM184.17 45.91h6.54v6.55h-6.54zM190.21 45.91h6.54v6.55h-6.54zM238.55 45.91h6.54v6.55h-6.54zM250.63 45.91h6.54v6.55h-6.54zM280.84 45.91h6.54v6.55h-6.54zM305 45.91h6.54v6.55h-6.54zM323.13 45.91h6.54v6.55h-6.54zM335.21 45.91h6.54v6.55h-6.54zM347.3 45.91h6.54v6.55h-6.54zM353.34 45.91h6.54v6.55h-6.54zM359.38 45.91h6.54v6.55h-6.54zM365.42 45.91h6.54v6.55h-6.54zM371.46 45.91h6.54v6.55h-6.54zM383.55 45.91h6.54v6.55h-6.54zM389.59 45.91h6.54v6.55h-6.54zM395.63 45.91h6.54v6.55h-6.54zM401.67 45.91h6.54v6.55h-6.54zM431.88 45.91h6.54v6.55h-6.54zM153.96 51.97h6.54v6.55h-6.54zM190.21 51.97h6.54v6.55h-6.54zM196.25 51.97h6.54v6.55h-6.54zM202.3 51.97h6.54v6.55h-6.54zM208.34 51.97h6.54v6.55h-6.54zM214.38 51.97h6.54v6.55h-6.54zM226.46 51.97h6.54v6.55h-6.54zM232.5 51.97h6.54v6.55h-6.54zM244.59 51.97h6.54v6.55h-6.54zM268.75 51.97h6.54v6.55h-6.54zM274.8 51.97h6.54v6.55h-6.54zM280.84 51.97h6.54v6.55h-6.54zM286.88 51.97h6.54v6.55h-6.54zM292.92 51.97h6.54v6.55h-6.54zM298.96 51.97h6.54v6.55h-6.54zM311.05 51.97h6.54v6.55h-6.54zM341.26 51.97h6.54v6.55h-6.54zM371.46 51.97h6.54v6.55h-6.54zM383.55 51.97h6.54v6.55h-6.54zM389.59 51.97h6.54v6.55h-6.54zM407.71 51.97h6.54v6.55h-6.54zM413.76 51.97h6.54v6.55h-6.54zM425.84 51.97h6.54v6.55h-6.54zM431.88 51.97h6.54v6.55h-6.54zM153.96 58.02h6.54v6.55h-6.54zM172.09 58.02h6.54v6.55h-6.54zM208.34 58.02h6.54v6.55h-6.54zM238.55 58.02h6.54v6.55h-6.54zM274.8 58.02h6.54v6.55h-6.54zM280.84 58.02h6.54v6.55h-6.54zM292.92 58.02h6.54v6.55h-6.54zM305 58.02h6.54v6.55h-6.54zM311.05 58.02h6.54v6.55h-6.54zM317.09 58.02h6.54v6.55h-6.54zM329.17 58.02h6.54v6.55h-6.54zM341.26 58.02h6.54v6.55h-6.54zM359.38 58.02h6.54v6.55h-6.54zM365.42 58.02h6.54v6.55h-6.54zM371.46 58.02h6.54v6.55h-6.54zM377.51 58.02h6.54v6.55h-6.54zM389.59 58.02h6.54v6.55h-6.54zM395.63 58.02h6.54v6.55h-6.54zM407.71 58.02h6.54v6.55h-6.54zM413.76 58.02h6.54v6.55h-6.54zM419.8 58.02h6.54v6.55h-6.54zM425.84 58.02h6.54v6.55h-6.54zM153.96 64.07h6.54v6.55h-6.54zM166.05 64.07h6.54v6.55h-6.54zM286.88 64.07h6.54v6.55h-6.54zM292.92 64.07h6.54v6.55h-6.54zM305 64.07h6.54v6.55h-6.54zM311.05 64.07h6.54v6.55h-6.54zM317.09 64.07h6.54v6.55h-6.54zM335.21 64.07h6.54v6.55h-6.54zM347.3 64.07h6.54v6.55h-6.54zM383.55 64.07h6.54v6.55h-6.54zM389.59 64.07h6.54v6.55h-6.54zM395.63 64.07h6.54v6.55h-6.54zM407.71 64.07h6.54v6.55h-6.54zM413.76 64.07h6.54v6.55h-6.54zM419.8 64.07h6.54v6.55h-6.54zM431.88 64.07h6.54v6.55h-6.54zM153.96 70.12h6.54v6.55h-6.54zM196.25 70.12h6.54v6.55h-6.54zM208.34 70.12h6.54v6.55h-6.54zM274.8 70.12h6.54v6.55h-6.54zM292.92 70.12h6.54v6.55h-6.54zM305 70.12h6.54v6.55h-6.54zM311.05 70.12h6.54v6.55h-6.54zM317.09 70.12h6.54v6.55h-6.54zM335.21 70.12h6.54v6.55h-6.54zM347.3 70.12h6.54v6.55h-6.54zM359.38 70.12h6.54v6.55h-6.54zM365.42 70.12h6.54v6.55h-6.54zM389.59 70.12h6.54v6.55h-6.54zM395.63 70.12h6.54v6.55h-6.54zM413.76 70.12h6.54v6.55h-6.54zM419.8 70.12h6.54v6.55h-6.54zM425.84 70.12h6.54v6.55h-6.54zM431.88 70.12h6.54v6.55h-6.54zM153.96 76.17h6.54v6.55h-6.54zM268.75 76.17h6.54v6.55h-6.54zM274.8 76.17h6.54v6.55h-6.54zM286.88 76.17h6.54v6.55h-6.54zM292.92 76.17h6.54v6.55h-6.54zM298.96 76.17h6.54v6.55h-6.54zM305 76.17h6.54v6.55h-6.54zM311.05 76.17h6.54v6.55h-6.54zM347.3 76.17h6.54v6.55h-6.54zM365.42 76.17h6.54v6.55h-6.54zM383.55 76.17h6.54v6.55h-6.54zM389.59 76.17h6.54v6.55h-6.54zM395.63 76.17h6.54v6.55h-6.54zM413.76 76.17h6.54v6.55h-6.54zM419.8 76.17h6.54v6.55h-6.54zM425.84 76.17h6.54v6.55h-6.54zM431.88 76.17h6.54v6.55h-6.54zM153.96 82.23h6.54v6.55h-6.54zM172.09 82.23h6.54v6.55h-6.54zM196.25 82.23h6.54v6.55h-6.54zM268.75 82.23h6.54v6.55h-6.54zM292.92 82.23h6.54v6.55h-6.54zM311.05 82.23h6.54v6.55h-6.54zM317.09 82.23h6.54v6.55h-6.54zM335.21 82.23h6.54v6.55h-6.54zM353.34 82.23h6.54v6.55h-6.54zM371.46 82.23h6.54v6.55h-6.54zM389.59 82.23h6.54v6.55h-6.54zM395.63 82.23h6.54v6.55h-6.54zM153.96 88.28h6.54v6.55h-6.54zM184.17 88.28h6.54v6.55h-6.54zM190.21 88.28h6.54v6.55h-6.54zM196.25 88.28h6.54v6.55h-6.54zM202.3 88.28h6.54v6.55h-6.54zM208.34 88.28h6.54v6.55h-6.54zM232.5 88.28h6.54v6.55h-6.54zM238.55 88.28h6.54v6.55h-6.54zM244.59 88.28h6.54v6.55h-6.54zM250.63 88.28h6.54v6.55h-6.54zM268.75 88.28h6.54v6.55h-6.54zM274.8 88.28h6.54v6.55h-6.54zM280.84 88.28h6.54v6.55h-6.54zM286.88 88.28h6.54v6.55h-6.54zM292.92 88.28h6.54v6.55h-6.54zM298.96 88.28h6.54v6.55h-6.54zM305 88.28h6.54v6.55h-6.54zM311.05 88.28h6.54v6.55h-6.54zM323.13 88.28h6.54v6.55h-6.54zM335.21 88.28h6.54v6.55h-6.54zM341.26 88.28h6.54v6.55h-6.54zM359.38 88.28h6.54v6.55h-6.54zM383.55 88.28h6.54v6.55h-6.54zM389.59 88.28h6.54v6.55h-6.54zM395.63 88.28h6.54v6.55h-6.54zM407.71 88.28h6.54v6.55h-6.54zM413.76 88.28h6.54v6.55h-6.54zM425.84 88.28h6.54v6.55h-6.54zM431.88 88.28h6.54v6.55h-6.54zM160 94.33h6.54v6.55h-6.54zM166.05 94.33h6.54v6.55h-6.54zM172.09 94.33h6.54v6.55h-6.54zM184.17 94.33h6.54v6.55h-6.54zM190.21 94.33h6.54v6.55h-6.54zM208.34 94.33h6.54v6.55h-6.54zM220.42 94.33h6.54v6.55h-6.54zM226.46 94.33h6.54v6.55h-6.54zM238.55 94.33h6.54v6.55h-6.54zM244.59 94.33h6.54v6.55h-6.54zM262.71 94.33h6.54v6.55h-6.54zM268.75 94.33h6.54v6.55h-6.54zM280.84 94.33h6.54v6.55h-6.54zM286.88 94.33h6.54v6.55h-6.54zM292.92 94.33h6.54v6.55h-6.54zM305 94.33h6.54v6.55h-6.54zM311.05 94.33h6.54v6.55h-6.54zM317.09 94.33h6.54v6.55h-6.54zM341.26 94.33h6.54v6.55h-6.54zM359.38 94.33h6.54v6.55h-6.54zM371.46 94.33h6.54v6.55h-6.54zM377.51 94.33h6.54v6.55h-6.54zM395.63 94.33h6.54v6.55h-6.54zM401.67 94.33h6.54v6.55h-6.54zM407.71 94.33h6.54v6.55h-6.54zM425.84 94.33h6.54v6.55h-6.54zM431.88 94.33h6.54v6.55h-6.54zM117.71 100.38h6.54v6.55h-6.54zM147.92 100.38h6.54v6.55h-6.54zM153.96 100.38h6.54v6.55h-6.54zM166.05 100.38h6.54v6.55h-6.54zM178.13 100.38h6.54v6.55h-6.54zM184.17 100.38h6.54v6.55h-6.54zM190.21 100.38h6.54v6.55h-6.54zM196.25 100.38h6.54v6.55h-6.54zM202.3 100.38h6.54v6.55h-6.54zM220.42 100.38h6.54v6.55h-6.54zM256.67 100.38h6.54v6.55h-6.54zM262.71 100.38h6.54v6.55h-6.54zM268.75 100.38h6.54v6.55h-6.54zM280.84 100.38h6.54v6.55h-6.54zM292.92 100.38h6.54v6.55h-6.54zM317.09 100.38h6.54v6.55h-6.54zM323.13 100.38h6.54v6.55h-6.54zM335.21 100.38h6.54v6.55h-6.54zM341.26 100.38h6.54v6.55h-6.54zM353.34 100.38h6.54v6.55h-6.54zM359.38 100.38h6.54v6.55h-6.54zM365.42 100.38h6.54v6.55h-6.54zM371.46 100.38h6.54v6.55h-6.54zM377.51 100.38h6.54v6.55h-6.54zM383.55 100.38h6.54v6.55h-6.54zM389.59 100.38h6.54v6.55h-6.54zM395.63 100.38h6.54v6.55h-6.54zM401.67 100.38h6.54v6.55h-6.54zM407.71 100.38h6.54v6.55h-6.54zM413.76 100.38h6.54v6.55h-6.54zM419.8 100.38h6.54v6.55h-6.54zM425.84 100.38h6.54v6.55h-6.54zM431.88 100.38h6.54v6.55h-6.54zM286.88 106.43h6.54v6.55h-6.54zM353.34 106.43h6.54v6.55h-6.54zM365.42 106.43h6.54v6.55h-6.54zM371.46 106.43h6.54v6.55h-6.54zM395.63 106.43h6.54v6.55h-6.54zM407.71 106.43h6.54v6.55h-6.54zM15 112.49h6.54v6.55h-6.54zM153.96 112.49h6.54v6.55h-6.54zM166.05 112.49h6.54v6.55h-6.54zM196.25 112.49h6.54v6.55h-6.54zM202.3 112.49h6.54v6.55h-6.54zM214.38 112.49h6.54v6.55h-6.54zM226.46 112.49h6.54v6.55h-6.54zM232.5 112.49h6.54v6.55h-6.54zM238.55 112.49h6.54v6.55h-6.54zM250.63 112.49h6.54v6.55h-6.54zM292.92 112.49h6.54v6.55h-6.54zM311.05 112.49h6.54v6.55h-6.54zM323.13 112.49h6.54v6.55h-6.54zM329.17 112.49h6.54v6.55h-6.54zM335.21 112.49h6.54v6.55h-6.54zM341.26 112.49h6.54v6.55h-6.54zM347.3 112.49h6.54v6.55h-6.54zM353.34 112.49h6.54v6.55h-6.54zM359.38 112.49h6.54v6.55h-6.54zM365.42 112.49h6.54v6.55h-6.54zM371.46 112.49h6.54v6.55h-6.54zM383.55 112.49h6.54v6.55h-6.54zM389.59 112.49h6.54v6.55h-6.54zM401.67 112.49h6.54v6.55h-6.54zM407.71 112.49h6.54v6.55h-6.54zM413.76 112.49h6.54v6.55h-6.54zM425.84 112.49h6.54v6.55h-6.54zM431.88 112.49h6.54v6.55h-6.54zM208.34 118.54h6.54v6.55h-6.54zM232.5 118.54h6.54v6.55h-6.54zM244.59 118.54h6.54v6.55h-6.54zM268.75 118.54h6.54v6.55h-6.54zM274.8 118.54h6.54v6.55h-6.54zM280.84 118.54h6.54v6.55h-6.54zM286.88 118.54h6.54v6.55h-6.54zM292.92 118.54h6.54v6.55h-6.54zM298.96 118.54h6.54v6.55h-6.54zM329.17 118.54h6.54v6.55h-6.54zM341.26 118.54h6.54v6.55h-6.54zM347.3 118.54h6.54v6.55h-6.54zM353.34 118.54h6.54v6.55h-6.54zM359.38 118.54h6.54v6.55h-6.54zM365.42 118.54h6.54v6.55h-6.54zM371.46 118.54h6.54v6.55h-6.54zM383.55 118.54h6.54v6.55h-6.54zM389.59 118.54h6.54v6.55h-6.54zM395.63 118.54h6.54v6.55h-6.54zM401.67 118.54h6.54v6.55h-6.54zM407.71 118.54h6.54v6.55h-6.54zM419.8 118.54h6.54v6.55h-6.54zM15 124.59h6.54v6.55h-6.54zM81.46 124.59h6.54v6.55h-6.54zM87.5 124.59h6.54v6.55h-6.54zM99.59 124.59h6.54v6.55h-6.54zM105.63 124.59h6.54v6.55h-6.54zM117.71 124.59h6.54v6.55h-6.54zM129.8 124.59h6.54v6.55h-6.54zM135.84 124.59h6.54v6.55h-6.54zM141.88 124.59h6.54v6.55h-6.54zM274.8 124.59h6.54v6.55h-6.54zM365.42 124.59h6.54v6.55h-6.54zM401.67 124.59h6.54v6.55h-6.54zM15 130.64h6.54v6.55h-6.54zM141.88 130.64h6.54v6.55h-6.54zM298.96 130.64h6.54v6.55h-6.54zM347.3 130.64h6.54v6.55h-6.54zM359.38 130.64h6.54v6.55h-6.54zM365.42 130.64h6.54v6.55h-6.54zM419.8 130.64h6.54v6.55h-6.54zM431.88 130.64h6.54v6.55h-6.54zM2.92 136.69h6.54v6.55h-6.54zM15 136.69h6.54v6.55h-6.54zM21.05 136.69h6.54v6.55h-6.54zM33.13 136.69h6.54v6.55h-6.54zM39.17 136.69h6.54v6.55h-6.54zM63.34 136.69h6.54v6.55h-6.54zM75.42 136.69h6.54v6.55h-6.54zM87.5 136.69h6.54v6.55h-6.54zM105.63 136.69h6.54v6.55h-6.54zM123.75 136.69h6.54v6.55h-6.54zM135.84 136.69h6.54v6.55h-6.54zM141.88 136.69h6.54v6.55h-6.54zM244.59 136.69h6.54v6.55h-6.54zM274.8 136.69h6.54v6.55h-6.54zM286.88 136.69h6.54v6.55h-6.54zM311.05 136.69h6.54v6.55h-6.54zM317.09 136.69h6.54v6.55h-6.54zM359.38 136.69h6.54v6.55h-6.54zM371.46 136.69h6.54v6.55h-6.54zM377.51 136.69h6.54v6.55h-6.54zM389.59 136.69h6.54v6.55h-6.54zM401.67 136.69h6.54v6.55h-6.54zM407.71 136.69h6.54v6.55h-6.54zM431.88 136.69h6.54v6.55h-6.54zM15 142.75h6.54v6.55h-6.54zM99.59 142.75h6.54v6.55h-6.54zM141.88 142.75h6.54v6.55h-6.54zM292.92 142.75h6.54v6.55h-6.54zM341.26 142.75h6.54v6.55h-6.54zM359.38 142.75h6.54v6.55h-6.54zM377.51 142.75h6.54v6.55h-6.54zM383.55 142.75h6.54v6.55h-6.54zM395.63 142.75h6.54v6.55h-6.54zM401.67 142.75h6.54v6.55h-6.54zM407.71 142.75h6.54v6.55h-6.54zM419.8 142.75h6.54v6.55h-6.54zM431.88 142.75h6.54v6.55h-6.54zM8.96 148.8h6.54v6.55h-6.54zM33.13 148.8h6.54v6.55h-6.54zM51.25 148.8h6.54v6.55h-6.54zM75.42 148.8h6.54v6.55h-6.54zM81.46 148.8h6.54v6.55h-6.54zM99.59 148.8h6.54v6.55h-6.54zM117.71 148.8h6.54v6.55h-6.54zM123.75 148.8h6.54v6.55h-6.54zM135.84 148.8h6.54v6.55h-6.54zM141.88 148.8h6.54v6.55h-6.54zM244.59 148.8h6.54v6.55h-6.54zM286.88 148.8h6.54v6.55h-6.54zM335.21 148.8h6.54v6.55h-6.54zM347.3 148.8h6.54v6.55h-6.54zM371.46 148.8h6.54v6.55h-6.54zM383.55 148.8h6.54v6.55h-6.54zM51.25 154.85h6.54v6.55h-6.54zM81.46 154.85h6.54v6.55h-6.54zM87.5 154.85h6.54v6.55h-6.54zM99.59 154.85h6.54v6.55h-6.54zM105.63 154.85h6.54v6.55h-6.54zM117.71 154.85h6.54v6.55h-6.54zM129.8 154.85h6.54v6.55h-6.54zM135.84 154.85h6.54v6.55h-6.54zM280.84 154.85h6.54v6.55h-6.54zM365.42 154.85h6.54v6.55h-6.54zM389.59 154.85h6.54v6.55h-6.54zM395.63 154.85h6.54v6.55h-6.54zM105.63 160.9h6.54v6.55h-6.54zM129.8 160.9h6.54v6.55h-6.54zM141.88 160.9h6.54v6.55h-6.54zM286.88 160.9h6.54v6.55h-6.54zM292.92 160.9h6.54v6.55h-6.54zM305 160.9h6.54v6.55h-6.54zM311.05 160.9h6.54v6.55h-6.54zM347.3 160.9h6.54v6.55h-6.54zM383.55 160.9h6.54v6.55h-6.54zM389.59 160.9h6.54v6.55h-6.54zM395.63 160.9h6.54v6.55h-6.54zM425.84 160.9h6.54v6.55h-6.54zM431.88 160.9h6.54v6.55h-6.54zM2.92 166.95h6.54v6.55h-6.54zM8.96 166.95h6.54v6.55h-6.54zM15 166.95h6.54v6.55h-6.54zM21.05 166.95h6.54v6.55h-6.54zM27.09 166.95h6.54v6.55h-6.54zM33.13 166.95h6.54v6.55h-6.54zM45.21 166.95h6.54v6.55h-6.54zM57.3 166.95h6.54v6.55h-6.54zM63.34 166.95h6.54v6.55h-6.54zM69.38 166.95h6.54v6.55h-6.54zM87.5 166.95h6.54v6.55h-6.54zM93.55 166.95h6.54v6.55h-6.54zM117.71 166.95h6.54v6.55h-6.54zM123.75 166.95h6.54v6.55h-6.54zM129.8 166.95h6.54v6.55h-6.54zM141.88 166.95h6.54v6.55h-6.54zM341.26 166.95h6.54v6.55h-6.54zM407.71 166.95h6.54v6.55h-6.54zM2.92 173.01h6.54v6.55h-6.54zM8.96 173.01h6.54v6.55h-6.54zM15 173.01h6.54v6.55h-6.54zM33.13 173.01h6.54v6.55h-6.54zM39.17 173.01h6.54v6.55h-6.54zM45.21 173.01h6.54v6.55h-6.54zM57.3 173.01h6.54v6.55h-6.54zM63.34 173.01h6.54v6.55h-6.54zM69.38 173.01h6.54v6.55h-6.54zM81.46 173.01h6.54v6.55h-6.54zM87.5 173.01h6.54v6.55h-6.54zM105.63 173.01h6.54v6.55h-6.54zM111.67 173.01h6.54v6.55h-6.54zM117.71 173.01h6.54v6.55h-6.54zM129.8 173.01h6.54v6.55h-6.54zM135.84 173.01h6.54v6.55h-6.54zM141.88 173.01h6.54v6.55h-6.54zM280.84 173.01h6.54v6.55h-6.54zM292.92 173.01h6.54v6.55h-6.54zM323.13 173.01h6.54v6.55h-6.54zM335.21 173.01h6.54v6.55h-6.54zM341.26 173.01h6.54v6.55h-6.54zM407.71 173.01h6.54v6.55h-6.54zM413.76 173.01h6.54v6.55h-6.54zM274.8 179.06h6.54v6.55h-6.54zM353.34 179.06h6.54v6.55h-6.54zM395.63 179.06h6.54v6.55h-6.54zM407.71 179.06h6.54v6.55h-6.54zM431.88 179.06h6.54v6.55h-6.54zM15 185.11h6.54v6.55h-6.54zM51.25 185.11h6.54v6.55h-6.54zM105.63 185.11h6.54v6.55h-6.54zM117.71 185.11h6.54v6.55h-6.54zM274.8 185.11h6.54v6.55h-6.54zM401.67 185.11h6.54v6.55h-6.54zM413.76 185.11h6.54v6.55h-6.54zM431.88 185.11h6.54v6.55h-6.54zM15 191.16h6.54v6.55h-6.54zM69.38 191.16h6.54v6.55h-6.54zM141.88 191.16h6.54v6.55h-6.54zM286.88 191.16h6.54v6.55h-6.54zM353.34 191.16h6.54v6.55h-6.54zM395.63 191.16h6.54v6.55h-6.54zM401.67 191.16h6.54v6.55h-6.54zM274.8 197.21h6.54v6.55h-6.54zM292.92 197.21h6.54v6.55h-6.54zM305 197.21h6.54v6.55h-6.54zM353.34 197.21h6.54v6.55h-6.54zM365.42 197.21h6.54v6.55h-6.54zM383.55 197.21h6.54v6.55h-6.54zM419.8 197.21h6.54v6.55h-6.54zM425.84 197.21h6.54v6.55h-6.54zM431.88 197.21h6.54v6.55h-6.54zM21.05 203.27h6.54v6.55h-6.54zM141.88 203.27h6.54v6.55h-6.54zM268.75 203.27h6.54v6.55h-6.54zM286.88 203.27h6.54v6.55h-6.54zM323.13 203.27h6.54v6.55h-6.54zM329.17 203.27h6.54v6.55h-6.54zM341.26 203.27h6.54v6.55h-6.54zM353.34 203.27h6.54v6.55h-6.54zM359.38 203.27h6.54v6.55h-6.54zM389.59 203.27h6.54v6.55h-6.54zM401.67 203.27h6.54v6.55h-6.54zM2.92 209.32h6.54v6.55h-6.54zM99.59 209.32h6.54v6.55h-6.54zM208.34 209.32h6.54v6.55h-6.54zM395.63 209.32h6.54v6.55h-6.54zM21.05 215.37h6.54v6.55h-6.54zM33.13 215.37h6.54v6.55h-6.54zM57.3 215.37h6.54v6.55h-6.54zM69.38 215.37h6.54v6.55h-6.54zM75.42 215.37h6.54v6.55h-6.54zM105.63 215.37h6.54v6.55h-6.54zM129.8 215.37h6.54v6.55h-6.54zM172.09 215.37h6.54v6.55h-6.54zM190.21 215.37h6.54v6.55h-6.54zM196.25 215.37h6.54v6.55h-6.54zM208.34 215.37h6.54v6.55h-6.54zM8.96 221.42h6.54v6.55h-6.54zM21.05 221.42h6.54v6.55h-6.54zM33.13 221.42h6.54v6.55h-6.54zM51.25 221.42h6.54v6.55h-6.54zM93.55 221.42h6.54v6.55h-6.54zM105.63 221.42h6.54v6.55h-6.54zM123.75 221.42h6.54v6.55h-6.54zM129.8 221.42h6.54v6.55h-6.54zM141.88 221.42h6.54v6.55h-6.54zM172.09 221.42h6.54v6.55h-6.54zM190.21 221.42h6.54v6.55h-6.54zM196.25 221.42h6.54v6.55h-6.54zM208.34 221.42h6.54v6.55h-6.54zM45.21 227.47h6.54v6.55h-6.54zM51.25 227.47h6.54v6.55h-6.54zM69.38 227.47h6.54v6.55h-6.54zM75.42 227.47h6.54v6.55h-6.54zM226.46 227.47h6.54v6.55h-6.54zM262.71 227.47h6.54v6.55h-6.54zM311.05 227.47h6.54v6.55h-6.54zM2.92 233.53h6.54v6.55h-6.54zM15 233.53h6.54v6.55h-6.54zM21.05 233.53h6.54v6.55h-6.54zM69.38 233.53h6.54v6.55h-6.54zM75.42 233.53h6.54v6.55h-6.54zM129.8 233.53h6.54v6.55h-6.54zM135.84 233.53h6.54v6.55h-6.54zM208.34 233.53h6.54v6.55h-6.54zM15 239.58h6.54v6.55h-6.54zM21.05 239.58h6.54v6.55h-6.54zM39.17 239.58h6.54v6.55h-6.54zM45.21 239.58h6.54v6.55h-6.54zM57.3 239.58h6.54v6.55h-6.54zM69.38 239.58h6.54v6.55h-6.54zM75.42 239.58h6.54v6.55h-6.54zM93.55 239.58h6.54v6.55h-6.54zM99.59 239.58h6.54v6.55h-6.54zM105.63 239.58h6.54v6.55h-6.54zM123.75 239.58h6.54v6.55h-6.54zM129.8 239.58h6.54v6.55h-6.54zM141.88 239.58h6.54v6.55h-6.54zM147.92 239.58h6.54v6.55h-6.54zM160 239.58h6.54v6.55h-6.54zM166.05 239.58h6.54v6.55h-6.54zM178.13 239.58h6.54v6.55h-6.54zM184.17 239.58h6.54v6.55h-6.54zM190.21 239.58h6.54v6.55h-6.54zM196.25 239.58h6.54v6.55h-6.54zM208.34 239.58h6.54v6.55h-6.54zM232.5 239.58h6.54v6.55h-6.54zM256.67 239.58h6.54v6.55h-6.54zM280.84 239.58h6.54v6.55h-6.54zM21.05 245.63h6.54v6.55h-6.54zM33.13 245.63h6.54v6.55h-6.54zM39.17 245.63h6.54v6.55h-6.54zM45.21 245.63h6.54v6.55h-6.54zM166.05 245.63h6.54v6.55h-6.54zM172.09 245.63h6.54v6.55h-6.54zM196.25 245.63h6.54v6.55h-6.54zM262.71 245.63h6.54v6.55h-6.54zM2.92 251.68h6.54v6.55h-6.54zM15 251.68h6.54v6.55h-6.54zM39.17 251.68h6.54v6.55h-6.54zM45.21 251.68h6.54v6.55h-6.54zM57.3 251.68h6.54v6.55h-6.54zM63.34 251.68h6.54v6.55h-6.54zM69.38 251.68h6.54v6.55h-6.54zM87.5 251.68h6.54v6.55h-6.54zM93.55 251.68h6.54v6.55h-6.54zM105.63 251.68h6.54v6.55h-6.54zM129.8 251.68h6.54v6.55h-6.54zM135.84 251.68h6.54v6.55h-6.54zM141.88 251.68h6.54v6.55h-6.54zM172.09 251.68h6.54v6.55h-6.54zM184.17 251.68h6.54v6.55h-6.54zM196.25 251.68h6.54v6.55h-6.54zM208.34 251.68h6.54v6.55h-6.54zM214.38 251.68h6.54v6.55h-6.54zM226.46 251.68h6.54v6.55h-6.54zM262.71 251.68h6.54v6.55h-6.54zM311.05 251.68h6.54v6.55h-6.54zM15 257.73h6.54v6.55h-6.54zM147.92 257.73h6.54v6.55h-6.54zM153.96 257.73h6.54v6.55h-6.54zM178.13 257.73h6.54v6.55h-6.54zM184.17 257.73h6.54v6.55h-6.54zM33.13 263.79h6.54v6.55h-6.54zM51.25 263.79h6.54v6.55h-6.54zM123.75 263.79h6.54v6.55h-6.54zM141.88 263.79h6.54v6.55h-6.54zM147.92 263.79h6.54v6.55h-6.54zM190.21 263.79h6.54v6.55h-6.54zM2.92 269.84h6.54v6.55h-6.54zM15 269.84h6.54v6.55h-6.54zM21.05 269.84h6.54v6.55h-6.54zM111.67 269.84h6.54v6.55h-6.54zM141.88 269.84h6.54v6.55h-6.54zM153.96 269.84h6.54v6.55h-6.54zM178.13 269.84h6.54v6.55h-6.54zM208.34 269.84h6.54v6.55h-6.54zM2.92 275.89h6.54v6.55h-6.54zM8.96 275.89h6.54v6.55h-6.54zM21.05 275.89h6.54v6.55h-6.54zM51.25 275.89h6.54v6.55h-6.54zM81.46 275.89h6.54v6.55h-6.54zM87.5 275.89h6.54v6.55h-6.54zM99.59 275.89h6.54v6.55h-6.54zM111.67 275.89h6.54v6.55h-6.54zM129.8 275.89h6.54v6.55h-6.54zM135.84 275.89h6.54v6.55h-6.54zM147.92 275.89h6.54v6.55h-6.54zM153.96 275.89h6.54v6.55h-6.54zM160 275.89h6.54v6.55h-6.54zM172.09 275.89h6.54v6.55h-6.54zM178.13 275.89h6.54v6.55h-6.54zM190.21 275.89h6.54v6.55h-6.54zM196.25 275.89h6.54v6.55h-6.54zM214.38 275.89h6.54v6.55h-6.54zM220.42 275.89h6.54v6.55h-6.54zM226.46 275.89h6.54v6.55h-6.54zM232.5 275.89h6.54v6.55h-6.54zM244.59 275.89h6.54v6.55h-6.54zM250.63 275.89h6.54v6.55h-6.54zM329.17 275.89h6.54v6.55h-6.54zM15 281.94h6.54v6.55h-6.54zM51.25 281.94h6.54v6.55h-6.54zM93.55 281.94h6.54v6.55h-6.54zM141.88 281.94h6.54v6.55h-6.54zM147.92 281.94h6.54v6.55h-6.54zM15 287.99h6.54v6.55h-6.54zM21.05 287.99h6.54v6.55h-6.54zM69.38 287.99h6.54v6.55h-6.54zM87.5 287.99h6.54v6.55h-6.54zM93.55 287.99h6.54v6.55h-6.54zM105.63 287.99h6.54v6.55h-6.54zM123.75 287.99h6.54v6.55h-6.54zM129.8 287.99h6.54v6.55h-6.54zM147.92 287.99h6.54v6.55h-6.54zM153.96 287.99h6.54v6.55h-6.54zM160 287.99h6.54v6.55h-6.54zM166.05 287.99h6.54v6.55h-6.54zM172.09 287.99h6.54v6.55h-6.54zM190.21 287.99h6.54v6.55h-6.54zM196.25 287.99h6.54v6.55h-6.54zM208.34 287.99h6.54v6.55h-6.54zM214.38 287.99h6.54v6.55h-6.54zM250.63 287.99h6.54v6.55h-6.54zM15 294.05h6.54v6.55h-6.54zM63.34 294.05h6.54v6.55h-6.54zM105.63 294.05h6.54v6.55h-6.54zM141.88 294.05h6.54v6.55h-6.54zM178.13 294.05h6.54v6.55h-6.54zM8.96 300.1h6.54v6.55h-6.54zM27.09 300.1h6.54v6.55h-6.54zM39.17 300.1h6.54v6.55h-6.54zM45.21 300.1h6.54v6.55h-6.54zM57.3 300.1h6.54v6.55h-6.54zM63.34 300.1h6.54v6.55h-6.54zM111.67 300.1h6.54v6.55h-6.54zM129.8 300.1h6.54v6.55h-6.54zM135.84 300.1h6.54v6.55h-6.54zM141.88 300.1h6.54v6.55h-6.54zM172.09 300.1h6.54v6.55h-6.54zM202.3 300.1h6.54v6.55h-6.54zM250.63 300.1h6.54v6.55h-6.54z"/><path fill="#c8c4e4" d="M268.75 33.81h6.54v6.55h-6.54zM280.84 39.86h6.54v6.55h-6.54zM117.71 45.91h6.54v6.55h-6.54zM262.71 45.91h6.54v6.55h-6.54zM105.63 58.02h6.54v6.55h-6.54zM141.88 76.17h6.54v6.55h-6.54zM15 82.23h6.54v6.55h-6.54zM226.46 82.23h6.54v6.55h-6.54zM117.71 94.33h6.54v6.55h-6.54zM75.42 100.38h6.54v6.55h-6.54zM123.75 106.43h6.54v6.55h-6.54zM141.88 106.43h6.54v6.55h-6.54zM172.09 106.43h6.54v6.55h-6.54zM178.13 106.43h6.54v6.55h-6.54zM190.21 106.43h6.54v6.55h-6.54zM196.25 106.43h6.54v6.55h-6.54zM202.3 106.43h6.54v6.55h-6.54zM81.46 112.49h6.54v6.55h-6.54zM39.17 124.59h6.54v6.55h-6.54zM117.71 130.64h6.54v6.55h-6.54zM123.75 130.64h6.54v6.55h-6.54zM117.71 142.75h6.54v6.55h-6.54zM153.96 142.75h6.54v6.55h-6.54zM111.67 148.8h6.54v6.55h-6.54zM153.96 148.8h6.54v6.55h-6.54zM208.34 148.8h6.54v6.55h-6.54zM196.25 154.85h6.54v6.55h-6.54zM8.96 160.9h6.54v6.55h-6.54zM208.34 160.9h6.54v6.55h-6.54zM39.17 185.11h6.54v6.55h-6.54zM57.3 185.11h6.54v6.55h-6.54zM27.09 191.16h6.54v6.55h-6.54zM51.25 191.16h6.54v6.55h-6.54zM75.42 191.16h6.54v6.55h-6.54zM208.34 191.16h6.54v6.55h-6.54zM226.46 191.16h6.54v6.55h-6.54zM335.21 191.16h6.54v6.55h-6.54zM39.17 197.21h6.54v6.55h-6.54zM51.25 197.21h6.54v6.55h-6.54zM2.92 203.27h6.54v6.55h-6.54zM45.21 209.32h6.54v6.55h-6.54zM81.46 209.32h6.54v6.55h-6.54zM178.13 209.32h6.54v6.55h-6.54zM365.42 209.32h6.54v6.55h-6.54zM371.46 209.32h6.54v6.55h-6.54zM214.38 215.37h6.54v6.55h-6.54zM323.13 221.42h6.54v6.55h-6.54z"/><path fill="#9290c2" d="M335.21 33.81h6.54v6.55h-6.54zM419.8 33.81h6.54v6.55h-6.54zM172.09 39.86h6.54v6.55h-6.54zM178.13 39.86h6.54v6.55h-6.54zM190.21 39.86h6.54v6.55h-6.54zM202.3 39.86h6.54v6.55h-6.54zM220.42 39.86h6.54v6.55h-6.54zM262.71 39.86h6.54v6.55h-6.54zM329.17 39.86h6.54v6.55h-6.54zM220.42 45.91h6.54v6.55h-6.54zM329.17 45.91h6.54v6.55h-6.54zM184.17 51.97h6.54v6.55h-6.54zM238.55 51.97h6.54v6.55h-6.54zM256.67 51.97h6.54v6.55h-6.54zM160 58.02h6.54v6.55h-6.54zM166.05 58.02h6.54v6.55h-6.54zM184.17 58.02h6.54v6.55h-6.54zM226.46 58.02h6.54v6.55h-6.54zM256.67 58.02h6.54v6.55h-6.54zM347.3 58.02h6.54v6.55h-6.54zM401.67 58.02h6.54v6.55h-6.54zM178.13 64.07h6.54v6.55h-6.54zM220.42 64.07h6.54v6.55h-6.54zM232.5 64.07h6.54v6.55h-6.54zM238.55 64.07h6.54v6.55h-6.54zM244.59 64.07h6.54v6.55h-6.54zM256.67 64.07h6.54v6.55h-6.54zM298.96 64.07h6.54v6.55h-6.54zM323.13 64.07h6.54v6.55h-6.54zM329.17 64.07h6.54v6.55h-6.54zM341.26 64.07h6.54v6.55h-6.54zM365.42 64.07h6.54v6.55h-6.54zM401.67 64.07h6.54v6.55h-6.54zM147.92 70.12h6.54v6.55h-6.54zM160 70.12h6.54v6.55h-6.54zM166.05 70.12h6.54v6.55h-6.54zM178.13 70.12h6.54v6.55h-6.54zM190.21 70.12h6.54v6.55h-6.54zM238.55 70.12h6.54v6.55h-6.54zM244.59 70.12h6.54v6.55h-6.54zM256.67 70.12h6.54v6.55h-6.54zM268.75 70.12h6.54v6.55h-6.54zM280.84 70.12h6.54v6.55h-6.54zM323.13 70.12h6.54v6.55h-6.54zM341.26 70.12h6.54v6.55h-6.54zM353.34 70.12h6.54v6.55h-6.54zM407.71 70.12h6.54v6.55h-6.54zM147.92 76.17h6.54v6.55h-6.54zM166.05 76.17h6.54v6.55h-6.54zM172.09 76.17h6.54v6.55h-6.54zM178.13 76.17h6.54v6.55h-6.54zM190.21 76.17h6.54v6.55h-6.54zM238.55 76.17h6.54v6.55h-6.54zM256.67 76.17h6.54v6.55h-6.54zM280.84 76.17h6.54v6.55h-6.54zM317.09 76.17h6.54v6.55h-6.54zM353.34 76.17h6.54v6.55h-6.54zM371.46 76.17h6.54v6.55h-6.54zM401.67 76.17h6.54v6.55h-6.54zM190.21 82.23h6.54v6.55h-6.54zM244.59 82.23h6.54v6.55h-6.54zM250.63 82.23h6.54v6.55h-6.54zM280.84 82.23h6.54v6.55h-6.54zM341.26 82.23h6.54v6.55h-6.54zM359.38 82.23h6.54v6.55h-6.54zM365.42 82.23h6.54v6.55h-6.54zM401.67 82.23h6.54v6.55h-6.54zM147.92 88.28h6.54v6.55h-6.54zM160 88.28h6.54v6.55h-6.54zM178.13 88.28h6.54v6.55h-6.54zM214.38 88.28h6.54v6.55h-6.54zM256.67 88.28h6.54v6.55h-6.54zM329.17 88.28h6.54v6.55h-6.54zM153.96 94.33h6.54v6.55h-6.54zM178.13 94.33h6.54v6.55h-6.54zM202.3 94.33h6.54v6.55h-6.54zM214.38 94.33h6.54v6.55h-6.54zM153.96 106.43h6.54v6.55h-6.54zM184.17 106.43h6.54v6.55h-6.54zM232.5 106.43h6.54v6.55h-6.54zM256.67 106.43h6.54v6.55h-6.54zM280.84 106.43h6.54v6.55h-6.54zM298.96 106.43h6.54v6.55h-6.54zM305 106.43h6.54v6.55h-6.54zM311.05 106.43h6.54v6.55h-6.54zM323.13 106.43h6.54v6.55h-6.54zM329.17 106.43h6.54v6.55h-6.54zM335.21 106.43h6.54v6.55h-6.54zM341.26 106.43h6.54v6.55h-6.54zM359.38 106.43h6.54v6.55h-6.54zM413.76 106.43h6.54v6.55h-6.54zM425.84 106.43h6.54v6.55h-6.54zM431.88 106.43h6.54v6.55h-6.54zM147.92 112.49h6.54v6.55h-6.54zM178.13 112.49h6.54v6.55h-6.54zM280.84 112.49h6.54v6.55h-6.54zM419.8 112.49h6.54v6.55h-6.54zM153.96 118.54h6.54v6.55h-6.54zM178.13 118.54h6.54v6.55h-6.54zM196.25 118.54h6.54v6.55h-6.54zM202.3 118.54h6.54v6.55h-6.54zM63.34 124.59h6.54v6.55h-6.54zM268.75 124.59h6.54v6.55h-6.54zM286.88 124.59h6.54v6.55h-6.54zM317.09 124.59h6.54v6.55h-6.54zM329.17 124.59h6.54v6.55h-6.54zM341.26 124.59h6.54v6.55h-6.54zM347.3 124.59h6.54v6.55h-6.54zM353.34 124.59h6.54v6.55h-6.54zM389.59 124.59h6.54v6.55h-6.54zM413.76 124.59h6.54v6.55h-6.54zM425.84 124.59h6.54v6.55h-6.54zM2.92 130.64h6.54v6.55h-6.54zM105.63 130.64h6.54v6.55h-6.54zM268.75 130.64h6.54v6.55h-6.54zM274.8 130.64h6.54v6.55h-6.54zM286.88 130.64h6.54v6.55h-6.54zM292.92 130.64h6.54v6.55h-6.54zM317.09 130.64h6.54v6.55h-6.54zM371.46 130.64h6.54v6.55h-6.54zM383.55 130.64h6.54v6.55h-6.54zM389.59 130.64h6.54v6.55h-6.54zM395.63 130.64h6.54v6.55h-6.54zM413.76 130.64h6.54v6.55h-6.54zM27.09 136.69h6.54v6.55h-6.54zM45.21 136.69h6.54v6.55h-6.54zM93.55 136.69h6.54v6.55h-6.54zM117.71 136.69h6.54v6.55h-6.54zM129.8 136.69h6.54v6.55h-6.54zM292.92 136.69h6.54v6.55h-6.54zM347.3 136.69h6.54v6.55h-6.54zM395.63 136.69h6.54v6.55h-6.54zM2.92 142.75h6.54v6.55h-6.54zM105.63 142.75h6.54v6.55h-6.54zM280.84 142.75h6.54v6.55h-6.54zM305 142.75h6.54v6.55h-6.54zM317.09 142.75h6.54v6.55h-6.54zM335.21 142.75h6.54v6.55h-6.54zM413.76 142.75h6.54v6.55h-6.54zM425.84 142.75h6.54v6.55h-6.54zM39.17 148.8h6.54v6.55h-6.54zM274.8 148.8h6.54v6.55h-6.54zM292.92 148.8h6.54v6.55h-6.54zM341.26 148.8h6.54v6.55h-6.54zM359.38 148.8h6.54v6.55h-6.54zM377.51 148.8h6.54v6.55h-6.54zM389.59 148.8h6.54v6.55h-6.54zM431.88 148.8h6.54v6.55h-6.54zM39.17 154.85h6.54v6.55h-6.54zM63.34 154.85h6.54v6.55h-6.54zM268.75 154.85h6.54v6.55h-6.54zM286.88 154.85h6.54v6.55h-6.54zM292.92 154.85h6.54v6.55h-6.54zM298.96 154.85h6.54v6.55h-6.54zM317.09 154.85h6.54v6.55h-6.54zM323.13 154.85h6.54v6.55h-6.54zM329.17 154.85h6.54v6.55h-6.54zM341.26 154.85h6.54v6.55h-6.54zM347.3 154.85h6.54v6.55h-6.54zM353.34 154.85h6.54v6.55h-6.54zM15 160.9h6.54v6.55h-6.54zM87.5 160.9h6.54v6.55h-6.54zM99.59 160.9h6.54v6.55h-6.54zM135.84 160.9h6.54v6.55h-6.54zM335.21 160.9h6.54v6.55h-6.54zM341.26 160.9h6.54v6.55h-6.54zM353.34 160.9h6.54v6.55h-6.54zM359.38 160.9h6.54v6.55h-6.54zM105.63 166.95h6.54v6.55h-6.54zM353.34 166.95h6.54v6.55h-6.54zM431.88 166.95h6.54v6.55h-6.54zM347.3 173.01h6.54v6.55h-6.54zM359.38 173.01h6.54v6.55h-6.54zM371.46 173.01h6.54v6.55h-6.54zM401.67 173.01h6.54v6.55h-6.54zM27.09 179.06h6.54v6.55h-6.54zM75.42 179.06h6.54v6.55h-6.54zM292.92 179.06h6.54v6.55h-6.54zM317.09 179.06h6.54v6.55h-6.54zM335.21 179.06h6.54v6.55h-6.54zM365.42 179.06h6.54v6.55h-6.54zM371.46 179.06h6.54v6.55h-6.54zM377.51 179.06h6.54v6.55h-6.54zM419.8 179.06h6.54v6.55h-6.54zM425.84 179.06h6.54v6.55h-6.54zM21.05 185.11h6.54v6.55h-6.54zM45.21 185.11h6.54v6.55h-6.54zM81.46 185.11h6.54v6.55h-6.54zM93.55 185.11h6.54v6.55h-6.54zM268.75 185.11h6.54v6.55h-6.54zM286.88 185.11h6.54v6.55h-6.54zM323.13 185.11h6.54v6.55h-6.54zM395.63 185.11h6.54v6.55h-6.54zM2.92 191.16h6.54v6.55h-6.54zM33.13 191.16h6.54v6.55h-6.54zM45.21 191.16h6.54v6.55h-6.54zM274.8 191.16h6.54v6.55h-6.54zM298.96 191.16h6.54v6.55h-6.54zM329.17 191.16h6.54v6.55h-6.54zM377.51 191.16h6.54v6.55h-6.54zM407.71 191.16h6.54v6.55h-6.54zM15 197.21h6.54v6.55h-6.54zM45.21 197.21h6.54v6.55h-6.54zM280.84 197.21h6.54v6.55h-6.54zM298.96 197.21h6.54v6.55h-6.54zM311.05 197.21h6.54v6.55h-6.54zM317.09 197.21h6.54v6.55h-6.54zM341.26 197.21h6.54v6.55h-6.54zM359.38 197.21h6.54v6.55h-6.54zM377.51 197.21h6.54v6.55h-6.54zM401.67 197.21h6.54v6.55h-6.54zM8.96 203.27h6.54v6.55h-6.54zM51.25 203.27h6.54v6.55h-6.54zM63.34 203.27h6.54v6.55h-6.54zM69.38 203.27h6.54v6.55h-6.54zM75.42 203.27h6.54v6.55h-6.54zM111.67 203.27h6.54v6.55h-6.54zM129.8 203.27h6.54v6.55h-6.54zM274.8 203.27h6.54v6.55h-6.54zM292.92 203.27h6.54v6.55h-6.54zM305 203.27h6.54v6.55h-6.54zM347.3 203.27h6.54v6.55h-6.54zM377.51 203.27h6.54v6.55h-6.54zM383.55 203.27h6.54v6.55h-6.54zM395.63 203.27h6.54v6.55h-6.54zM413.76 203.27h6.54v6.55h-6.54zM39.17 209.32h6.54v6.55h-6.54zM51.25 209.32h6.54v6.55h-6.54zM87.5 209.32h6.54v6.55h-6.54zM105.63 209.32h6.54v6.55h-6.54zM123.75 209.32h6.54v6.55h-6.54zM129.8 209.32h6.54v6.55h-6.54zM268.75 209.32h6.54v6.55h-6.54zM280.84 209.32h6.54v6.55h-6.54zM305 209.32h6.54v6.55h-6.54zM329.17 209.32h6.54v6.55h-6.54zM347.3 209.32h6.54v6.55h-6.54zM383.55 209.32h6.54v6.55h-6.54zM407.71 209.32h6.54v6.55h-6.54zM419.8 209.32h6.54v6.55h-6.54zM431.88 209.32h6.54v6.55h-6.54zM2.92 215.37h6.54v6.55h-6.54zM8.96 215.37h6.54v6.55h-6.54zM15 215.37h6.54v6.55h-6.54zM63.34 215.37h6.54v6.55h-6.54zM81.46 215.37h6.54v6.55h-6.54zM93.55 215.37h6.54v6.55h-6.54zM99.59 215.37h6.54v6.55h-6.54zM111.67 215.37h6.54v6.55h-6.54zM135.84 215.37h6.54v6.55h-6.54zM141.88 215.37h6.54v6.55h-6.54zM153.96 215.37h6.54v6.55h-6.54zM166.05 215.37h6.54v6.55h-6.54zM178.13 215.37h6.54v6.55h-6.54zM202.3 215.37h6.54v6.55h-6.54zM256.67 215.37h6.54v6.55h-6.54zM262.71 215.37h6.54v6.55h-6.54zM39.17 221.42h6.54v6.55h-6.54zM57.3 221.42h6.54v6.55h-6.54zM99.59 221.42h6.54v6.55h-6.54zM111.67 221.42h6.54v6.55h-6.54zM117.71 221.42h6.54v6.55h-6.54zM135.84 221.42h6.54v6.55h-6.54zM147.92 221.42h6.54v6.55h-6.54zM153.96 221.42h6.54v6.55h-6.54zM166.05 221.42h6.54v6.55h-6.54zM184.17 221.42h6.54v6.55h-6.54zM202.3 221.42h6.54v6.55h-6.54zM220.42 221.42h6.54v6.55h-6.54zM238.55 221.42h6.54v6.55h-6.54zM250.63 221.42h6.54v6.55h-6.54zM256.67 221.42h6.54v6.55h-6.54zM262.71 221.42h6.54v6.55h-6.54zM2.92 227.47h6.54v6.55h-6.54zM15 227.47h6.54v6.55h-6.54zM21.05 227.47h6.54v6.55h-6.54zM33.13 227.47h6.54v6.55h-6.54zM39.17 227.47h6.54v6.55h-6.54zM57.3 227.47h6.54v6.55h-6.54zM63.34 227.47h6.54v6.55h-6.54zM81.46 227.47h6.54v6.55h-6.54zM93.55 227.47h6.54v6.55h-6.54zM111.67 227.47h6.54v6.55h-6.54zM123.75 227.47h6.54v6.55h-6.54zM135.84 227.47h6.54v6.55h-6.54zM141.88 227.47h6.54v6.55h-6.54zM147.92 227.47h6.54v6.55h-6.54zM166.05 227.47h6.54v6.55h-6.54zM172.09 227.47h6.54v6.55h-6.54zM178.13 227.47h6.54v6.55h-6.54zM184.17 227.47h6.54v6.55h-6.54zM190.21 227.47h6.54v6.55h-6.54zM202.3 227.47h6.54v6.55h-6.54zM238.55 227.47h6.54v6.55h-6.54zM244.59 227.47h6.54v6.55h-6.54zM250.63 227.47h6.54v6.55h-6.54zM256.67 227.47h6.54v6.55h-6.54zM8.96 233.53h6.54v6.55h-6.54zM33.13 233.53h6.54v6.55h-6.54zM39.17 233.53h6.54v6.55h-6.54zM51.25 233.53h6.54v6.55h-6.54zM81.46 233.53h6.54v6.55h-6.54zM87.5 233.53h6.54v6.55h-6.54zM93.55 233.53h6.54v6.55h-6.54zM99.59 233.53h6.54v6.55h-6.54zM111.67 233.53h6.54v6.55h-6.54zM123.75 233.53h6.54v6.55h-6.54zM147.92 233.53h6.54v6.55h-6.54zM153.96 233.53h6.54v6.55h-6.54zM166.05 233.53h6.54v6.55h-6.54zM172.09 233.53h6.54v6.55h-6.54zM178.13 233.53h6.54v6.55h-6.54zM190.21 233.53h6.54v6.55h-6.54zM196.25 233.53h6.54v6.55h-6.54zM214.38 233.53h6.54v6.55h-6.54zM226.46 233.53h6.54v6.55h-6.54zM256.67 233.53h6.54v6.55h-6.54zM262.71 233.53h6.54v6.55h-6.54zM153.96 239.58h6.54v6.55h-6.54zM172.09 239.58h6.54v6.55h-6.54zM214.38 239.58h6.54v6.55h-6.54zM220.42 239.58h6.54v6.55h-6.54zM262.71 239.58h6.54v6.55h-6.54zM2.92 245.63h6.54v6.55h-6.54zM8.96 245.63h6.54v6.55h-6.54zM15 245.63h6.54v6.55h-6.54zM27.09 245.63h6.54v6.55h-6.54zM51.25 245.63h6.54v6.55h-6.54zM57.3 245.63h6.54v6.55h-6.54zM63.34 245.63h6.54v6.55h-6.54zM69.38 245.63h6.54v6.55h-6.54zM75.42 245.63h6.54v6.55h-6.54zM87.5 245.63h6.54v6.55h-6.54zM111.67 245.63h6.54v6.55h-6.54zM129.8 245.63h6.54v6.55h-6.54zM141.88 245.63h6.54v6.55h-6.54zM147.92 245.63h6.54v6.55h-6.54zM153.96 245.63h6.54v6.55h-6.54zM160 245.63h6.54v6.55h-6.54zM178.13 245.63h6.54v6.55h-6.54zM190.21 245.63h6.54v6.55h-6.54zM202.3 245.63h6.54v6.55h-6.54zM208.34 245.63h6.54v6.55h-6.54zM226.46 245.63h6.54v6.55h-6.54zM256.67 245.63h6.54v6.55h-6.54zM8.96 251.68h6.54v6.55h-6.54zM27.09 251.68h6.54v6.55h-6.54zM117.71 251.68h6.54v6.55h-6.54zM153.96 251.68h6.54v6.55h-6.54zM166.05 251.68h6.54v6.55h-6.54zM220.42 251.68h6.54v6.55h-6.54zM232.5 251.68h6.54v6.55h-6.54zM238.55 251.68h6.54v6.55h-6.54zM2.92 257.73h6.54v6.55h-6.54zM21.05 257.73h6.54v6.55h-6.54zM39.17 257.73h6.54v6.55h-6.54zM63.34 257.73h6.54v6.55h-6.54zM69.38 257.73h6.54v6.55h-6.54zM93.55 257.73h6.54v6.55h-6.54zM99.59 257.73h6.54v6.55h-6.54zM105.63 257.73h6.54v6.55h-6.54zM111.67 257.73h6.54v6.55h-6.54zM123.75 257.73h6.54v6.55h-6.54zM141.88 257.73h6.54v6.55h-6.54zM160 257.73h6.54v6.55h-6.54zM166.05 257.73h6.54v6.55h-6.54zM190.21 257.73h6.54v6.55h-6.54zM196.25 257.73h6.54v6.55h-6.54zM202.3 257.73h6.54v6.55h-6.54zM232.5 257.73h6.54v6.55h-6.54zM250.63 257.73h6.54v6.55h-6.54zM256.67 257.73h6.54v6.55h-6.54zM262.71 257.73h6.54v6.55h-6.54zM8.96 263.79h6.54v6.55h-6.54zM39.17 263.79h6.54v6.55h-6.54zM57.3 263.79h6.54v6.55h-6.54zM69.38 263.79h6.54v6.55h-6.54zM93.55 263.79h6.54v6.55h-6.54zM105.63 263.79h6.54v6.55h-6.54zM111.67 263.79h6.54v6.55h-6.54zM135.84 263.79h6.54v6.55h-6.54zM153.96 263.79h6.54v6.55h-6.54zM160 263.79h6.54v6.55h-6.54zM166.05 263.79h6.54v6.55h-6.54zM172.09 263.79h6.54v6.55h-6.54zM178.13 263.79h6.54v6.55h-6.54zM196.25 263.79h6.54v6.55h-6.54zM208.34 263.79h6.54v6.55h-6.54zM226.46 263.79h6.54v6.55h-6.54zM27.09 269.84h6.54v6.55h-6.54zM39.17 269.84h6.54v6.55h-6.54zM45.21 269.84h6.54v6.55h-6.54zM63.34 269.84h6.54v6.55h-6.54zM69.38 269.84h6.54v6.55h-6.54zM87.5 269.84h6.54v6.55h-6.54zM93.55 269.84h6.54v6.55h-6.54zM123.75 269.84h6.54v6.55h-6.54zM160 269.84h6.54v6.55h-6.54zM166.05 269.84h6.54v6.55h-6.54zM172.09 269.84h6.54v6.55h-6.54zM190.21 269.84h6.54v6.55h-6.54zM196.25 269.84h6.54v6.55h-6.54zM220.42 269.84h6.54v6.55h-6.54zM226.46 269.84h6.54v6.55h-6.54zM250.63 269.84h6.54v6.55h-6.54zM27.09 275.89h6.54v6.55h-6.54zM75.42 275.89h6.54v6.55h-6.54zM117.71 275.89h6.54v6.55h-6.54zM123.75 275.89h6.54v6.55h-6.54zM184.17 275.89h6.54v6.55h-6.54zM256.67 275.89h6.54v6.55h-6.54zM2.92 281.94h6.54v6.55h-6.54zM33.13 281.94h6.54v6.55h-6.54zM39.17 281.94h6.54v6.55h-6.54zM45.21 281.94h6.54v6.55h-6.54zM57.3 281.94h6.54v6.55h-6.54zM63.34 281.94h6.54v6.55h-6.54zM111.67 281.94h6.54v6.55h-6.54zM123.75 281.94h6.54v6.55h-6.54zM129.8 281.94h6.54v6.55h-6.54zM153.96 281.94h6.54v6.55h-6.54zM160 281.94h6.54v6.55h-6.54zM166.05 281.94h6.54v6.55h-6.54zM178.13 281.94h6.54v6.55h-6.54zM190.21 281.94h6.54v6.55h-6.54zM202.3 281.94h6.54v6.55h-6.54zM208.34 281.94h6.54v6.55h-6.54zM226.46 281.94h6.54v6.55h-6.54zM250.63 281.94h6.54v6.55h-6.54zM262.71 281.94h6.54v6.55h-6.54zM2.92 287.99h6.54v6.55h-6.54zM8.96 287.99h6.54v6.55h-6.54zM27.09 287.99h6.54v6.55h-6.54zM33.13 287.99h6.54v6.55h-6.54zM141.88 287.99h6.54v6.55h-6.54zM178.13 287.99h6.54v6.55h-6.54zM220.42 287.99h6.54v6.55h-6.54zM256.67 287.99h6.54v6.55h-6.54zM2.92 294.05h6.54v6.55h-6.54zM8.96 294.05h6.54v6.55h-6.54zM33.13 294.05h6.54v6.55h-6.54zM39.17 294.05h6.54v6.55h-6.54zM51.25 294.05h6.54v6.55h-6.54zM57.3 294.05h6.54v6.55h-6.54zM87.5 294.05h6.54v6.55h-6.54zM93.55 294.05h6.54v6.55h-6.54zM99.59 294.05h6.54v6.55h-6.54zM111.67 294.05h6.54v6.55h-6.54zM123.75 294.05h6.54v6.55h-6.54zM129.8 294.05h6.54v6.55h-6.54zM147.92 294.05h6.54v6.55h-6.54zM160 294.05h6.54v6.55h-6.54zM166.05 294.05h6.54v6.55h-6.54zM184.17 294.05h6.54v6.55h-6.54zM190.21 294.05h6.54v6.55h-6.54zM196.25 294.05h6.54v6.55h-6.54zM208.34 294.05h6.54v6.55h-6.54zM226.46 294.05h6.54v6.55h-6.54zM232.5 294.05h6.54v6.55h-6.54zM262.71 294.05h6.54v6.55h-6.54zM15 300.1h6.54v6.55h-6.54zM51.25 300.1h6.54v6.55h-6.54zM75.42 300.1h6.54v6.55h-6.54zM123.75 300.1h6.54v6.55h-6.54zM190.21 300.1h6.54v6.55h-6.54zM226.46 300.1h6.54v6.55h-6.54zM238.55 300.1h6.54v6.55h-6.54z"/><path fill="#e04050" d="M2.92 39.86h6.54v6.55h-6.54zM39.17 45.91h6.54v6.55h-6.54zM51.25 45.91h6.54v6.55h-6.54zM123.75 45.91h6.54v6.55h-6.54zM39.17 51.97h6.54v6.55h-6.54zM39.17 70.12h6.54v6.55h-6.54zM99.59 76.17h6.54v6.55h-6.54zM135.84 76.17h6.54v6.55h-6.54zM87.5 82.23h6.54v6.55h-6.54zM99.59 82.23h6.54v6.55h-6.54zM21.05 124.59h6.54v6.55h-6.54zM93.55 124.59h6.54v6.55h-6.54zM298.96 166.95h6.54v6.55h-6.54zM250.63 185.11h6.54v6.55h-6.54zM244.59 191.16h6.54v6.55h-6.54zM123.75 197.21h6.54v6.55h-6.54zM202.3 197.21h6.54v6.55h-6.54zM244.59 209.32h6.54v6.55h-6.54zM250.63 209.32h6.54v6.55h-6.54z"/><path fill="#dedaee" d="M160 39.86h6.54v6.55h-6.54zM166.05 39.86h6.54v6.55h-6.54zM184.17 39.86h6.54v6.55h-6.54zM232.5 39.86h6.54v6.55h-6.54zM256.67 39.86h6.54v6.55h-6.54zM335.21 39.86h6.54v6.55h-6.54zM172.09 45.91h6.54v6.55h-6.54zM214.38 45.91h6.54v6.55h-6.54zM226.46 45.91h6.54v6.55h-6.54zM232.5 45.91h6.54v6.55h-6.54zM220.42 51.97h6.54v6.55h-6.54zM220.42 58.02h6.54v6.55h-6.54zM250.63 58.02h6.54v6.55h-6.54zM323.13 58.02h6.54v6.55h-6.54zM172.09 64.07h6.54v6.55h-6.54zM184.17 70.12h6.54v6.55h-6.54zM226.46 70.12h6.54v6.55h-6.54zM232.5 70.12h6.54v6.55h-6.54zM250.63 70.12h6.54v6.55h-6.54zM298.96 70.12h6.54v6.55h-6.54zM329.17 70.12h6.54v6.55h-6.54zM160 76.17h6.54v6.55h-6.54zM184.17 76.17h6.54v6.55h-6.54zM214.38 76.17h6.54v6.55h-6.54zM220.42 76.17h6.54v6.55h-6.54zM226.46 76.17h6.54v6.55h-6.54zM232.5 76.17h6.54v6.55h-6.54zM262.71 76.17h6.54v6.55h-6.54zM407.71 76.17h6.54v6.55h-6.54zM147.92 82.23h6.54v6.55h-6.54zM160 82.23h6.54v6.55h-6.54zM178.13 82.23h6.54v6.55h-6.54zM184.17 82.23h6.54v6.55h-6.54zM202.3 82.23h6.54v6.55h-6.54zM232.5 82.23h6.54v6.55h-6.54zM298.96 82.23h6.54v6.55h-6.54zM323.13 82.23h6.54v6.55h-6.54zM329.17 82.23h6.54v6.55h-6.54zM347.3 82.23h6.54v6.55h-6.54zM377.51 82.23h6.54v6.55h-6.54zM383.55 82.23h6.54v6.55h-6.54zM413.76 82.23h6.54v6.55h-6.54zM419.8 82.23h6.54v6.55h-6.54zM425.84 82.23h6.54v6.55h-6.54zM431.88 82.23h6.54v6.55h-6.54zM220.42 88.28h6.54v6.55h-6.54zM262.71 88.28h6.54v6.55h-6.54zM365.42 94.33h6.54v6.55h-6.54zM147.92 106.43h6.54v6.55h-6.54zM160 106.43h6.54v6.55h-6.54zM166.05 106.43h6.54v6.55h-6.54zM238.55 106.43h6.54v6.55h-6.54zM244.59 106.43h6.54v6.55h-6.54zM208.34 112.49h6.54v6.55h-6.54zM274.8 112.49h6.54v6.55h-6.54zM147.92 118.54h6.54v6.55h-6.54zM160 118.54h6.54v6.55h-6.54zM166.05 118.54h6.54v6.55h-6.54zM184.17 118.54h6.54v6.55h-6.54zM190.21 118.54h6.54v6.55h-6.54zM214.38 118.54h6.54v6.55h-6.54zM220.42 118.54h6.54v6.55h-6.54zM238.55 118.54h6.54v6.55h-6.54zM262.71 118.54h6.54v6.55h-6.54zM323.13 118.54h6.54v6.55h-6.54zM123.75 124.59h6.54v6.55h-6.54zM298.96 124.59h6.54v6.55h-6.54zM323.13 124.59h6.54v6.55h-6.54zM359.38 124.59h6.54v6.55h-6.54zM371.46 124.59h6.54v6.55h-6.54zM377.51 124.59h6.54v6.55h-6.54zM383.55 124.59h6.54v6.55h-6.54zM21.05 130.64h6.54v6.55h-6.54zM27.09 130.64h6.54v6.55h-6.54zM33.13 130.64h6.54v6.55h-6.54zM39.17 130.64h6.54v6.55h-6.54zM45.21 130.64h6.54v6.55h-6.54zM51.25 130.64h6.54v6.55h-6.54zM57.3 130.64h6.54v6.55h-6.54zM63.34 130.64h6.54v6.55h-6.54zM69.38 130.64h6.54v6.55h-6.54zM75.42 130.64h6.54v6.55h-6.54zM87.5 130.64h6.54v6.55h-6.54zM111.67 130.64h6.54v6.55h-6.54zM129.8 130.64h6.54v6.55h-6.54zM135.84 130.64h6.54v6.55h-6.54zM280.84 130.64h6.54v6.55h-6.54zM305 130.64h6.54v6.55h-6.54zM311.05 130.64h6.54v6.55h-6.54zM323.13 130.64h6.54v6.55h-6.54zM329.17 130.64h6.54v6.55h-6.54zM335.21 130.64h6.54v6.55h-6.54zM353.34 130.64h6.54v6.55h-6.54zM377.51 130.64h6.54v6.55h-6.54zM401.67 130.64h6.54v6.55h-6.54zM99.59 136.69h6.54v6.55h-6.54zM329.17 136.69h6.54v6.55h-6.54zM27.09 142.75h6.54v6.55h-6.54zM39.17 142.75h6.54v6.55h-6.54zM45.21 142.75h6.54v6.55h-6.54zM63.34 142.75h6.54v6.55h-6.54zM75.42 142.75h6.54v6.55h-6.54zM87.5 142.75h6.54v6.55h-6.54zM111.67 142.75h6.54v6.55h-6.54zM123.75 142.75h6.54v6.55h-6.54zM129.8 142.75h6.54v6.55h-6.54zM135.84 142.75h6.54v6.55h-6.54zM311.05 142.75h6.54v6.55h-6.54zM323.13 142.75h6.54v6.55h-6.54zM329.17 142.75h6.54v6.55h-6.54zM2.92 148.8h6.54v6.55h-6.54zM21.05 148.8h6.54v6.55h-6.54zM45.21 148.8h6.54v6.55h-6.54zM63.34 148.8h6.54v6.55h-6.54zM280.84 148.8h6.54v6.55h-6.54zM323.13 148.8h6.54v6.55h-6.54zM353.34 148.8h6.54v6.55h-6.54zM425.84 148.8h6.54v6.55h-6.54zM27.09 154.85h6.54v6.55h-6.54zM75.42 154.85h6.54v6.55h-6.54zM123.75 154.85h6.54v6.55h-6.54zM311.05 154.85h6.54v6.55h-6.54zM359.38 154.85h6.54v6.55h-6.54zM371.46 154.85h6.54v6.55h-6.54zM377.51 154.85h6.54v6.55h-6.54zM383.55 154.85h6.54v6.55h-6.54zM413.76 154.85h6.54v6.55h-6.54zM2.92 160.9h6.54v6.55h-6.54zM27.09 160.9h6.54v6.55h-6.54zM33.13 160.9h6.54v6.55h-6.54zM39.17 160.9h6.54v6.55h-6.54zM45.21 160.9h6.54v6.55h-6.54zM57.3 160.9h6.54v6.55h-6.54zM69.38 160.9h6.54v6.55h-6.54zM75.42 160.9h6.54v6.55h-6.54zM81.46 160.9h6.54v6.55h-6.54zM111.67 160.9h6.54v6.55h-6.54zM117.71 160.9h6.54v6.55h-6.54zM123.75 160.9h6.54v6.55h-6.54zM298.96 160.9h6.54v6.55h-6.54zM323.13 160.9h6.54v6.55h-6.54zM371.46 160.9h6.54v6.55h-6.54zM377.51 160.9h6.54v6.55h-6.54zM268.75 166.95h6.54v6.55h-6.54zM286.88 166.95h6.54v6.55h-6.54zM311.05 166.95h6.54v6.55h-6.54zM317.09 166.95h6.54v6.55h-6.54zM365.42 166.95h6.54v6.55h-6.54zM268.75 173.01h6.54v6.55h-6.54zM305 173.01h6.54v6.55h-6.54zM311.05 173.01h6.54v6.55h-6.54zM365.42 173.01h6.54v6.55h-6.54zM395.63 173.01h6.54v6.55h-6.54zM425.84 173.01h6.54v6.55h-6.54zM15 179.06h6.54v6.55h-6.54zM21.05 179.06h6.54v6.55h-6.54zM39.17 179.06h6.54v6.55h-6.54zM69.38 179.06h6.54v6.55h-6.54zM87.5 179.06h6.54v6.55h-6.54zM105.63 179.06h6.54v6.55h-6.54zM135.84 179.06h6.54v6.55h-6.54zM141.88 179.06h6.54v6.55h-6.54zM280.84 179.06h6.54v6.55h-6.54zM286.88 179.06h6.54v6.55h-6.54zM323.13 179.06h6.54v6.55h-6.54zM329.17 179.06h6.54v6.55h-6.54zM359.38 179.06h6.54v6.55h-6.54zM383.55 179.06h6.54v6.55h-6.54zM389.59 179.06h6.54v6.55h-6.54zM401.67 179.06h6.54v6.55h-6.54zM2.92 185.11h6.54v6.55h-6.54zM27.09 185.11h6.54v6.55h-6.54zM33.13 185.11h6.54v6.55h-6.54zM63.34 185.11h6.54v6.55h-6.54zM69.38 185.11h6.54v6.55h-6.54zM75.42 185.11h6.54v6.55h-6.54zM87.5 185.11h6.54v6.55h-6.54zM111.67 185.11h6.54v6.55h-6.54zM123.75 185.11h6.54v6.55h-6.54zM129.8 185.11h6.54v6.55h-6.54zM135.84 185.11h6.54v6.55h-6.54zM280.84 185.11h6.54v6.55h-6.54zM292.92 185.11h6.54v6.55h-6.54zM305 185.11h6.54v6.55h-6.54zM317.09 185.11h6.54v6.55h-6.54zM335.21 185.11h6.54v6.55h-6.54zM353.34 185.11h6.54v6.55h-6.54zM359.38 185.11h6.54v6.55h-6.54zM383.55 185.11h6.54v6.55h-6.54zM21.05 191.16h6.54v6.55h-6.54zM39.17 191.16h6.54v6.55h-6.54zM57.3 191.16h6.54v6.55h-6.54zM63.34 191.16h6.54v6.55h-6.54zM81.46 191.16h6.54v6.55h-6.54zM93.55 191.16h6.54v6.55h-6.54zM105.63 191.16h6.54v6.55h-6.54zM117.71 191.16h6.54v6.55h-6.54zM123.75 191.16h6.54v6.55h-6.54zM135.84 191.16h6.54v6.55h-6.54zM280.84 191.16h6.54v6.55h-6.54zM317.09 191.16h6.54v6.55h-6.54zM341.26 191.16h6.54v6.55h-6.54zM359.38 191.16h6.54v6.55h-6.54zM371.46 191.16h6.54v6.55h-6.54zM425.84 191.16h6.54v6.55h-6.54zM63.34 197.21h6.54v6.55h-6.54zM69.38 197.21h6.54v6.55h-6.54zM75.42 197.21h6.54v6.55h-6.54zM87.5 197.21h6.54v6.55h-6.54zM99.59 197.21h6.54v6.55h-6.54zM111.67 197.21h6.54v6.55h-6.54zM117.71 197.21h6.54v6.55h-6.54zM129.8 197.21h6.54v6.55h-6.54zM135.84 197.21h6.54v6.55h-6.54zM141.88 197.21h6.54v6.55h-6.54zM323.13 197.21h6.54v6.55h-6.54zM329.17 197.21h6.54v6.55h-6.54zM389.59 197.21h6.54v6.55h-6.54zM33.13 203.27h6.54v6.55h-6.54zM45.21 203.27h6.54v6.55h-6.54zM93.55 203.27h6.54v6.55h-6.54zM99.59 203.27h6.54v6.55h-6.54zM135.84 203.27h6.54v6.55h-6.54zM280.84 203.27h6.54v6.55h-6.54zM365.42 203.27h6.54v6.55h-6.54zM431.88 203.27h6.54v6.55h-6.54zM8.96 209.32h6.54v6.55h-6.54zM33.13 209.32h6.54v6.55h-6.54zM63.34 209.32h6.54v6.55h-6.54zM69.38 209.32h6.54v6.55h-6.54zM75.42 209.32h6.54v6.55h-6.54zM93.55 209.32h6.54v6.55h-6.54zM274.8 209.32h6.54v6.55h-6.54zM292.92 209.32h6.54v6.55h-6.54zM298.96 209.32h6.54v6.55h-6.54zM311.05 209.32h6.54v6.55h-6.54zM317.09 209.32h6.54v6.55h-6.54zM335.21 209.32h6.54v6.55h-6.54zM341.26 209.32h6.54v6.55h-6.54zM353.34 209.32h6.54v6.55h-6.54zM359.38 209.32h6.54v6.55h-6.54zM389.59 209.32h6.54v6.55h-6.54zM401.67 209.32h6.54v6.55h-6.54zM413.76 209.32h6.54v6.55h-6.54zM425.84 209.32h6.54v6.55h-6.54zM27.09 215.37h6.54v6.55h-6.54zM117.71 215.37h6.54v6.55h-6.54zM123.75 215.37h6.54v6.55h-6.54zM147.92 215.37h6.54v6.55h-6.54zM184.17 215.37h6.54v6.55h-6.54zM250.63 215.37h6.54v6.55h-6.54zM27.09 221.42h6.54v6.55h-6.54zM75.42 221.42h6.54v6.55h-6.54zM160 221.42h6.54v6.55h-6.54zM214.38 221.42h6.54v6.55h-6.54zM232.5 221.42h6.54v6.55h-6.54zM244.59 221.42h6.54v6.55h-6.54zM8.96 227.47h6.54v6.55h-6.54zM27.09 227.47h6.54v6.55h-6.54zM87.5 227.47h6.54v6.55h-6.54zM160 227.47h6.54v6.55h-6.54zM208.34 227.47h6.54v6.55h-6.54zM214.38 227.47h6.54v6.55h-6.54zM220.42 227.47h6.54v6.55h-6.54zM232.5 227.47h6.54v6.55h-6.54zM27.09 233.53h6.54v6.55h-6.54zM45.21 233.53h6.54v6.55h-6.54zM57.3 233.53h6.54v6.55h-6.54zM117.71 233.53h6.54v6.55h-6.54zM160 233.53h6.54v6.55h-6.54zM220.42 233.53h6.54v6.55h-6.54zM232.5 233.53h6.54v6.55h-6.54zM238.55 233.53h6.54v6.55h-6.54zM250.63 233.53h6.54v6.55h-6.54zM202.3 239.58h6.54v6.55h-6.54zM81.46 245.63h6.54v6.55h-6.54zM99.59 245.63h6.54v6.55h-6.54zM117.71 245.63h6.54v6.55h-6.54zM123.75 245.63h6.54v6.55h-6.54zM184.17 245.63h6.54v6.55h-6.54zM214.38 245.63h6.54v6.55h-6.54zM220.42 245.63h6.54v6.55h-6.54zM238.55 245.63h6.54v6.55h-6.54zM123.75 251.68h6.54v6.55h-6.54zM147.92 251.68h6.54v6.55h-6.54zM160 251.68h6.54v6.55h-6.54zM8.96 257.73h6.54v6.55h-6.54zM27.09 257.73h6.54v6.55h-6.54zM33.13 257.73h6.54v6.55h-6.54zM45.21 257.73h6.54v6.55h-6.54zM51.25 257.73h6.54v6.55h-6.54zM75.42 257.73h6.54v6.55h-6.54zM87.5 257.73h6.54v6.55h-6.54zM117.71 257.73h6.54v6.55h-6.54zM135.84 257.73h6.54v6.55h-6.54zM208.34 257.73h6.54v6.55h-6.54zM214.38 257.73h6.54v6.55h-6.54zM220.42 257.73h6.54v6.55h-6.54zM244.59 257.73h6.54v6.55h-6.54zM2.92 263.79h6.54v6.55h-6.54zM15 263.79h6.54v6.55h-6.54zM27.09 263.79h6.54v6.55h-6.54zM81.46 263.79h6.54v6.55h-6.54zM99.59 263.79h6.54v6.55h-6.54zM117.71 263.79h6.54v6.55h-6.54zM129.8 263.79h6.54v6.55h-6.54zM184.17 263.79h6.54v6.55h-6.54zM202.3 263.79h6.54v6.55h-6.54zM220.42 263.79h6.54v6.55h-6.54zM232.5 263.79h6.54v6.55h-6.54zM250.63 263.79h6.54v6.55h-6.54zM256.67 263.79h6.54v6.55h-6.54zM262.71 263.79h6.54v6.55h-6.54zM8.96 269.84h6.54v6.55h-6.54zM51.25 269.84h6.54v6.55h-6.54zM57.3 269.84h6.54v6.55h-6.54zM75.42 269.84h6.54v6.55h-6.54zM105.63 269.84h6.54v6.55h-6.54zM117.71 269.84h6.54v6.55h-6.54zM129.8 269.84h6.54v6.55h-6.54zM202.3 269.84h6.54v6.55h-6.54zM214.38 269.84h6.54v6.55h-6.54zM238.55 269.84h6.54v6.55h-6.54zM256.67 269.84h6.54v6.55h-6.54zM262.71 269.84h6.54v6.55h-6.54zM45.21 275.89h6.54v6.55h-6.54zM69.38 275.89h6.54v6.55h-6.54zM202.3 275.89h6.54v6.55h-6.54zM8.96 281.94h6.54v6.55h-6.54zM27.09 281.94h6.54v6.55h-6.54zM75.42 281.94h6.54v6.55h-6.54zM81.46 281.94h6.54v6.55h-6.54zM87.5 281.94h6.54v6.55h-6.54zM135.84 281.94h6.54v6.55h-6.54zM184.17 281.94h6.54v6.55h-6.54zM214.38 281.94h6.54v6.55h-6.54zM220.42 281.94h6.54v6.55h-6.54zM238.55 281.94h6.54v6.55h-6.54zM256.67 281.94h6.54v6.55h-6.54zM39.17 287.99h6.54v6.55h-6.54zM57.3 287.99h6.54v6.55h-6.54zM75.42 287.99h6.54v6.55h-6.54zM135.84 287.99h6.54v6.55h-6.54zM238.55 287.99h6.54v6.55h-6.54zM262.71 287.99h6.54v6.55h-6.54zM21.05 294.05h6.54v6.55h-6.54zM69.38 294.05h6.54v6.55h-6.54zM81.46 294.05h6.54v6.55h-6.54zM117.71 294.05h6.54v6.55h-6.54zM135.84 294.05h6.54v6.55h-6.54zM214.38 294.05h6.54v6.55h-6.54zM220.42 294.05h6.54v6.55h-6.54zM238.55 294.05h6.54v6.55h-6.54zM250.63 294.05h6.54v6.55h-6.54zM33.13 300.1h6.54v6.55h-6.54zM105.63 300.1h6.54v6.55h-6.54zM160 300.1h6.54v6.55h-6.54zM166.05 300.1h6.54v6.55h-6.54zM184.17 300.1h6.54v6.55h-6.54zM220.42 300.1h6.54v6.55h-6.54zM256.67 300.1h6.54v6.55h-6.54z"/><path fill="#f08482" d="M214.38 39.86h6.54v6.55h-6.54zM226.46 39.86h6.54v6.55h-6.54zM147.92 51.97h6.54v6.55h-6.54zM226.46 64.07h6.54v6.55h-6.54zM250.63 76.17h6.54v6.55h-6.54zM262.71 106.43h6.54v6.55h-6.54zM256.67 118.54h6.54v6.55h-6.54zM27.09 124.59h6.54v6.55h-6.54zM69.38 124.59h6.54v6.55h-6.54zM75.42 124.59h6.54v6.55h-6.54zM305 124.59h6.54v6.55h-6.54zM311.05 124.59h6.54v6.55h-6.54zM8.96 130.64h6.54v6.55h-6.54zM280.84 136.69h6.54v6.55h-6.54zM51.25 142.75h6.54v6.55h-6.54zM57.3 142.75h6.54v6.55h-6.54zM21.05 154.85h6.54v6.55h-6.54zM57.3 154.85h6.54v6.55h-6.54zM305 154.85h6.54v6.55h-6.54zM63.34 160.9h6.54v6.55h-6.54zM280.84 166.95h6.54v6.55h-6.54zM335.21 166.95h6.54v6.55h-6.54zM419.8 166.95h6.54v6.55h-6.54zM425.84 166.95h6.54v6.55h-6.54zM8.96 179.06h6.54v6.55h-6.54zM33.13 179.06h6.54v6.55h-6.54zM45.21 179.06h6.54v6.55h-6.54zM57.3 179.06h6.54v6.55h-6.54zM63.34 179.06h6.54v6.55h-6.54zM111.67 179.06h6.54v6.55h-6.54zM117.71 179.06h6.54v6.55h-6.54zM123.75 179.06h6.54v6.55h-6.54zM129.8 179.06h6.54v6.55h-6.54zM8.96 185.11h6.54v6.55h-6.54zM329.17 185.11h6.54v6.55h-6.54zM8.96 191.16h6.54v6.55h-6.54zM87.5 191.16h6.54v6.55h-6.54zM99.59 191.16h6.54v6.55h-6.54zM129.8 191.16h6.54v6.55h-6.54zM21.05 197.21h6.54v6.55h-6.54zM33.13 197.21h6.54v6.55h-6.54zM81.46 197.21h6.54v6.55h-6.54zM93.55 197.21h6.54v6.55h-6.54zM105.63 197.21h6.54v6.55h-6.54zM15 203.27h6.54v6.55h-6.54zM27.09 203.27h6.54v6.55h-6.54zM87.5 203.27h6.54v6.55h-6.54zM117.71 203.27h6.54v6.55h-6.54zM123.75 203.27h6.54v6.55h-6.54zM21.05 209.32h6.54v6.55h-6.54zM57.3 209.32h6.54v6.55h-6.54zM111.67 209.32h6.54v6.55h-6.54zM323.13 209.32h6.54v6.55h-6.54zM220.42 215.37h6.54v6.55h-6.54zM99.59 227.47h6.54v6.55h-6.54zM244.59 233.53h6.54v6.55h-6.54zM232.5 245.63h6.54v6.55h-6.54zM244.59 245.63h6.54v6.55h-6.54zM75.42 263.79h6.54v6.55h-6.54zM238.55 263.79h6.54v6.55h-6.54zM244.59 263.79h6.54v6.55h-6.54zM244.59 269.84h6.54v6.55h-6.54zM232.5 281.94h6.54v6.55h-6.54zM244.59 281.94h6.54v6.55h-6.54zM81.46 287.99h6.54v6.55h-6.54zM202.3 287.99h6.54v6.55h-6.54zM232.5 287.99h6.54v6.55h-6.54zM244.59 287.99h6.54v6.55h-6.54zM202.3 294.05h6.54v6.55h-6.54zM244.59 294.05h6.54v6.55h-6.54zM256.67 294.05h6.54v6.55h-6.54zM232.5 300.1h6.54v6.55h-6.54zM244.59 300.1h6.54v6.55h-6.54z"/><path fill="#f6c6c0" d="M250.63 39.86h6.54v6.55h-6.54zM160 51.97h6.54v6.55h-6.54zM262.71 51.97h6.54v6.55h-6.54zM202.3 58.02h6.54v6.55h-6.54zM244.59 58.02h6.54v6.55h-6.54zM202.3 64.07h6.54v6.55h-6.54zM214.38 64.07h6.54v6.55h-6.54zM250.63 64.07h6.54v6.55h-6.54zM214.38 70.12h6.54v6.55h-6.54zM220.42 70.12h6.54v6.55h-6.54zM262.71 70.12h6.54v6.55h-6.54zM202.3 76.17h6.54v6.55h-6.54zM166.05 82.23h6.54v6.55h-6.54zM214.38 82.23h6.54v6.55h-6.54zM220.42 82.23h6.54v6.55h-6.54zM238.55 82.23h6.54v6.55h-6.54zM256.67 82.23h6.54v6.55h-6.54zM262.71 82.23h6.54v6.55h-6.54zM226.46 88.28h6.54v6.55h-6.54zM256.67 94.33h6.54v6.55h-6.54zM214.38 106.43h6.54v6.55h-6.54zM220.42 106.43h6.54v6.55h-6.54zM226.46 106.43h6.54v6.55h-6.54zM250.63 106.43h6.54v6.55h-6.54zM160 112.49h6.54v6.55h-6.54zM184.17 112.49h6.54v6.55h-6.54zM190.21 112.49h6.54v6.55h-6.54zM256.67 112.49h6.54v6.55h-6.54zM226.46 118.54h6.54v6.55h-6.54zM250.63 118.54h6.54v6.55h-6.54zM111.67 124.59h6.54v6.55h-6.54zM81.46 130.64h6.54v6.55h-6.54zM93.55 130.64h6.54v6.55h-6.54zM8.96 142.75h6.54v6.55h-6.54zM21.05 142.75h6.54v6.55h-6.54zM33.13 142.75h6.54v6.55h-6.54zM69.38 142.75h6.54v6.55h-6.54zM81.46 142.75h6.54v6.55h-6.54zM93.55 142.75h6.54v6.55h-6.54zM389.59 142.75h6.54v6.55h-6.54zM329.17 148.8h6.54v6.55h-6.54zM111.67 154.85h6.54v6.55h-6.54zM93.55 160.9h6.54v6.55h-6.54zM365.42 160.9h6.54v6.55h-6.54zM401.67 160.9h6.54v6.55h-6.54zM323.13 166.95h6.54v6.55h-6.54zM377.51 173.01h6.54v6.55h-6.54zM2.92 179.06h6.54v6.55h-6.54zM51.25 179.06h6.54v6.55h-6.54zM81.46 179.06h6.54v6.55h-6.54zM93.55 179.06h6.54v6.55h-6.54zM99.59 179.06h6.54v6.55h-6.54zM413.76 179.06h6.54v6.55h-6.54zM377.51 185.11h6.54v6.55h-6.54zM305 191.16h6.54v6.55h-6.54zM311.05 191.16h6.54v6.55h-6.54zM323.13 191.16h6.54v6.55h-6.54zM389.59 191.16h6.54v6.55h-6.54zM413.76 191.16h6.54v6.55h-6.54zM2.92 197.21h6.54v6.55h-6.54zM8.96 197.21h6.54v6.55h-6.54zM27.09 197.21h6.54v6.55h-6.54zM57.3 197.21h6.54v6.55h-6.54zM39.17 203.27h6.54v6.55h-6.54zM81.46 203.27h6.54v6.55h-6.54zM371.46 203.27h6.54v6.55h-6.54zM377.51 209.32h6.54v6.55h-6.54zM160 215.37h6.54v6.55h-6.54zM232.5 215.37h6.54v6.55h-6.54zM238.55 215.37h6.54v6.55h-6.54zM244.59 215.37h6.54v6.55h-6.54zM45.21 221.42h6.54v6.55h-6.54zM117.71 227.47h6.54v6.55h-6.54zM184.17 233.53h6.54v6.55h-6.54zM202.3 233.53h6.54v6.55h-6.54zM135.84 245.63h6.54v6.55h-6.54zM99.59 251.68h6.54v6.55h-6.54zM178.13 251.68h6.54v6.55h-6.54zM244.59 251.68h6.54v6.55h-6.54zM81.46 257.73h6.54v6.55h-6.54zM226.46 257.73h6.54v6.55h-6.54zM63.34 263.79h6.54v6.55h-6.54zM87.5 263.79h6.54v6.55h-6.54zM214.38 263.79h6.54v6.55h-6.54zM33.13 269.84h6.54v6.55h-6.54zM81.46 269.84h6.54v6.55h-6.54zM99.59 269.84h6.54v6.55h-6.54zM135.84 269.84h6.54v6.55h-6.54zM232.5 269.84h6.54v6.55h-6.54zM57.3 275.89h6.54v6.55h-6.54zM99.59 281.94h6.54v6.55h-6.54zM117.71 281.94h6.54v6.55h-6.54zM117.71 287.99h6.54v6.55h-6.54zM27.09 294.05h6.54v6.55h-6.54zM45.21 294.05h6.54v6.55h-6.54zM75.42 294.05h6.54v6.55h-6.54zM153.96 294.05h6.54v6.55h-6.54zM69.38 300.1h6.54v6.55h-6.54zM99.59 300.1h6.54v6.55h-6.54zM117.71 300.1h6.54v6.55h-6.54zM214.38 300.1h6.54v6.55h-6.54z"/><path fill="#9694c8" d="M15 51.97h6.54v6.55h-6.54zM129.8 51.97h6.54v6.55h-6.54zM105.63 64.07h6.54v6.55h-6.54zM141.88 70.12h6.54v6.55h-6.54zM141.88 82.23h6.54v6.55h-6.54zM99.59 94.33h6.54v6.55h-6.54zM105.63 94.33h6.54v6.55h-6.54zM69.38 100.38h6.54v6.55h-6.54zM105.63 100.38h6.54v6.55h-6.54zM117.71 106.43h6.54v6.55h-6.54zM117.71 112.49h6.54v6.55h-6.54zM129.8 112.49h6.54v6.55h-6.54zM99.59 118.54h6.54v6.55h-6.54zM166.05 124.59h6.54v6.55h-6.54zM196.25 130.64h6.54v6.55h-6.54zM184.17 136.69h6.54v6.55h-6.54zM226.46 136.69h6.54v6.55h-6.54zM256.67 148.8h6.54v6.55h-6.54zM153.96 160.9h6.54v6.55h-6.54zM166.05 173.01h6.54v6.55h-6.54zM196.25 185.11h6.54v6.55h-6.54zM226.46 185.11h6.54v6.55h-6.54zM184.17 191.16h6.54v6.55h-6.54zM244.59 197.21h6.54v6.55h-6.54zM196.25 203.27h6.54v6.55h-6.54zM147.92 209.32h6.54v6.55h-6.54zM292.92 221.42h6.54v6.55h-6.54zM389.59 227.47h6.54v6.55h-6.54zM329.17 233.53h6.54v6.55h-6.54zM292.92 239.58h6.54v6.55h-6.54zM323.13 239.58h6.54v6.55h-6.54zM353.34 239.58h6.54v6.55h-6.54zM274.8 251.68h6.54v6.55h-6.54zM335.21 257.73h6.54v6.55h-6.54zM389.59 257.73h6.54v6.55h-6.54zM413.76 257.73h6.54v6.55h-6.54zM305 269.84h6.54v6.55h-6.54zM311.05 269.84h6.54v6.55h-6.54zM371.46 275.89h6.54v6.55h-6.54zM407.71 275.89h6.54v6.55h-6.54zM371.46 287.99h6.54v6.55h-6.54zM389.59 287.99h6.54v6.55h-6.54zM395.63 287.99h6.54v6.55h-6.54z"/><path fill="#6a70c0" d="M15 58.02h6.54v6.55h-6.54zM21.05 58.02h6.54v6.55h-6.54z"/><path fill="#d62c36" d="M57.3 124.59h6.54v6.55h-6.54zM93.55 154.85h6.54v6.55h-6.54zM274.8 166.95h6.54v6.55h-6.54zM305 166.95h6.54v6.55h-6.54zM347.3 166.95h6.54v6.55h-6.54zM359.38 166.95h6.54v6.55h-6.54zM371.46 166.95h6.54v6.55h-6.54zM377.51 166.95h6.54v6.55h-6.54zM383.55 166.95h6.54v6.55h-6.54zM389.59 166.95h6.54v6.55h-6.54zM395.63 166.95h6.54v6.55h-6.54zM401.67 166.95h6.54v6.55h-6.54zM413.76 166.95h6.54v6.55h-6.54zM311.05 179.06h6.54v6.55h-6.54zM244.59 239.58h6.54v6.55h-6.54z"/>
<path d="M8.96 33.81v6.05M15 33.81v6.05M21.05 33.81v6.05M27.09 33.81v6.05M33.13 33.81v6.05M39.17 33.81v6.05M45.21 33.81v6.05M51.25 33.81v6.05M57.3 33.81v6.05M63.34 33.81v6.05M69.38 33.81v6.05M75.42 33.81v6.05M81.46 33.81v6.05M87.5 33.81v6.05M93.55 33.81v6.05M99.59 33.81v6.05M105.63 33.81v6.05M111.67 33.81v6.05M117.71 33.81v6.05M123.75 33.81v6.05M129.8 33.81v6.05M135.84 33.81v6.05M141.88 33.81v6.05M8.96 39.86v6.05M15 39.86v6.05M21.05 39.86v6.05M27.09 39.86v6.05M33.13 39.86v6.05M39.17 39.86v6.05M45.21 39.86v6.05M51.25 39.86v6.05M57.3 39.86v6.05M63.34 39.86v6.05M69.38 39.86v6.05M75.42 39.86v6.05M81.46 39.86v6.05M87.5 39.86v6.05M93.55 39.86v6.05M99.59 39.86v6.05M105.63 39.86v6.05M111.67 39.86v6.05M117.71 39.86v6.05M123.75 39.86v6.05M129.8 39.86v6.05M135.84 39.86v6.05M141.88 39.86v6.05M166.05 39.86v6.05M172.09 39.86v6.05M178.13 39.86v6.05M184.17 39.86v6.05M190.21 39.86v6.05M220.42 39.86v6.05M226.46 39.86v6.05M232.5 39.86v6.05M256.67 39.86v6.05M262.71 39.86v6.05M335.21 39.86v6.05M8.96 45.91v6.05M15 45.91v6.05M21.05 45.91v6.05M27.09 45.91v6.05M33.13 45.91v6.05M39.17 45.91v6.05M45.21 45.91v6.05M51.25 45.91v6.05M57.3 45.91v6.05M63.34 45.91v6.05M69.38 45.91v6.05M75.42 45.91v6.05M81.46 45.91v6.05M87.5 45.91v6.05M93.55 45.91v6.05M117.71 45.91v6.05M123.75 45.91v6.05M129.8 45.91v6.05M135.84 45.91v6.05M141.88 45.91v6.05M220.42 45.91v6.05M226.46 45.91v6.05M232.5 45.91v6.05M8.96 51.97v6.05M15 51.97v6.05M21.05 51.97v6.05M27.09 51.97v6.05M33.13 51.97v6.05M39.17 51.97v6.05M45.21 51.97v6.05M51.25 51.97v6.05M57.3 51.97v6.05M63.34 51.97v6.05M69.38 51.97v6.05M75.42 51.97v6.05M81.46 51.97v6.05M87.5 51.97v6.05M93.55 51.97v6.05M99.59 51.97v6.05M105.63 51.97v6.05M111.67 51.97v6.05M117.71 51.97v6.05M123.75 51.97v6.05M129.8 51.97v6.05M135.84 51.97v6.05M141.88 51.97v6.05M184.17 51.97v6.05M262.71 51.97v6.05M8.96 58.02v6.05M15 58.02v6.05M21.05 58.02v6.05M27.09 58.02v6.05M33.13 58.02v6.05M39.17 58.02v6.05M45.21 58.02v6.05M51.25 58.02v6.05M57.3 58.02v6.05M63.34 58.02v6.05M69.38 58.02v6.05M75.42 58.02v6.05M81.46 58.02v6.05M87.5 58.02v6.05M93.55 58.02v6.05M99.59 58.02v6.05M105.63 58.02v6.05M111.67 58.02v6.05M117.71 58.02v6.05M123.75 58.02v6.05M129.8 58.02v6.05M135.84 58.02v6.05M141.88 58.02v6.05M166.05 58.02v6.05M226.46 58.02v6.05M250.63 58.02v6.05M256.67 58.02v6.05M8.96 64.07v6.05M15 64.07v6.05M21.05 64.07v6.05M27.09 64.07v6.05M33.13 64.07v6.05M39.17 64.07v6.05M45.21 64.07v6.05M51.25 64.07v6.05M57.3 64.07v6.05M63.34 64.07v6.05M69.38 64.07v6.05M75.42 64.07v6.05M81.46 64.07v6.05M87.5 64.07v6.05M93.55 64.07v6.05M99.59 64.07v6.05M105.63 64.07v6.05M111.67 64.07v6.05M117.71 64.07v6.05M123.75 64.07v6.05M129.8 64.07v6.05M135.84 64.07v6.05M141.88 64.07v6.05M178.13 64.07v6.05M220.42 64.07v6.05M226.46 64.07v6.05M232.5 64.07v6.05M238.55 64.07v6.05M244.59 64.07v6.05M250.63 64.07v6.05M256.67 64.07v6.05M329.17 64.07v6.05M8.96 70.12v6.05M15 70.12v6.05M21.05 70.12v6.05M27.09 70.12v6.05M33.13 70.12v6.05M39.17 70.12v6.05M45.21 70.12v6.05M51.25 70.12v6.05M57.3 70.12v6.05M63.34 70.12v6.05M69.38 70.12v6.05M75.42 70.12v6.05M81.46 70.12v6.05M87.5 70.12v6.05M93.55 70.12v6.05M99.59 70.12v6.05M105.63 70.12v6.05M111.67 70.12v6.05M117.71 70.12v6.05M123.75 70.12v6.05M129.8 70.12v6.05M135.84 70.12v6.05M141.88 70.12v6.05M166.05 70.12v6.05M184.17 70.12v6.05M190.21 70.12v6.05M220.42 70.12v6.05M226.46 70.12v6.05M232.5 70.12v6.05M238.55 70.12v6.05M244.59 70.12v6.05M250.63 70.12v6.05M256.67 70.12v6.05M262.71 70.12v6.05M329.17 70.12v6.05M8.96 76.17v6.05M15 76.17v6.05M21.05 76.17v6.05M27.09 76.17v6.05M33.13 76.17v6.05M39.17 76.17v6.05M45.21 76.17v6.05M51.25 76.17v6.05M57.3 76.17v6.05M63.34 76.17v6.05M69.38 76.17v6.05M75.42 76.17v6.05M81.46 76.17v6.05M87.5 76.17v6.05M93.55 76.17v6.05M99.59 76.17v6.05M105.63 76.17v6.05M111.67 76.17v6.05M117.71 76.17v6.05M123.75 76.17v6.05M129.8 76.17v6.05M135.84 76.17v6.05M141.88 76.17v6.05M166.05 76.17v6.05M172.09 76.17v6.05M178.13 76.17v6.05M184.17 76.17v6.05M190.21 76.17v6.05M220.42 76.17v6.05M226.46 76.17v6.05M232.5 76.17v6.05M238.55 76.17v6.05M256.67 76.17v6.05M262.71 76.17v6.05M407.71 76.17v6.05M8.96 82.23v6.05M15 82.23v6.05M21.05 82.23v6.05M27.09 82.23v6.05M33.13 82.23v6.05M39.17 82.23v6.05M45.21 82.23v6.05M51.25 82.23v6.05M57.3 82.23v6.05M63.34 82.23v6.05M69.38 82.23v6.05M75.42 82.23v6.05M81.46 82.23v6.05M87.5 82.23v6.05M93.55 82.23v6.05M99.59 82.23v6.05M105.63 82.23v6.05M111.67 82.23v6.05M117.71 82.23v6.05M123.75 82.23v6.05M129.8 82.23v6.05M135.84 82.23v6.05M141.88 82.23v6.05M166.05 82.23v6.05M184.17 82.23v6.05M190.21 82.23v6.05M220.42 82.23v6.05M226.46 82.23v6.05M232.5 82.23v6.05M238.55 82.23v6.05M244.59 82.23v6.05M250.63 82.23v6.05M256.67 82.23v6.05M262.71 82.23v6.05M329.17 82.23v6.05M347.3 82.23v6.05M365.42 82.23v6.05M383.55 82.23v6.05M419.8 82.23v6.05M425.84 82.23v6.05M431.88 82.23v6.05M8.96 88.28v6.05M15 88.28v6.05M21.05 88.28v6.05M27.09 88.28v6.05M33.13 88.28v6.05M39.17 88.28v6.05M45.21 88.28v6.05M51.25 88.28v6.05M57.3 88.28v6.05M63.34 88.28v6.05M69.38 88.28v6.05M75.42 88.28v6.05M81.46 88.28v6.05M87.5 88.28v6.05M93.55 88.28v6.05M99.59 88.28v6.05M105.63 88.28v6.05M111.67 88.28v6.05M117.71 88.28v6.05M123.75 88.28v6.05M129.8 88.28v6.05M135.84 88.28v6.05M141.88 88.28v6.05M220.42 88.28v6.05M226.46 88.28v6.05M262.71 88.28v6.05M8.96 94.33v6.05M15 94.33v6.05M21.05 94.33v6.05M27.09 94.33v6.05M33.13 94.33v6.05M39.17 94.33v6.05M45.21 94.33v6.05M51.25 94.33v6.05M57.3 94.33v6.05M63.34 94.33v6.05M69.38 94.33v6.05M75.42 94.33v6.05M81.46 94.33v6.05M87.5 94.33v6.05M93.55 94.33v6.05M99.59 94.33v6.05M105.63 94.33v6.05M111.67 94.33v6.05M117.71 94.33v6.05M123.75 94.33v6.05M129.8 94.33v6.05M135.84 94.33v6.05M141.88 94.33v6.05M8.96 100.38v6.05M15 100.38v6.05M21.05 100.38v6.05M39.17 100.38v6.05M45.21 100.38v6.05M51.25 100.38v6.05M57.3 100.38v6.05M63.34 100.38v6.05M69.38 100.38v6.05M75.42 100.38v6.05M81.46 100.38v6.05M87.5 100.38v6.05M93.55 100.38v6.05M111.67 100.38v6.05M129.8 100.38v6.05M135.84 100.38v6.05M141.88 100.38v6.05M8.96 106.43v6.05M15 106.43v6.05M21.05 106.43v6.05M27.09 106.43v6.05M33.13 106.43v6.05M39.17 106.43v6.05M45.21 106.43v6.05M51.25 106.43v6.05M57.3 106.43v6.05M63.34 106.43v6.05M69.38 106.43v6.05M75.42 106.43v6.05M81.46 106.43v6.05M87.5 106.43v6.05M93.55 106.43v6.05M99.59 106.43v6.05M105.63 106.43v6.05M111.67 106.43v6.05M117.71 106.43v6.05M123.75 106.43v6.05M129.8 106.43v6.05M135.84 106.43v6.05M141.88 106.43v6.05M153.96 106.43v6.05M160 106.43v6.05M166.05 106.43v6.05M172.09 106.43v6.05M178.13 106.43v6.05M184.17 106.43v6.05M190.21 106.43v6.05M196.25 106.43v6.05M202.3 106.43v6.05M220.42 106.43v6.05M226.46 106.43v6.05M232.5 106.43v6.05M238.55 106.43v6.05M244.59 106.43v6.05M250.63 106.43v6.05M256.67 106.43v6.05M262.71 106.43v6.05M305 106.43v6.05M311.05 106.43v6.05M329.17 106.43v6.05M335.21 106.43v6.05M341.26 106.43v6.05M431.88 106.43v6.05M8.96 112.49v6.05M27.09 112.49v6.05M33.13 112.49v6.05M39.17 112.49v6.05M45.21 112.49v6.05M51.25 112.49v6.05M57.3 112.49v6.05M63.34 112.49v6.05M69.38 112.49v6.05M75.42 112.49v6.05M81.46 112.49v6.05M87.5 112.49v6.05M93.55 112.49v6.05M111.67 112.49v6.05M117.71 112.49v6.05M123.75 112.49v6.05M129.8 112.49v6.05M135.84 112.49v6.05M141.88 112.49v6.05M184.17 112.49v6.05M190.21 112.49v6.05M280.84 112.49v6.05M8.96 118.54v6.05M15 118.54v6.05M21.05 118.54v6.05M27.09 118.54v6.05M33.13 118.54v6.05M39.17 118.54v6.05M45.21 118.54v6.05M51.25 118.54v6.05M57.3 118.54v6.05M63.34 118.54v6.05M69.38 118.54v6.05M75.42 118.54v6.05M81.46 118.54v6.05M87.5 118.54v6.05M93.55 118.54v6.05M99.59 118.54v6.05M105.63 118.54v6.05M111.67 118.54v6.05M117.71 118.54v6.05M123.75 118.54v6.05M129.8 118.54v6.05M135.84 118.54v6.05M141.88 118.54v6.05M153.96 118.54v6.05M160 118.54v6.05M166.05 118.54v6.05M184.17 118.54v6.05M190.21 118.54v6.05M196.25 118.54v6.05M202.3 118.54v6.05M220.42 118.54v6.05M226.46 118.54v6.05M256.67 118.54v6.05M262.71 118.54v6.05M27.09 124.59v6.05M63.34 124.59v6.05M69.38 124.59v6.05M75.42 124.59v6.05M153.96 124.59v6.05M160 124.59v6.05M166.05 124.59v6.05M172.09 124.59v6.05M178.13 124.59v6.05M184.17 124.59v6.05M190.21 124.59v6.05M196.25 124.59v6.05M202.3 124.59v6.05M208.34 124.59v6.05M214.38 124.59v6.05M220.42 124.59v6.05M226.46 124.59v6.05M232.5 124.59v6.05M238.55 124.59v6.05M244.59 124.59v6.05M250.63 124.59v6.05M256.67 124.59v6.05M262.71 124.59v6.05M305 124.59v6.05M311.05 124.59v6.05M317.09 124.59v6.05M323.13 124.59v6.05M329.17 124.59v6.05M347.3 124.59v6.05M353.34 124.59v6.05M359.38 124.59v6.05M377.51 124.59v6.05M383.55 124.59v6.05M389.59 124.59v6.05M8.96 130.64v6.05M27.09 130.64v6.05M33.13 130.64v6.05M39.17 130.64v6.05M45.21 130.64v6.05M51.25 130.64v6.05M57.3 130.64v6.05M63.34 130.64v6.05M69.38 130.64v6.05M75.42 130.64v6.05M81.46 130.64v6.05M87.5 130.64v6.05M93.55 130.64v6.05M111.67 130.64v6.05M117.71 130.64v6.05M123.75 130.64v6.05M129.8 130.64v6.05M135.84 130.64v6.05M153.96 130.64v6.05M160 130.64v6.05M166.05 130.64v6.05M172.09 130.64v6.05M178.13 130.64v6.05M184.17 130.64v6.05M190.21 130.64v6.05M196.25 130.64v6.05M202.3 130.64v6.05M208.34 130.64v6.05M214.38 130.64v6.05M220.42 130.64v6.05M226.46 130.64v6.05M232.5 130.64v6.05M238.55 130.64v6.05M244.59 130.64v6.05M250.63 130.64v6.05M256.67 130.64v6.05M262.71 130.64v6.05M274.8 130.64v6.05M280.84 130.64v6.05M286.88 130.64v6.05M292.92 130.64v6.05M311.05 130.64v6.05M317.09 130.64v6.05M323.13 130.64v6.05M329.17 130.64v6.05M335.21 130.64v6.05M377.51 130.64v6.05M383.55 130.64v6.05M389.59 130.64v6.05M395.63 130.64v6.05M401.67 130.64v6.05M99.59 136.69v6.05M153.96 136.69v6.05M160 136.69v6.05M166.05 136.69v6.05M172.09 136.69v6.05M178.13 136.69v6.05M184.17 136.69v6.05M190.21 136.69v6.05M196.25 136.69v6.05M202.3 136.69v6.05M208.34 136.69v6.05M214.38 136.69v6.05M220.42 136.69v6.05M226.46 136.69v6.05M232.5 136.69v6.05M238.55 136.69v6.05M256.67 136.69v6.05M262.71 136.69v6.05M8.96 142.75v6.05M27.09 142.75v6.05M33.13 142.75v6.05M39.17 142.75v6.05M45.21 142.75v6.05M51.25 142.75v6.05M57.3 142.75v6.05M63.34 142.75v6.05M69.38 142.75v6.05M75.42 142.75v6.05M81.46 142.75v6.05M87.5 142.75v6.05M93.55 142.75v6.05M111.67 142.75v6.05M117.71 142.75v6.05M123.75 142.75v6.05M129.8 142.75v6.05M135.84 142.75v6.05M153.96 142.75v6.05M160 142.75v6.05M166.05 142.75v6.05M172.09 142.75v6.05M178.13 142.75v6.05M184.17 142.75v6.05M190.21 142.75v6.05M196.25 142.75v6.05M202.3 142.75v6.05M208.34 142.75v6.05M214.38 142.75v6.05M220.42 142.75v6.05M226.46 142.75v6.05M232.5 142.75v6.05M238.55 142.75v6.05M244.59 142.75v6.05M250.63 142.75v6.05M256.67 142.75v6.05M262.71 142.75v6.05M311.05 142.75v6.05M317.09 142.75v6.05M323.13 142.75v6.05M329.17 142.75v6.05M335.21 142.75v6.05M27.09 148.8v6.05M45.21 148.8v6.05M69.38 148.8v6.05M153.96 148.8v6.05M160 148.8v6.05M166.05 148.8v6.05M172.09 148.8v6.05M178.13 148.8v6.05M184.17 148.8v6.05M190.21 148.8v6.05M196.25 148.8v6.05M202.3 148.8v6.05M208.34 148.8v6.05M214.38 148.8v6.05M220.42 148.8v6.05M226.46 148.8v6.05M256.67 148.8v6.05M262.71 148.8v6.05M280.84 148.8v6.05M329.17 148.8v6.05M359.38 148.8v6.05M431.88 148.8v6.05M27.09 154.85v6.05M63.34 154.85v6.05M69.38 154.85v6.05M75.42 154.85v6.05M153.96 154.85v6.05M160 154.85v6.05M178.13 154.85v6.05M184.17 154.85v6.05M190.21 154.85v6.05M196.25 154.85v6.05M202.3 154.85v6.05M208.34 154.85v6.05M214.38 154.85v6.05M220.42 154.85v6.05M226.46 154.85v6.05M232.5 154.85v6.05M238.55 154.85v6.05M244.59 154.85v6.05M250.63 154.85v6.05M256.67 154.85v6.05M262.71 154.85v6.05M292.92 154.85v6.05M298.96 154.85v6.05M305 154.85v6.05M311.05 154.85v6.05M317.09 154.85v6.05M323.13 154.85v6.05M329.17 154.85v6.05M347.3 154.85v6.05M353.34 154.85v6.05M359.38 154.85v6.05M377.51 154.85v6.05M383.55 154.85v6.05M8.96 160.9v6.05M15 160.9v6.05M21.05 160.9v6.05M27.09 160.9v6.05M33.13 160.9v6.05M39.17 160.9v6.05M45.21 160.9v6.05M63.34 160.9v6.05M69.38 160.9v6.05M75.42 160.9v6.05M81.46 160.9v6.05M87.5 160.9v6.05M93.55 160.9v6.05M99.59 160.9v6.05M117.71 160.9v6.05M123.75 160.9v6.05M153.96 160.9v6.05M160 160.9v6.05M166.05 160.9v6.05M172.09 160.9v6.05M178.13 160.9v6.05M184.17 160.9v6.05M190.21 160.9v6.05M196.25 160.9v6.05M202.3 160.9v6.05M208.34 160.9v6.05M214.38 160.9v6.05M220.42 160.9v6.05M226.46 160.9v6.05M232.5 160.9v6.05M238.55 160.9v6.05M244.59 160.9v6.05M250.63 160.9v6.05M256.67 160.9v6.05M262.71 160.9v6.05M341.26 160.9v6.05M359.38 160.9v6.05M365.42 160.9v6.05M371.46 160.9v6.05M377.51 160.9v6.05M153.96 166.95v6.05M160 166.95v6.05M166.05 166.95v6.05M172.09 166.95v6.05M178.13 166.95v6.05M184.17 166.95v6.05M190.21 166.95v6.05M196.25 166.95v6.05M202.3 166.95v6.05M208.34 166.95v6.05M214.38 166.95v6.05M220.42 166.95v6.05M238.55 166.95v6.05M244.59 166.95v6.05M250.63 166.95v6.05M256.67 166.95v6.05M262.71 166.95v6.05M274.8 166.95v6.05M280.84 166.95v6.05M286.88 166.95v6.05M305 166.95v6.05M311.05 166.95v6.05M317.09 166.95v6.05M323.13 166.95v6.05M353.34 166.95v6.05M359.38 166.95v6.05M365.42 166.95v6.05M371.46 166.95v6.05M377.51 166.95v6.05M383.55 166.95v6.05M389.59 166.95v6.05M395.63 166.95v6.05M401.67 166.95v6.05M419.8 166.95v6.05M425.84 166.95v6.05M431.88 166.95v6.05M166.05 173.01v6.05M172.09 173.01v6.05M178.13 173.01v6.05M184.17 173.01v6.05M190.21 173.01v6.05M196.25 173.01v6.05M202.3 173.01v6.05M208.34 173.01v6.05M214.38 173.01v6.05M220.42 173.01v6.05M226.46 173.01v6.05M232.5 173.01v6.05M238.55 173.01v6.05M244.59 173.01v6.05M250.63 173.01v6.05M256.67 173.01v6.05M262.71 173.01v6.05M311.05 173.01v6.05M365.42 173.01v6.05M371.46 173.01v6.05M377.51 173.01v6.05M401.67 173.01v6.05M8.96 179.06v6.05M15 179.06v6.05M21.05 179.06v6.05M27.09 179.06v6.05M33.13 179.06v6.05M39.17 179.06v6.05M45.21 179.06v6.05M51.25 179.06v6.05M57.3 179.06v6.05M63.34 179.06v6.05M69.38 179.06v6.05M75.42 179.06v6.05M81.46 179.06v6.05M87.5 179.06v6.05M93.55 179.06v6.05M99.59 179.06v6.05M105.63 179.06v6.05M111.67 179.06v6.05M117.71 179.06v6.05M123.75 179.06v6.05M129.8 179.06v6.05M135.84 179.06v6.05M141.88 179.06v6.05M153.96 179.06v6.05M160 179.06v6.05M166.05 179.06v6.05M172.09 179.06v6.05M178.13 179.06v6.05M184.17 179.06v6.05M190.21 179.06v6.05M196.25 179.06v6.05M202.3 179.06v6.05M208.34 179.06v6.05M214.38 179.06v6.05M220.42 179.06v6.05M226.46 179.06v6.05M232.5 179.06v6.05M238.55 179.06v6.05M244.59 179.06v6.05M250.63 179.06v6.05M256.67 179.06v6.05M262.71 179.06v6.05M286.88 179.06v6.05M292.92 179.06v6.05M317.09 179.06v6.05M323.13 179.06v6.05M329.17 179.06v6.05M335.21 179.06v6.05M365.42 179.06v6.05M371.46 179.06v6.05M377.51 179.06v6.05M383.55 179.06v6.05M389.59 179.06v6.05M419.8 179.06v6.05M425.84 179.06v6.05M8.96 185.11v6.05M27.09 185.11v6.05M33.13 185.11v6.05M39.17 185.11v6.05M45.21 185.11v6.05M63.34 185.11v6.05M69.38 185.11v6.05M75.42 185.11v6.05M81.46 185.11v6.05M87.5 185.11v6.05M93.55 185.11v6.05M129.8 185.11v6.05M135.84 185.11v6.05M166.05 185.11v6.05M172.09 185.11v6.05M178.13 185.11v6.05M184.17 185.11v6.05M190.21 185.11v6.05M196.25 185.11v6.05M202.3 185.11v6.05M208.34 185.11v6.05M214.38 185.11v6.05M220.42 185.11v6.05M226.46 185.11v6.05M232.5 185.11v6.05M238.55 185.11v6.05M244.59 185.11v6.05M250.63 185.11v6.05M256.67 185.11v6.05M262.71 185.11v6.05M286.88 185.11v6.05M292.92 185.11v6.05M323.13 185.11v6.05M329.17 185.11v6.05M335.21 185.11v6.05M359.38 185.11v6.05M383.55 185.11v6.05M8.96 191.16v6.05M27.09 191.16v6.05M33.13 191.16v6.05M39.17 191.16v6.05M45.21 191.16v6.05M51.25 191.16v6.05M57.3 191.16v6.05M63.34 191.16v6.05M81.46 191.16v6.05M87.5 191.16v6.05M93.55 191.16v6.05M99.59 191.16v6.05M105.63 191.16v6.05M123.75 191.16v6.05M129.8 191.16v6.05M135.84 191.16v6.05M153.96 191.16v6.05M160 191.16v6.05M166.05 191.16v6.05M172.09 191.16v6.05M178.13 191.16v6.05M184.17 191.16v6.05M190.21 191.16v6.05M196.25 191.16v6.05M202.3 191.16v6.05M208.34 191.16v6.05M214.38 191.16v6.05M220.42 191.16v6.05M226.46 191.16v6.05M232.5 191.16v6.05M238.55 191.16v6.05M244.59 191.16v6.05M250.63 191.16v6.05M256.67 191.16v6.05M262.71 191.16v6.05M280.84 191.16v6.05M305 191.16v6.05M311.05 191.16v6.05M317.09 191.16v6.05M323.13 191.16v6.05M329.17 191.16v6.05M335.21 191.16v6.05M341.26 191.16v6.05M377.51 191.16v6.05M413.76 191.16v6.05M8.96 197.21v6.05M15 197.21v6.05M21.05 197.21v6.05M27.09 197.21v6.05M33.13 197.21v6.05M39.17 197.21v6.05M45.21 197.21v6.05M51.25 197.21v6.05M57.3 197.21v6.05M63.34 197.21v6.05M69.38 197.21v6.05M75.42 197.21v6.05M81.46 197.21v6.05M87.5 197.21v6.05M93.55 197.21v6.05M99.59 197.21v6.05M105.63 197.21v6.05M111.67 197.21v6.05M117.71 197.21v6.05M123.75 197.21v6.05M129.8 197.21v6.05M135.84 197.21v6.05M141.88 197.21v6.05M153.96 197.21v6.05M160 197.21v6.05M166.05 197.21v6.05M172.09 197.21v6.05M178.13 197.21v6.05M184.17 197.21v6.05M190.21 197.21v6.05M196.25 197.21v6.05M202.3 197.21v6.05M208.34 197.21v6.05M214.38 197.21v6.05M220.42 197.21v6.05M226.46 197.21v6.05M232.5 197.21v6.05M238.55 197.21v6.05M244.59 197.21v6.05M250.63 197.21v6.05M256.67 197.21v6.05M262.71 197.21v6.05M317.09 197.21v6.05M323.13 197.21v6.05M329.17 197.21v6.05M8.96 203.27v6.05M15 203.27v6.05M33.13 203.27v6.05M39.17 203.27v6.05M45.21 203.27v6.05M51.25 203.27v6.05M69.38 203.27v6.05M75.42 203.27v6.05M81.46 203.27v6.05M87.5 203.27v6.05M93.55 203.27v6.05M99.59 203.27v6.05M117.71 203.27v6.05M123.75 203.27v6.05M129.8 203.27v6.05M135.84 203.27v6.05M153.96 203.27v6.05M160 203.27v6.05M166.05 203.27v6.05M172.09 203.27v6.05M178.13 203.27v6.05M184.17 203.27v6.05M190.21 203.27v6.05M196.25 203.27v6.05M202.3 203.27v6.05M208.34 203.27v6.05M214.38 203.27v6.05M220.42 203.27v6.05M226.46 203.27v6.05M232.5 203.27v6.05M238.55 203.27v6.05M244.59 203.27v6.05M250.63 203.27v6.05M256.67 203.27v6.05M262.71 203.27v6.05M280.84 203.27v6.05M371.46 203.27v6.05M377.51 203.27v6.05M383.55 203.27v6.05M39.17 209.32v6.05M45.21 209.32v6.05M51.25 209.32v6.05M57.3 209.32v6.05M63.34 209.32v6.05M69.38 209.32v6.05M75.42 209.32v6.05M81.46 209.32v6.05M87.5 209.32v6.05M93.55 209.32v6.05M111.67 209.32v6.05M129.8 209.32v6.05M153.96 209.32v6.05M160 209.32v6.05M166.05 209.32v6.05M172.09 209.32v6.05M178.13 209.32v6.05M184.17 209.32v6.05M190.21 209.32v6.05M196.25 209.32v6.05M202.3 209.32v6.05M220.42 209.32v6.05M226.46 209.32v6.05M232.5 209.32v6.05M238.55 209.32v6.05M244.59 209.32v6.05M250.63 209.32v6.05M256.67 209.32v6.05M262.71 209.32v6.05M274.8 209.32v6.05M280.84 209.32v6.05M298.96 209.32v6.05M305 209.32v6.05M311.05 209.32v6.05M317.09 209.32v6.05M323.13 209.32v6.05M329.17 209.32v6.05M335.21 209.32v6.05M341.26 209.32v6.05M347.3 209.32v6.05M353.34 209.32v6.05M359.38 209.32v6.05M365.42 209.32v6.05M371.46 209.32v6.05M377.51 209.32v6.05M383.55 209.32v6.05M389.59 209.32v6.05M407.71 209.32v6.05M413.76 209.32v6.05M419.8 209.32v6.05M425.84 209.32v6.05M431.88 209.32v6.05M8.96 215.37v6.05M15 215.37v6.05M99.59 215.37v6.05M117.71 215.37v6.05M123.75 215.37v6.05M141.88 215.37v6.05M153.96 215.37v6.05M160 215.37v6.05M166.05 215.37v6.05M184.17 215.37v6.05M220.42 215.37v6.05M238.55 215.37v6.05M244.59 215.37v6.05M250.63 215.37v6.05M256.67 215.37v6.05M262.71 215.37v6.05M274.8 215.37v6.05M280.84 215.37v6.05M286.88 215.37v6.05M292.92 215.37v6.05M298.96 215.37v6.05M305 215.37v6.05M311.05 215.37v6.05M317.09 215.37v6.05M323.13 215.37v6.05M329.17 215.37v6.05M335.21 215.37v6.05M341.26 215.37v6.05M347.3 215.37v6.05M353.34 215.37v6.05M359.38 215.37v6.05M365.42 215.37v6.05M383.55 215.37v6.05M389.59 215.37v6.05M395.63 215.37v6.05M401.67 215.37v6.05M407.71 215.37v6.05M413.76 215.37v6.05M419.8 215.37v6.05M425.84 215.37v6.05M431.88 215.37v6.05M45.21 221.42v6.05M117.71 221.42v6.05M153.96 221.42v6.05M160 221.42v6.05M166.05 221.42v6.05M220.42 221.42v6.05M238.55 221.42v6.05M244.59 221.42v6.05M250.63 221.42v6.05M256.67 221.42v6.05M262.71 221.42v6.05M274.8 221.42v6.05M280.84 221.42v6.05M286.88 221.42v6.05M292.92 221.42v6.05M298.96 221.42v6.05M305 221.42v6.05M311.05 221.42v6.05M317.09 221.42v6.05M323.13 221.42v6.05M329.17 221.42v6.05M335.21 221.42v6.05M341.26 221.42v6.05M347.3 221.42v6.05M353.34 221.42v6.05M359.38 221.42v6.05M365.42 221.42v6.05M371.46 221.42v6.05M377.51 221.42v6.05M383.55 221.42v6.05M389.59 221.42v6.05M395.63 221.42v6.05M401.67 221.42v6.05M407.71 221.42v6.05M413.76 221.42v6.05M419.8 221.42v6.05M425.84 221.42v6.05M431.88 221.42v6.05M8.96 227.47v6.05M15 227.47v6.05M21.05 227.47v6.05M27.09 227.47v6.05M33.13 227.47v6.05M39.17 227.47v6.05M63.34 227.47v6.05M87.5 227.47v6.05M93.55 227.47v6.05M99.59 227.47v6.05M117.71 227.47v6.05M123.75 227.47v6.05M141.88 227.47v6.05M166.05 227.47v6.05M172.09 227.47v6.05M178.13 227.47v6.05M184.17 227.47v6.05M190.21 227.47v6.05M208.34 227.47v6.05M214.38 227.47v6.05M220.42 227.47v6.05M238.55 227.47v6.05M244.59 227.47v6.05M250.63 227.47v6.05M256.67 227.47v6.05M274.8 227.47v6.05M280.84 227.47v6.05M286.88 227.47v6.05M292.92 227.47v6.05M298.96 227.47v6.05M305 227.47v6.05M323.13 227.47v6.05M329.17 227.47v6.05M335.21 227.47v6.05M341.26 227.47v6.05M347.3 227.47v6.05M353.34 227.47v6.05M359.38 227.47v6.05M365.42 227.47v6.05M371.46 227.47v6.05M377.51 227.47v6.05M383.55 227.47v6.05M389.59 227.47v6.05M395.63 227.47v6.05M401.67 227.47v6.05M407.71 227.47v6.05M413.76 227.47v6.05M419.8 227.47v6.05M425.84 227.47v6.05M431.88 227.47v6.05M33.13 233.53v6.05M39.17 233.53v6.05M45.21 233.53v6.05M51.25 233.53v6.05M57.3 233.53v6.05M87.5 233.53v6.05M93.55 233.53v6.05M99.59 233.53v6.05M117.71 233.53v6.05M123.75 233.53v6.05M153.96 233.53v6.05M160 233.53v6.05M166.05 233.53v6.05M172.09 233.53v6.05M178.13 233.53v6.05M184.17 233.53v6.05M190.21 233.53v6.05M196.25 233.53v6.05M202.3 233.53v6.05M220.42 233.53v6.05M226.46 233.53v6.05M232.5 233.53v6.05M238.55 233.53v6.05M244.59 233.53v6.05M250.63 233.53v6.05M256.67 233.53v6.05M262.71 233.53v6.05M274.8 233.53v6.05M280.84 233.53v6.05M286.88 233.53v6.05M305 233.53v6.05M311.05 233.53v6.05M317.09 233.53v6.05M323.13 233.53v6.05M329.17 233.53v6.05M335.21 233.53v6.05M341.26 233.53v6.05M347.3 233.53v6.05M353.34 233.53v6.05M359.38 233.53v6.05M365.42 233.53v6.05M371.46 233.53v6.05M377.51 233.53v6.05M383.55 233.53v6.05M389.59 233.53v6.05M395.63 233.53v6.05M401.67 233.53v6.05M407.71 233.53v6.05M413.76 233.53v6.05M419.8 233.53v6.05M425.84 233.53v6.05M431.88 233.53v6.05M220.42 239.58v6.05M274.8 239.58v6.05M292.92 239.58v6.05M311.05 239.58v6.05M317.09 239.58v6.05M323.13 239.58v6.05M353.34 239.58v6.05M359.38 239.58v6.05M365.42 239.58v6.05M371.46 239.58v6.05M377.51 239.58v6.05M383.55 239.58v6.05M389.59 239.58v6.05M395.63 239.58v6.05M401.67 239.58v6.05M407.71 239.58v6.05M413.76 239.58v6.05M419.8 239.58v6.05M425.84 239.58v6.05M431.88 239.58v6.05M8.96 245.63v6.05M15 245.63v6.05M57.3 245.63v6.05M63.34 245.63v6.05M69.38 245.63v6.05M75.42 245.63v6.05M81.46 245.63v6.05M87.5 245.63v6.05M117.71 245.63v6.05M123.75 245.63v6.05M129.8 245.63v6.05M135.84 245.63v6.05M141.88 245.63v6.05M153.96 245.63v6.05M160 245.63v6.05M184.17 245.63v6.05M190.21 245.63v6.05M208.34 245.63v6.05M214.38 245.63v6.05M220.42 245.63v6.05M226.46 245.63v6.05M232.5 245.63v6.05M238.55 245.63v6.05M244.59 245.63v6.05M274.8 245.63v6.05M280.84 245.63v6.05M286.88 245.63v6.05M292.92 245.63v6.05M298.96 245.63v6.05M305 245.63v6.05M323.13 245.63v6.05M329.17 245.63v6.05M335.21 245.63v6.05M341.26 245.63v6.05M347.3 245.63v6.05M353.34 245.63v6.05M359.38 245.63v6.05M365.42 245.63v6.05M371.46 245.63v6.05M377.51 245.63v6.05M383.55 245.63v6.05M389.59 245.63v6.05M395.63 245.63v6.05M401.67 245.63v6.05M407.71 245.63v6.05M413.76 245.63v6.05M419.8 245.63v6.05M425.84 245.63v6.05M431.88 245.63v6.05M123.75 251.68v6.05M153.96 251.68v6.05M160 251.68v6.05M166.05 251.68v6.05M238.55 251.68v6.05M244.59 251.68v6.05M274.8 251.68v6.05M280.84 251.68v6.05M286.88 251.68v6.05M292.92 251.68v6.05M298.96 251.68v6.05M305 251.68v6.05M323.13 251.68v6.05M329.17 251.68v6.05M335.21 251.68v6.05M341.26 251.68v6.05M347.3 251.68v6.05M353.34 251.68v6.05M359.38 251.68v6.05M365.42 251.68v6.05M371.46 251.68v6.05M377.51 251.68v6.05M395.63 251.68v6.05M401.67 251.68v6.05M407.71 251.68v6.05M413.76 251.68v6.05M419.8 251.68v6.05M425.84 251.68v6.05M431.88 251.68v6.05M8.96 257.73v6.05M27.09 257.73v6.05M33.13 257.73v6.05M39.17 257.73v6.05M45.21 257.73v6.05M51.25 257.73v6.05M69.38 257.73v6.05M75.42 257.73v6.05M81.46 257.73v6.05M87.5 257.73v6.05M93.55 257.73v6.05M99.59 257.73v6.05M105.63 257.73v6.05M111.67 257.73v6.05M117.71 257.73v6.05M123.75 257.73v6.05M141.88 257.73v6.05M166.05 257.73v6.05M196.25 257.73v6.05M202.3 257.73v6.05M208.34 257.73v6.05M214.38 257.73v6.05M220.42 257.73v6.05M226.46 257.73v6.05M232.5 257.73v6.05M250.63 257.73v6.05M256.67 257.73v6.05M262.71 257.73v6.05M274.8 257.73v6.05M280.84 257.73v6.05M286.88 257.73v6.05M292.92 257.73v6.05M298.96 257.73v6.05M305 257.73v6.05M311.05 257.73v6.05M317.09 257.73v6.05M323.13 257.73v6.05M329.17 257.73v6.05M335.21 257.73v6.05M341.26 257.73v6.05M347.3 257.73v6.05M353.34 257.73v6.05M359.38 257.73v6.05M365.42 257.73v6.05M371.46 257.73v6.05M377.51 257.73v6.05M383.55 257.73v6.05M389.59 257.73v6.05M395.63 257.73v6.05M401.67 257.73v6.05M407.71 257.73v6.05M413.76 257.73v6.05M419.8 257.73v6.05M425.84 257.73v6.05M431.88 257.73v6.05M8.96 263.79v6.05M15 263.79v6.05M63.34 263.79v6.05M69.38 263.79v6.05M75.42 263.79v6.05M81.46 263.79v6.05M87.5 263.79v6.05M93.55 263.79v6.05M99.59 263.79v6.05M105.63 263.79v6.05M111.67 263.79v6.05M117.71 263.79v6.05M135.84 263.79v6.05M160 263.79v6.05M166.05 263.79v6.05M172.09 263.79v6.05M178.13 263.79v6.05M184.17 263.79v6.05M202.3 263.79v6.05M208.34 263.79v6.05M214.38 263.79v6.05M220.42 263.79v6.05M226.46 263.79v6.05M232.5 263.79v6.05M238.55 263.79v6.05M244.59 263.79v6.05M250.63 263.79v6.05M256.67 263.79v6.05M262.71 263.79v6.05M274.8 263.79v6.05M280.84 263.79v6.05M286.88 263.79v6.05M292.92 263.79v6.05M298.96 263.79v6.05M305 263.79v6.05M311.05 263.79v6.05M317.09 263.79v6.05M323.13 263.79v6.05M329.17 263.79v6.05M335.21 263.79v6.05M341.26 263.79v6.05M347.3 263.79v6.05M353.34 263.79v6.05M359.38 263.79v6.05M365.42 263.79v6.05M371.46 263.79v6.05M377.51 263.79v6.05M383.55 263.79v6.05M389.59 263.79v6.05M395.63 263.79v6.05M401.67 263.79v6.05M407.71 263.79v6.05M413.76 263.79v6.05M419.8 263.79v6.05M425.84 263.79v6.05M431.88 263.79v6.05M33.13 269.84v6.05M39.17 269.84v6.05M45.21 269.84v6.05M51.25 269.84v6.05M57.3 269.84v6.05M63.34 269.84v6.05M69.38 269.84v6.05M75.42 269.84v6.05M81.46 269.84v6.05M87.5 269.84v6.05M93.55 269.84v6.05M99.59 269.84v6.05M105.63 269.84v6.05M123.75 269.84v6.05M129.8 269.84v6.05M135.84 269.84v6.05M166.05 269.84v6.05M172.09 269.84v6.05M196.25 269.84v6.05M202.3 269.84v6.05M220.42 269.84v6.05M226.46 269.84v6.05M232.5 269.84v6.05M238.55 269.84v6.05M244.59 269.84v6.05M250.63 269.84v6.05M256.67 269.84v6.05M262.71 269.84v6.05M274.8 269.84v6.05M280.84 269.84v6.05M286.88 269.84v6.05M292.92 269.84v6.05M298.96 269.84v6.05M305 269.84v6.05M311.05 269.84v6.05M317.09 269.84v6.05M323.13 269.84v6.05M329.17 269.84v6.05M335.21 269.84v6.05M341.26 269.84v6.05M347.3 269.84v6.05M353.34 269.84v6.05M359.38 269.84v6.05M365.42 269.84v6.05M371.46 269.84v6.05M377.51 269.84v6.05M383.55 269.84v6.05M389.59 269.84v6.05M395.63 269.84v6.05M401.67 269.84v6.05M407.71 269.84v6.05M413.76 269.84v6.05M419.8 269.84v6.05M425.84 269.84v6.05M431.88 269.84v6.05M75.42 275.89v6.05M123.75 275.89v6.05M274.8 275.89v6.05M280.84 275.89v6.05M286.88 275.89v6.05M292.92 275.89v6.05M298.96 275.89v6.05M305 275.89v6.05M311.05 275.89v6.05M317.09 275.89v6.05M323.13 275.89v6.05M341.26 275.89v6.05M359.38 275.89v6.05M365.42 275.89v6.05M371.46 275.89v6.05M377.51 275.89v6.05M383.55 275.89v6.05M389.59 275.89v6.05M395.63 275.89v6.05M413.76 275.89v6.05M419.8 275.89v6.05M425.84 275.89v6.05M431.88 275.89v6.05M8.96 281.94v6.05M33.13 281.94v6.05M39.17 281.94v6.05M45.21 281.94v6.05M63.34 281.94v6.05M81.46 281.94v6.05M87.5 281.94v6.05M117.71 281.94v6.05M123.75 281.94v6.05M129.8 281.94v6.05M135.84 281.94v6.05M160 281.94v6.05M166.05 281.94v6.05M184.17 281.94v6.05M190.21 281.94v6.05M208.34 281.94v6.05M214.38 281.94v6.05M220.42 281.94v6.05M226.46 281.94v6.05M232.5 281.94v6.05M238.55 281.94v6.05M244.59 281.94v6.05M250.63 281.94v6.05M256.67 281.94v6.05M262.71 281.94v6.05M274.8 281.94v6.05M280.84 281.94v6.05M286.88 281.94v6.05M292.92 281.94v6.05M298.96 281.94v6.05M305 281.94v6.05M323.13 281.94v6.05M329.17 281.94v6.05M335.21 281.94v6.05M341.26 281.94v6.05M347.3 281.94v6.05M353.34 281.94v6.05M359.38 281.94v6.05M365.42 281.94v6.05M371.46 281.94v6.05M377.51 281.94v6.05M383.55 281.94v6.05M389.59 281.94v6.05M395.63 281.94v6.05M401.67 281.94v6.05M407.71 281.94v6.05M413.76 281.94v6.05M419.8 281.94v6.05M425.84 281.94v6.05M431.88 281.94v6.05M8.96 287.99v6.05M33.13 287.99v6.05M39.17 287.99v6.05M81.46 287.99v6.05M141.88 287.99v6.05M238.55 287.99v6.05M244.59 287.99v6.05M262.71 287.99v6.05M274.8 287.99v6.05M280.84 287.99v6.05M286.88 287.99v6.05M292.92 287.99v6.05M298.96 287.99v6.05M305 287.99v6.05M311.05 287.99v6.05M317.09 287.99v6.05M323.13 287.99v6.05M329.17 287.99v6.05M335.21 287.99v6.05M341.26 287.99v6.05M347.3 287.99v6.05M353.34 287.99v6.05M359.38 287.99v6.05M365.42 287.99v6.05M371.46 287.99v6.05M377.51 287.99v6.05M383.55 287.99v6.05M389.59 287.99v6.05M395.63 287.99v6.05M401.67 287.99v6.05M407.71 287.99v6.05M413.76 287.99v6.05M419.8 287.99v6.05M425.84 287.99v6.05M431.88 287.99v6.05M8.96 294.05v6.05M27.09 294.05v6.05M33.13 294.05v6.05M39.17 294.05v6.05M45.21 294.05v6.05M51.25 294.05v6.05M57.3 294.05v6.05M75.42 294.05v6.05M81.46 294.05v6.05M87.5 294.05v6.05M93.55 294.05v6.05M99.59 294.05v6.05M117.71 294.05v6.05M123.75 294.05v6.05M129.8 294.05v6.05M135.84 294.05v6.05M153.96 294.05v6.05M160 294.05v6.05M166.05 294.05v6.05M190.21 294.05v6.05M196.25 294.05v6.05M202.3 294.05v6.05M208.34 294.05v6.05M214.38 294.05v6.05M220.42 294.05v6.05M226.46 294.05v6.05M232.5 294.05v6.05M238.55 294.05v6.05M244.59 294.05v6.05M250.63 294.05v6.05M256.67 294.05v6.05M262.71 294.05v6.05M274.8 294.05v6.05M280.84 294.05v6.05M286.88 294.05v6.05M292.92 294.05v6.05M298.96 294.05v6.05M305 294.05v6.05M311.05 294.05v6.05M317.09 294.05v6.05M323.13 294.05v6.05M329.17 294.05v6.05M335.21 294.05v6.05M341.26 294.05v6.05M347.3 294.05v6.05M353.34 294.05v6.05M359.38 294.05v6.05M365.42 294.05v6.05M371.46 294.05v6.05M377.51 294.05v6.05M383.55 294.05v6.05M389.59 294.05v6.05M395.63 294.05v6.05M401.67 294.05v6.05M407.71 294.05v6.05M413.76 294.05v6.05M419.8 294.05v6.05M425.84 294.05v6.05M431.88 294.05v6.05M75.42 300.1v6.05M105.63 300.1v6.05M123.75 300.1v6.05M166.05 300.1v6.05M190.21 300.1v6.05M220.42 300.1v6.05M226.46 300.1v6.05M232.5 300.1v6.05M238.55 300.1v6.05M244.59 300.1v6.05M274.8 300.1v6.05M280.84 300.1v6.05M286.88 300.1v6.05M292.92 300.1v6.05M298.96 300.1v6.05M305 300.1v6.05M311.05 300.1v6.05M317.09 300.1v6.05M323.13 300.1v6.05M329.17 300.1v6.05M335.21 300.1v6.05M341.26 300.1v6.05M347.3 300.1v6.05M353.34 300.1v6.05M359.38 300.1v6.05M365.42 300.1v6.05M383.55 300.1v6.05M389.59 300.1v6.05M395.63 300.1v6.05M401.67 300.1v6.05M407.71 300.1v6.05M413.76 300.1v6.05M419.8 300.1v6.05M425.84 300.1v6.05M431.88 300.1v6.05M2.92 39.86h6.04M8.96 39.86h6.04M15 39.86h6.04M21.05 39.86h6.04M27.09 39.86h6.04M33.13 39.86h6.04M39.17 39.86h6.04M45.21 39.86h6.04M51.25 39.86h6.04M57.3 39.86h6.04M63.34 39.86h6.04M69.38 39.86h6.04M75.42 39.86h6.04M81.46 39.86h6.04M87.5 39.86h6.04M93.55 39.86h6.04M99.59 39.86h6.04M105.63 39.86h6.04M111.67 39.86h6.04M117.71 39.86h6.04M123.75 39.86h6.04M129.8 39.86h6.04M135.84 39.86h6.04M141.88 39.86h6.04M335.21 39.86h6.04M2.92 45.91h6.04M8.96 45.91h6.04M15 45.91h6.04M21.05 45.91h6.04M27.09 45.91h6.04M33.13 45.91h6.04M39.17 45.91h6.04M45.21 45.91h6.04M51.25 45.91h6.04M57.3 45.91h6.04M63.34 45.91h6.04M69.38 45.91h6.04M75.42 45.91h6.04M81.46 45.91h6.04M87.5 45.91h6.04M93.55 45.91h6.04M111.67 45.91h6.04M117.71 45.91h6.04M123.75 45.91h6.04M129.8 45.91h6.04M135.84 45.91h6.04M141.88 45.91h6.04M172.09 45.91h6.04M214.38 45.91h6.04M220.42 45.91h6.04M226.46 45.91h6.04M232.5 45.91h6.04M262.71 45.91h6.04M329.17 45.91h6.04M2.92 51.97h6.04M8.96 51.97h6.04M15 51.97h6.04M21.05 51.97h6.04M27.09 51.97h6.04M33.13 51.97h6.04M39.17 51.97h6.04M45.21 51.97h6.04M51.25 51.97h6.04M57.3 51.97h6.04M63.34 51.97h6.04M69.38 51.97h6.04M75.42 51.97h6.04M81.46 51.97h6.04M87.5 51.97h6.04M93.55 51.97h6.04M111.67 51.97h6.04M117.71 51.97h6.04M123.75 51.97h6.04M129.8 51.97h6.04M135.84 51.97h6.04M141.88 51.97h6.04M220.42 51.97h6.04M262.71 51.97h6.04M2.92 58.02h6.04M8.96 58.02h6.04M15 58.02h6.04M21.05 58.02h6.04M27.09 58.02h6.04M33.13 58.02h6.04M39.17 58.02h6.04M45.21 58.02h6.04M51.25 58.02h6.04M57.3 58.02h6.04M63.34 58.02h6.04M69.38 58.02h6.04M75.42 58.02h6.04M81.46 58.02h6.04M87.5 58.02h6.04M93.55 58.02h6.04M99.59 58.02h6.04M105.63 58.02h6.04M111.67 58.02h6.04M117.71 58.02h6.04M123.75 58.02h6.04M129.8 58.02h6.04M135.84 58.02h6.04M141.88 58.02h6.04M160 58.02h6.04M184.17 58.02h6.04M220.42 58.02h6.04M256.67 58.02h6.04M2.92 64.07h6.04M8.96 64.07h6.04M15 64.07h6.04M21.05 64.07h6.04M27.09 64.07h6.04M33.13 64.07h6.04M39.17 64.07h6.04M45.21 64.07h6.04M51.25 64.07h6.04M57.3 64.07h6.04M63.34 64.07h6.04M69.38 64.07h6.04M75.42 64.07h6.04M81.46 64.07h6.04M87.5 64.07h6.04M93.55 64.07h6.04M99.59 64.07h6.04M105.63 64.07h6.04M111.67 64.07h6.04M117.71 64.07h6.04M123.75 64.07h6.04M129.8 64.07h6.04M135.84 64.07h6.04M141.88 64.07h6.04M202.3 64.07h6.04M220.42 64.07h6.04M226.46 64.07h6.04M244.59 64.07h6.04M250.63 64.07h6.04M256.67 64.07h6.04M323.13 64.07h6.04M401.67 64.07h6.04M2.92 70.12h6.04M8.96 70.12h6.04M15 70.12h6.04M21.05 70.12h6.04M27.09 70.12h6.04M33.13 70.12h6.04M39.17 70.12h6.04M45.21 70.12h6.04M51.25 70.12h6.04M57.3 70.12h6.04M63.34 70.12h6.04M69.38 70.12h6.04M75.42 70.12h6.04M81.46 70.12h6.04M87.5 70.12h6.04M93.55 70.12h6.04M99.59 70.12h6.04M105.63 70.12h6.04M111.67 70.12h6.04M117.71 70.12h6.04M123.75 70.12h6.04M129.8 70.12h6.04M135.84 70.12h6.04M141.88 70.12h6.04M178.13 70.12h6.04M202.3 70.12h6.04M214.38 70.12h6.04M220.42 70.12h6.04M226.46 70.12h6.04M232.5 70.12h6.04M238.55 70.12h6.04M244.59 70.12h6.04M250.63 70.12h6.04M256.67 70.12h6.04M298.96 70.12h6.04M323.13 70.12h6.04M329.17 70.12h6.04M341.26 70.12h6.04M2.92 76.17h6.04M8.96 76.17h6.04M15 76.17h6.04M21.05 76.17h6.04M27.09 76.17h6.04M33.13 76.17h6.04M39.17 76.17h6.04M45.21 76.17h6.04M51.25 76.17h6.04M57.3 76.17h6.04M63.34 76.17h6.04M69.38 76.17h6.04M75.42 76.17h6.04M81.46 76.17h6.04M87.5 76.17h6.04M93.55 76.17h6.04M99.59 76.17h6.04M105.63 76.17h6.04M111.67 76.17h6.04M117.71 76.17h6.04M123.75 76.17h6.04M129.8 76.17h6.04M135.84 76.17h6.04M141.88 76.17h6.04M147.92 76.17h6.04M160 76.17h6.04M166.05 76.17h6.04M178.13 76.17h6.04M184.17 76.17h6.04M190.21 76.17h6.04M202.3 76.17h6.04M214.38 76.17h6.04M220.42 76.17h6.04M226.46 76.17h6.04M232.5 76.17h6.04M238.55 76.17h6.04M250.63 76.17h6.04M256.67 76.17h6.04M262.71 76.17h6.04M280.84 76.17h6.04M353.34 76.17h6.04M407.71 76.17h6.04M2.92 82.23h6.04M8.96 82.23h6.04M15 82.23h6.04M21.05 82.23h6.04M27.09 82.23h6.04M33.13 82.23h6.04M39.17 82.23h6.04M45.21 82.23h6.04M51.25 82.23h6.04M57.3 82.23h6.04M63.34 82.23h6.04M69.38 82.23h6.04M75.42 82.23h6.04M81.46 82.23h6.04M87.5 82.23h6.04M93.55 82.23h6.04M99.59 82.23h6.04M105.63 82.23h6.04M111.67 82.23h6.04M117.71 82.23h6.04M123.75 82.23h6.04M129.8 82.23h6.04M135.84 82.23h6.04M141.88 82.23h6.04M147.92 82.23h6.04M160 82.23h6.04M166.05 82.23h6.04M178.13 82.23h6.04M184.17 82.23h6.04M190.21 82.23h6.04M202.3 82.23h6.04M214.38 82.23h6.04M220.42 82.23h6.04M226.46 82.23h6.04M232.5 82.23h6.04M238.55 82.23h6.04M250.63 82.23h6.04M256.67 82.23h6.04M262.71 82.23h6.04M280.84 82.23h6.04M401.67 82.23h6.04M2.92 88.28h6.04M8.96 88.28h6.04M15 88.28h6.04M21.05 88.28h6.04M27.09 88.28h6.04M33.13 88.28h6.04M39.17 88.28h6.04M45.21 88.28h6.04M51.25 88.28h6.04M57.3 88.28h6.04M63.34 88.28h6.04M69.38 88.28h6.04M75.42 88.28h6.04M81.46 88.28h6.04M87.5 88.28h6.04M93.55 88.28h6.04M99.59 88.28h6.04M105.63 88.28h6.04M111.67 88.28h6.04M117.71 88.28h6.04M123.75 88.28h6.04M129.8 88.28h6.04M135.84 88.28h6.04M141.88 88.28h6.04M147.92 88.28h6.04M160 88.28h6.04M178.13 88.28h6.04M214.38 88.28h6.04M220.42 88.28h6.04M226.46 88.28h6.04M256.67 88.28h6.04M262.71 88.28h6.04M329.17 88.28h6.04M2.92 94.33h6.04M8.96 94.33h6.04M15 94.33h6.04M21.05 94.33h6.04M27.09 94.33h6.04M33.13 94.33h6.04M39.17 94.33h6.04M45.21 94.33h6.04M51.25 94.33h6.04M57.3 94.33h6.04M63.34 94.33h6.04M69.38 94.33h6.04M75.42 94.33h6.04M81.46 94.33h6.04M87.5 94.33h6.04M93.55 94.33h6.04M99.59 94.33h6.04M105.63 94.33h6.04M111.67 94.33h6.04M117.71 94.33h6.04M123.75 94.33h6.04M129.8 94.33h6.04M135.84 94.33h6.04M141.88 94.33h6.04M178.13 94.33h6.04M214.38 94.33h6.04M256.67 94.33h6.04M2.92 100.38h6.04M8.96 100.38h6.04M15 100.38h6.04M21.05 100.38h6.04M33.13 100.38h6.04M39.17 100.38h6.04M45.21 100.38h6.04M51.25 100.38h6.04M57.3 100.38h6.04M63.34 100.38h6.04M69.38 100.38h6.04M75.42 100.38h6.04M81.46 100.38h6.04M87.5 100.38h6.04M93.55 100.38h6.04M105.63 100.38h6.04M111.67 100.38h6.04M123.75 100.38h6.04M129.8 100.38h6.04M135.84 100.38h6.04M141.88 100.38h6.04M2.92 106.43h6.04M8.96 106.43h6.04M15 106.43h6.04M21.05 106.43h6.04M33.13 106.43h6.04M39.17 106.43h6.04M45.21 106.43h6.04M51.25 106.43h6.04M57.3 106.43h6.04M63.34 106.43h6.04M69.38 106.43h6.04M75.42 106.43h6.04M81.46 106.43h6.04M87.5 106.43h6.04M93.55 106.43h6.04M105.63 106.43h6.04M111.67 106.43h6.04M123.75 106.43h6.04M129.8 106.43h6.04M135.84 106.43h6.04M141.88 106.43h6.04M2.92 112.49h6.04M8.96 112.49h6.04M21.05 112.49h6.04M27.09 112.49h6.04M33.13 112.49h6.04M39.17 112.49h6.04M45.21 112.49h6.04M51.25 112.49h6.04M57.3 112.49h6.04M63.34 112.49h6.04M69.38 112.49h6.04M75.42 112.49h6.04M81.46 112.49h6.04M87.5 112.49h6.04M93.55 112.49h6.04M105.63 112.49h6.04M111.67 112.49h6.04M117.71 112.49h6.04M123.75 112.49h6.04M129.8 112.49h6.04M135.84 112.49h6.04M141.88 112.49h6.04M147.92 112.49h6.04M160 112.49h6.04M178.13 112.49h6.04M184.17 112.49h6.04M190.21 112.49h6.04M256.67 112.49h6.04M280.84 112.49h6.04M2.92 118.54h6.04M8.96 118.54h6.04M21.05 118.54h6.04M27.09 118.54h6.04M33.13 118.54h6.04M39.17 118.54h6.04M45.21 118.54h6.04M51.25 118.54h6.04M57.3 118.54h6.04M63.34 118.54h6.04M69.38 118.54h6.04M75.42 118.54h6.04M81.46 118.54h6.04M87.5 118.54h6.04M93.55 118.54h6.04M105.63 118.54h6.04M111.67 118.54h6.04M117.71 118.54h6.04M123.75 118.54h6.04M129.8 118.54h6.04M135.84 118.54h6.04M141.88 118.54h6.04M147.92 118.54h6.04M160 118.54h6.04M178.13 118.54h6.04M184.17 118.54h6.04M190.21 118.54h6.04M256.67 118.54h6.04M21.05 130.64h6.04M27.09 130.64h6.04M39.17 130.64h6.04M57.3 130.64h6.04M63.34 130.64h6.04M69.38 130.64h6.04M75.42 130.64h6.04M93.55 130.64h6.04M111.67 130.64h6.04M123.75 130.64h6.04M147.92 130.64h6.04M153.96 130.64h6.04M160 130.64h6.04M166.05 130.64h6.04M172.09 130.64h6.04M178.13 130.64h6.04M184.17 130.64h6.04M190.21 130.64h6.04M196.25 130.64h6.04M202.3 130.64h6.04M208.34 130.64h6.04M214.38 130.64h6.04M220.42 130.64h6.04M226.46 130.64h6.04M232.5 130.64h6.04M238.55 130.64h6.04M244.59 130.64h6.04M250.63 130.64h6.04M256.67 130.64h6.04M262.71 130.64h6.04M268.75 130.64h6.04M286.88 130.64h6.04M305 130.64h6.04M311.05 130.64h6.04M317.09 130.64h6.04M323.13 130.64h6.04M329.17 130.64h6.04M353.34 130.64h6.04M371.46 130.64h6.04M377.51 130.64h6.04M383.55 130.64h6.04M389.59 130.64h6.04M413.76 130.64h6.04M27.09 136.69h6.04M45.21 136.69h6.04M93.55 136.69h6.04M117.71 136.69h6.04M129.8 136.69h6.04M147.92 136.69h6.04M153.96 136.69h6.04M160 136.69h6.04M166.05 136.69h6.04M172.09 136.69h6.04M178.13 136.69h6.04M184.17 136.69h6.04M190.21 136.69h6.04M196.25 136.69h6.04M202.3 136.69h6.04M208.34 136.69h6.04M214.38 136.69h6.04M220.42 136.69h6.04M226.46 136.69h6.04M232.5 136.69h6.04M238.55 136.69h6.04M250.63 136.69h6.04M256.67 136.69h6.04M262.71 136.69h6.04M280.84 136.69h6.04M292.92 136.69h6.04M329.17 136.69h6.04M395.63 136.69h6.04M27.09 142.75h6.04M45.21 142.75h6.04M93.55 142.75h6.04M117.71 142.75h6.04M129.8 142.75h6.04M147.92 142.75h6.04M153.96 142.75h6.04M160 142.75h6.04M166.05 142.75h6.04M172.09 142.75h6.04M178.13 142.75h6.04M184.17 142.75h6.04M190.21 142.75h6.04M196.25 142.75h6.04M202.3 142.75h6.04M208.34 142.75h6.04M214.38 142.75h6.04M220.42 142.75h6.04M226.46 142.75h6.04M232.5 142.75h6.04M238.55 142.75h6.04M250.63 142.75h6.04M256.67 142.75h6.04M262.71 142.75h6.04M280.84 142.75h6.04M329.17 142.75h6.04M2.92 148.8h6.04M21.05 148.8h6.04M27.09 148.8h6.04M39.17 148.8h6.04M45.21 148.8h6.04M63.34 148.8h6.04M69.38 148.8h6.04M111.67 148.8h6.04M147.92 148.8h6.04M153.96 148.8h6.04M160 148.8h6.04M166.05 148.8h6.04M172.09 148.8h6.04M178.13 148.8h6.04M184.17 148.8h6.04M190.21 148.8h6.04M196.25 148.8h6.04M202.3 148.8h6.04M208.34 148.8h6.04M214.38 148.8h6.04M220.42 148.8h6.04M226.46 148.8h6.04M238.55 148.8h6.04M250.63 148.8h6.04M256.67 148.8h6.04M262.71 148.8h6.04M280.84 148.8h6.04M323.13 148.8h6.04M329.17 148.8h6.04M389.59 148.8h6.04M425.84 148.8h6.04M21.05 154.85h6.04M27.09 154.85h6.04M39.17 154.85h6.04M63.34 154.85h6.04M69.38 154.85h6.04M111.67 154.85h6.04M147.92 154.85h6.04M153.96 154.85h6.04M160 154.85h6.04M172.09 154.85h6.04M178.13 154.85h6.04M184.17 154.85h6.04M190.21 154.85h6.04M196.25 154.85h6.04M202.3 154.85h6.04M208.34 154.85h6.04M214.38 154.85h6.04M220.42 154.85h6.04M226.46 154.85h6.04M238.55 154.85h6.04M250.63 154.85h6.04M256.67 154.85h6.04M262.71 154.85h6.04M292.92 154.85h6.04M323.13 154.85h6.04M329.17 154.85h6.04M341.26 154.85h6.04M353.34 154.85h6.04M359.38 154.85h6.04M377.51 154.85h6.04M21.05 160.9h6.04M27.09 160.9h6.04M39.17 160.9h6.04M57.3 160.9h6.04M63.34 160.9h6.04M69.38 160.9h6.04M75.42 160.9h6.04M93.55 160.9h6.04M111.67 160.9h6.04M123.75 160.9h6.04M147.92 160.9h6.04M153.96 160.9h6.04M160 160.9h6.04M172.09 160.9h6.04M178.13 160.9h6.04M184.17 160.9h6.04M190.21 160.9h6.04M196.25 160.9h6.04M202.3 160.9h6.04M208.34 160.9h6.04M214.38 160.9h6.04M220.42 160.9h6.04M226.46 160.9h6.04M232.5 160.9h6.04M238.55 160.9h6.04M244.59 160.9h6.04M250.63 160.9h6.04M256.67 160.9h6.04M262.71 160.9h6.04M298.96 160.9h6.04M323.13 160.9h6.04M341.26 160.9h6.04M353.34 160.9h6.04M359.38 160.9h6.04M371.46 160.9h6.04M377.51 160.9h6.04M147.92 166.95h6.04M153.96 166.95h6.04M160 166.95h6.04M166.05 166.95h6.04M172.09 166.95h6.04M178.13 166.95h6.04M184.17 166.95h6.04M190.21 166.95h6.04M196.25 166.95h6.04M202.3 166.95h6.04M208.34 166.95h6.04M214.38 166.95h6.04M220.42 166.95h6.04M232.5 166.95h6.04M238.55 166.95h6.04M244.59 166.95h6.04M250.63 166.95h6.04M256.67 166.95h6.04M262.71 166.95h6.04M298.96 166.95h6.04M323.13 166.95h6.04M335.21 166.95h6.04M353.34 166.95h6.04M359.38 166.95h6.04M365.42 166.95h6.04M371.46 166.95h6.04M377.51 166.95h6.04M401.67 166.95h6.04M147.92 173.01h6.04M160 173.01h6.04M166.05 173.01h6.04M172.09 173.01h6.04M178.13 173.01h6.04M184.17 173.01h6.04M190.21 173.01h6.04M196.25 173.01h6.04M202.3 173.01h6.04M208.34 173.01h6.04M214.38 173.01h6.04M220.42 173.01h6.04M232.5 173.01h6.04M238.55 173.01h6.04M244.59 173.01h6.04M250.63 173.01h6.04M256.67 173.01h6.04M262.71 173.01h6.04M268.75 173.01h6.04M305 173.01h6.04M311.05 173.01h6.04M347.3 173.01h6.04M359.38 173.01h6.04M365.42 173.01h6.04M371.46 173.01h6.04M377.51 173.01h6.04M395.63 173.01h6.04M401.67 173.01h6.04M425.84 173.01h6.04M147.92 179.06h6.04M160 179.06h6.04M166.05 179.06h6.04M172.09 179.06h6.04M178.13 179.06h6.04M184.17 179.06h6.04M190.21 179.06h6.04M196.25 179.06h6.04M202.3 179.06h6.04M208.34 179.06h6.04M214.38 179.06h6.04M220.42 179.06h6.04M226.46 179.06h6.04M232.5 179.06h6.04M238.55 179.06h6.04M244.59 179.06h6.04M250.63 179.06h6.04M256.67 179.06h6.04M262.71 179.06h6.04M311.05 179.06h6.04M359.38 179.06h6.04M365.42 179.06h6.04M371.46 179.06h6.04M377.51 179.06h6.04M401.67 179.06h6.04M425.84 179.06h6.04M2.92 185.11h6.04M8.96 185.11h6.04M21.05 185.11h6.04M27.09 185.11h6.04M33.13 185.11h6.04M39.17 185.11h6.04M45.21 185.11h6.04M57.3 185.11h6.04M63.34 185.11h6.04M69.38 185.11h6.04M75.42 185.11h6.04M81.46 185.11h6.04M87.5 185.11h6.04M93.55 185.11h6.04M111.67 185.11h6.04M123.75 185.11h6.04M129.8 185.11h6.04M135.84 185.11h6.04M147.92 185.11h6.04M160 185.11h6.04M166.05 185.11h6.04M172.09 185.11h6.04M178.13 185.11h6.04M184.17 185.11h6.04M190.21 185.11h6.04M196.25 185.11h6.04M202.3 185.11h6.04M208.34 185.11h6.04M214.38 185.11h6.04M220.42 185.11h6.04M226.46 185.11h6.04M232.5 185.11h6.04M238.55 185.11h6.04M244.59 185.11h6.04M250.63 185.11h6.04M256.67 185.11h6.04M262.71 185.11h6.04M280.84 185.11h6.04M286.88 185.11h6.04M292.92 185.11h6.04M317.09 185.11h6.04M323.13 185.11h6.04M329.17 185.11h6.04M335.21 185.11h6.04M359.38 185.11h6.04M377.51 185.11h6.04M383.55 185.11h6.04M2.92 191.16h6.04M8.96 191.16h6.04M21.05 191.16h6.04M27.09 191.16h6.04M33.13 191.16h6.04M39.17 191.16h6.04M45.21 191.16h6.04M57.3 191.16h6.04M63.34 191.16h6.04M75.42 191.16h6.04M81.46 191.16h6.04M87.5 191.16h6.04M93.55 191.16h6.04M123.75 191.16h6.04M129.8 191.16h6.04M135.84 191.16h6.04M147.92 191.16h6.04M160 191.16h6.04M166.05 191.16h6.04M172.09 191.16h6.04M178.13 191.16h6.04M184.17 191.16h6.04M190.21 191.16h6.04M196.25 191.16h6.04M202.3 191.16h6.04M208.34 191.16h6.04M214.38 191.16h6.04M220.42 191.16h6.04M226.46 191.16h6.04M232.5 191.16h6.04M238.55 191.16h6.04M244.59 191.16h6.04M250.63 191.16h6.04M256.67 191.16h6.04M262.71 191.16h6.04M280.84 191.16h6.04M305 191.16h6.04M317.09 191.16h6.04M323.13 191.16h6.04M329.17 191.16h6.04M335.21 191.16h6.04M359.38 191.16h6.04M377.51 191.16h6.04M2.92 197.21h6.04M8.96 197.21h6.04M21.05 197.21h6.04M27.09 197.21h6.04M33.13 197.21h6.04M39.17 197.21h6.04M45.21 197.21h6.04M51.25 197.21h6.04M57.3 197.21h6.04M63.34 197.21h6.04M75.42 197.21h6.04M81.46 197.21h6.04M87.5 197.21h6.04M93.55 197.21h6.04M99.59 197.21h6.04M105.63 197.21h6.04M117.71 197.21h6.04M123.75 197.21h6.04M129.8 197.21h6.04M135.84 197.21h6.04M147.92 197.21h6.04M153.96 197.21h6.04M160 197.21h6.04M166.05 197.21h6.04M172.09 197.21h6.04M178.13 197.21h6.04M184.17 197.21h6.04M190.21 197.21h6.04M196.25 197.21h6.04M202.3 197.21h6.04M208.34 197.21h6.04M214.38 197.21h6.04M220.42 197.21h6.04M226.46 197.21h6.04M232.5 197.21h6.04M238.55 197.21h6.04M244.59 197.21h6.04M250.63 197.21h6.04M256.67 197.21h6.04M262.71 197.21h6.04M280.84 197.21h6.04M298.96 197.21h6.04M311.05 197.21h6.04M317.09 197.21h6.04M323.13 197.21h6.04M329.17 197.21h6.04M341.26 197.21h6.04M359.38 197.21h6.04M377.51 197.21h6.04M389.59 197.21h6.04M2.92 203.27h6.04M8.96 203.27h6.04M15 203.27h6.04M27.09 203.27h6.04M33.13 203.27h6.04M39.17 203.27h6.04M45.21 203.27h6.04M51.25 203.27h6.04M63.34 203.27h6.04M69.38 203.27h6.04M75.42 203.27h6.04M81.46 203.27h6.04M87.5 203.27h6.04M93.55 203.27h6.04M99.59 203.27h6.04M111.67 203.27h6.04M117.71 203.27h6.04M123.75 203.27h6.04M129.8 203.27h6.04M135.84 203.27h6.04M147.92 203.27h6.04M153.96 203.27h6.04M160 203.27h6.04M166.05 203.27h6.04M172.09 203.27h6.04M178.13 203.27h6.04M184.17 203.27h6.04M190.21 203.27h6.04M196.25 203.27h6.04M202.3 203.27h6.04M208.34 203.27h6.04M214.38 203.27h6.04M220.42 203.27h6.04M226.46 203.27h6.04M232.5 203.27h6.04M238.55 203.27h6.04M244.59 203.27h6.04M250.63 203.27h6.04M256.67 203.27h6.04M262.71 203.27h6.04M280.84 203.27h6.04M377.51 203.27h6.04M8.96 209.32h6.04M33.13 209.32h6.04M39.17 209.32h6.04M45.21 209.32h6.04M51.25 209.32h6.04M63.34 209.32h6.04M69.38 209.32h6.04M75.42 209.32h6.04M81.46 209.32h6.04M87.5 209.32h6.04M93.55 209.32h6.04M111.67 209.32h6.04M123.75 209.32h6.04M129.8 209.32h6.04M147.92 209.32h6.04M153.96 209.32h6.04M160 209.32h6.04M166.05 209.32h6.04M172.09 209.32h6.04M178.13 209.32h6.04M184.17 209.32h6.04M190.21 209.32h6.04M196.25 209.32h6.04M202.3 209.32h6.04M214.38 209.32h6.04M220.42 209.32h6.04M226.46 209.32h6.04M232.5 209.32h6.04M238.55 209.32h6.04M244.59 209.32h6.04M250.63 209.32h6.04M256.67 209.32h6.04M262.71 209.32h6.04M274.8 209.32h6.04M280.84 209.32h6.04M292.92 209.32h6.04M305 209.32h6.04M347.3 209.32h6.04M365.42 209.32h6.04M371.46 209.32h6.04M377.51 209.32h6.04M383.55 209.32h6.04M413.76 209.32h6.04M431.88 209.32h6.04M27.09 221.42h6.04M99.59 221.42h6.04M111.67 221.42h6.04M117.71 221.42h6.04M135.84 221.42h6.04M147.92 221.42h6.04M153.96 221.42h6.04M160 221.42h6.04M166.05 221.42h6.04M184.17 221.42h6.04M202.3 221.42h6.04M214.38 221.42h6.04M220.42 221.42h6.04M232.5 221.42h6.04M238.55 221.42h6.04M244.59 221.42h6.04M250.63 221.42h6.04M256.67 221.42h6.04M262.71 221.42h6.04M268.75 221.42h6.04M274.8 221.42h6.04M280.84 221.42h6.04M286.88 221.42h6.04M292.92 221.42h6.04M298.96 221.42h6.04M305 221.42h6.04M311.05 221.42h6.04M317.09 221.42h6.04M323.13 221.42h6.04M329.17 221.42h6.04M335.21 221.42h6.04M341.26 221.42h6.04M347.3 221.42h6.04M353.34 221.42h6.04M359.38 221.42h6.04M365.42 221.42h6.04M377.51 221.42h6.04M383.55 221.42h6.04M389.59 221.42h6.04M395.63 221.42h6.04M401.67 221.42h6.04M407.71 221.42h6.04M413.76 221.42h6.04M419.8 221.42h6.04M425.84 221.42h6.04M431.88 221.42h6.04M27.09 227.47h6.04M39.17 227.47h6.04M57.3 227.47h6.04M99.59 227.47h6.04M111.67 227.47h6.04M117.71 227.47h6.04M135.84 227.47h6.04M147.92 227.47h6.04M160 227.47h6.04M166.05 227.47h6.04M184.17 227.47h6.04M202.3 227.47h6.04M214.38 227.47h6.04M220.42 227.47h6.04M232.5 227.47h6.04M238.55 227.47h6.04M244.59 227.47h6.04M250.63 227.47h6.04M256.67 227.47h6.04M268.75 227.47h6.04M274.8 227.47h6.04M280.84 227.47h6.04M286.88 227.47h6.04M292.92 227.47h6.04M298.96 227.47h6.04M305 227.47h6.04M317.09 227.47h6.04M323.13 227.47h6.04M329.17 227.47h6.04M335.21 227.47h6.04M341.26 227.47h6.04M347.3 227.47h6.04M353.34 227.47h6.04M359.38 227.47h6.04M365.42 227.47h6.04M371.46 227.47h6.04M377.51 227.47h6.04M383.55 227.47h6.04M389.59 227.47h6.04M395.63 227.47h6.04M401.67 227.47h6.04M407.71 227.47h6.04M413.76 227.47h6.04M419.8 227.47h6.04M425.84 227.47h6.04M431.88 227.47h6.04M8.96 233.53h6.04M27.09 233.53h6.04M33.13 233.53h6.04M39.17 233.53h6.04M57.3 233.53h6.04M81.46 233.53h6.04M87.5 233.53h6.04M93.55 233.53h6.04M99.59 233.53h6.04M111.67 233.53h6.04M117.71 233.53h6.04M123.75 233.53h6.04M147.92 233.53h6.04M160 233.53h6.04M166.05 233.53h6.04M172.09 233.53h6.04M178.13 233.53h6.04M184.17 233.53h6.04M190.21 233.53h6.04M202.3 233.53h6.04M214.38 233.53h6.04M220.42 233.53h6.04M232.5 233.53h6.04M238.55 233.53h6.04M244.59 233.53h6.04M250.63 233.53h6.04M256.67 233.53h6.04M268.75 233.53h6.04M274.8 233.53h6.04M280.84 233.53h6.04M286.88 233.53h6.04M298.96 233.53h6.04M305 233.53h6.04M317.09 233.53h6.04M323.13 233.53h6.04M329.17 233.53h6.04M335.21 233.53h6.04M341.26 233.53h6.04M347.3 233.53h6.04M353.34 233.53h6.04M359.38 233.53h6.04M365.42 233.53h6.04M371.46 233.53h6.04M377.51 233.53h6.04M383.55 233.53h6.04M389.59 233.53h6.04M395.63 233.53h6.04M401.67 233.53h6.04M407.71 233.53h6.04M413.76 233.53h6.04M419.8 233.53h6.04M425.84 233.53h6.04M431.88 233.53h6.04M153.96 239.58h6.04M172.09 239.58h6.04M202.3 239.58h6.04M214.38 239.58h6.04M220.42 239.58h6.04M244.59 239.58h6.04M262.71 239.58h6.04M268.75 239.58h6.04M274.8 239.58h6.04M286.88 239.58h6.04M305 239.58h6.04M311.05 239.58h6.04M317.09 239.58h6.04M323.13 239.58h6.04M335.21 239.58h6.04M347.3 239.58h6.04M353.34 239.58h6.04M359.38 239.58h6.04M365.42 239.58h6.04M371.46 239.58h6.04M377.51 239.58h6.04M383.55 239.58h6.04M389.59 239.58h6.04M395.63 239.58h6.04M401.67 239.58h6.04M407.71 239.58h6.04M413.76 239.58h6.04M419.8 239.58h6.04M425.84 239.58h6.04M431.88 239.58h6.04M153.96 245.63h6.04M202.3 245.63h6.04M214.38 245.63h6.04M220.42 245.63h6.04M244.59 245.63h6.04M268.75 245.63h6.04M274.8 245.63h6.04M286.88 245.63h6.04M292.92 245.63h6.04M305 245.63h6.04M317.09 245.63h6.04M323.13 245.63h6.04M335.21 245.63h6.04M347.3 245.63h6.04M353.34 245.63h6.04M359.38 245.63h6.04M365.42 245.63h6.04M371.46 245.63h6.04M377.51 245.63h6.04M383.55 245.63h6.04M389.59 245.63h6.04M395.63 245.63h6.04M401.67 245.63h6.04M407.71 245.63h6.04M413.76 245.63h6.04M419.8 245.63h6.04M425.84 245.63h6.04M431.88 245.63h6.04M8.96 251.68h6.04M27.09 251.68h6.04M99.59 251.68h6.04M117.71 251.68h6.04M123.75 251.68h6.04M147.92 251.68h6.04M153.96 251.68h6.04M160 251.68h6.04M178.13 251.68h6.04M220.42 251.68h6.04M232.5 251.68h6.04M238.55 251.68h6.04M244.59 251.68h6.04M268.75 251.68h6.04M274.8 251.68h6.04M280.84 251.68h6.04M286.88 251.68h6.04M292.92 251.68h6.04M298.96 251.68h6.04M305 251.68h6.04M317.09 251.68h6.04M323.13 251.68h6.04M329.17 251.68h6.04M335.21 251.68h6.04M341.26 251.68h6.04M347.3 251.68h6.04M353.34 251.68h6.04M359.38 251.68h6.04M365.42 251.68h6.04M371.46 251.68h6.04M377.51 251.68h6.04M389.59 251.68h6.04M395.63 251.68h6.04M401.67 251.68h6.04M407.71 251.68h6.04M413.76 251.68h6.04M419.8 251.68h6.04M425.84 251.68h6.04M431.88 251.68h6.04M8.96 257.73h6.04M27.09 257.73h6.04M99.59 257.73h6.04M117.71 257.73h6.04M123.75 257.73h6.04M160 257.73h6.04M166.05 257.73h6.04M220.42 257.73h6.04M232.5 257.73h6.04M244.59 257.73h6.04M268.75 257.73h6.04M274.8 257.73h6.04M280.84 257.73h6.04M286.88 257.73h6.04M292.92 257.73h6.04M298.96 257.73h6.04M305 257.73h6.04M317.09 257.73h6.04M323.13 257.73h6.04M329.17 257.73h6.04M335.21 257.73h6.04M341.26 257.73h6.04M347.3 257.73h6.04M353.34 257.73h6.04M359.38 257.73h6.04M365.42 257.73h6.04M371.46 257.73h6.04M377.51 257.73h6.04M389.59 257.73h6.04M395.63 257.73h6.04M401.67 257.73h6.04M407.71 257.73h6.04M413.76 257.73h6.04M419.8 257.73h6.04M425.84 257.73h6.04M431.88 257.73h6.04M2.92 263.79h6.04M8.96 263.79h6.04M27.09 263.79h6.04M39.17 263.79h6.04M63.34 263.79h6.04M69.38 263.79h6.04M75.42 263.79h6.04M81.46 263.79h6.04M87.5 263.79h6.04M93.55 263.79h6.04M99.59 263.79h6.04M105.63 263.79h6.04M111.67 263.79h6.04M117.71 263.79h6.04M135.84 263.79h6.04M160 263.79h6.04M166.05 263.79h6.04M196.25 263.79h6.04M202.3 263.79h6.04M208.34 263.79h6.04M214.38 263.79h6.04M220.42 263.79h6.04M226.46 263.79h6.04M232.5 263.79h6.04M244.59 263.79h6.04M250.63 263.79h6.04M256.67 263.79h6.04M262.71 263.79h6.04M268.75 263.79h6.04M274.8 263.79h6.04M280.84 263.79h6.04M286.88 263.79h6.04M292.92 263.79h6.04M298.96 263.79h6.04M305 263.79h6.04M311.05 263.79h6.04M317.09 263.79h6.04M323.13 263.79h6.04M329.17 263.79h6.04M335.21 263.79h6.04M341.26 263.79h6.04M347.3 263.79h6.04M353.34 263.79h6.04M359.38 263.79h6.04M365.42 263.79h6.04M371.46 263.79h6.04M377.51 263.79h6.04M383.55 263.79h6.04M389.59 263.79h6.04M395.63 263.79h6.04M401.67 263.79h6.04M407.71 263.79h6.04M413.76 263.79h6.04M419.8 263.79h6.04M425.84 263.79h6.04M431.88 263.79h6.04M8.96 269.84h6.04M27.09 269.84h6.04M39.17 269.84h6.04M57.3 269.84h6.04M63.34 269.84h6.04M69.38 269.84h6.04M75.42 269.84h6.04M81.46 269.84h6.04M87.5 269.84h6.04M93.55 269.84h6.04M99.59 269.84h6.04M105.63 269.84h6.04M117.71 269.84h6.04M129.8 269.84h6.04M135.84 269.84h6.04M160 269.84h6.04M166.05 269.84h6.04M172.09 269.84h6.04M196.25 269.84h6.04M202.3 269.84h6.04M214.38 269.84h6.04M220.42 269.84h6.04M226.46 269.84h6.04M232.5 269.84h6.04M238.55 269.84h6.04M244.59 269.84h6.04M250.63 269.84h6.04M256.67 269.84h6.04M262.71 269.84h6.04M268.75 269.84h6.04M274.8 269.84h6.04M280.84 269.84h6.04M286.88 269.84h6.04M292.92 269.84h6.04M298.96 269.84h6.04M305 269.84h6.04M311.05 269.84h6.04M317.09 269.84h6.04M323.13 269.84h6.04M329.17 269.84h6.04M335.21 269.84h6.04M341.26 269.84h6.04M347.3 269.84h6.04M353.34 269.84h6.04M359.38 269.84h6.04M365.42 269.84h6.04M371.46 269.84h6.04M377.51 269.84h6.04M383.55 269.84h6.04M389.59 269.84h6.04M395.63 269.84h6.04M401.67 269.84h6.04M407.71 269.84h6.04M413.76 269.84h6.04M419.8 269.84h6.04M425.84 269.84h6.04M431.88 269.84h6.04M27.09 275.89h6.04M45.21 275.89h6.04M57.3 275.89h6.04M69.38 275.89h6.04M75.42 275.89h6.04M117.71 275.89h6.04M123.75 275.89h6.04M202.3 275.89h6.04M256.67 275.89h6.04M268.75 275.89h6.04M274.8 275.89h6.04M280.84 275.89h6.04M286.88 275.89h6.04M292.92 275.89h6.04M298.96 275.89h6.04M305 275.89h6.04M311.05 275.89h6.04M317.09 275.89h6.04M323.13 275.89h6.04M335.21 275.89h6.04M341.26 275.89h6.04M353.34 275.89h6.04M359.38 275.89h6.04M365.42 275.89h6.04M371.46 275.89h6.04M377.51 275.89h6.04M383.55 275.89h6.04M389.59 275.89h6.04M395.63 275.89h6.04M407.71 275.89h6.04M413.76 275.89h6.04M419.8 275.89h6.04M425.84 275.89h6.04M431.88 275.89h6.04M27.09 281.94h6.04M45.21 281.94h6.04M57.3 281.94h6.04M75.42 281.94h6.04M117.71 281.94h6.04M123.75 281.94h6.04M184.17 281.94h6.04M202.3 281.94h6.04M256.67 281.94h6.04M268.75 281.94h6.04M274.8 281.94h6.04M280.84 281.94h6.04M286.88 281.94h6.04M292.92 281.94h6.04M298.96 281.94h6.04M305 281.94h6.04M317.09 281.94h6.04M323.13 281.94h6.04M335.21 281.94h6.04M341.26 281.94h6.04M353.34 281.94h6.04M359.38 281.94h6.04M365.42 281.94h6.04M371.46 281.94h6.04M377.51 281.94h6.04M383.55 281.94h6.04M389.59 281.94h6.04M395.63 281.94h6.04M407.71 281.94h6.04M413.76 281.94h6.04M419.8 281.94h6.04M425.84 281.94h6.04M431.88 281.94h6.04M2.92 287.99h6.04M8.96 287.99h6.04M27.09 287.99h6.04M33.13 287.99h6.04M39.17 287.99h6.04M57.3 287.99h6.04M75.42 287.99h6.04M81.46 287.99h6.04M117.71 287.99h6.04M135.84 287.99h6.04M178.13 287.99h6.04M202.3 287.99h6.04M220.42 287.99h6.04M232.5 287.99h6.04M238.55 287.99h6.04M244.59 287.99h6.04M256.67 287.99h6.04M262.71 287.99h6.04M268.75 287.99h6.04M274.8 287.99h6.04M280.84 287.99h6.04M286.88 287.99h6.04M292.92 287.99h6.04M298.96 287.99h6.04M305 287.99h6.04M317.09 287.99h6.04M323.13 287.99h6.04M329.17 287.99h6.04M335.21 287.99h6.04M341.26 287.99h6.04M347.3 287.99h6.04M353.34 287.99h6.04M359.38 287.99h6.04M365.42 287.99h6.04M371.46 287.99h6.04M377.51 287.99h6.04M383.55 287.99h6.04M389.59 287.99h6.04M395.63 287.99h6.04M401.67 287.99h6.04M407.71 287.99h6.04M413.76 287.99h6.04M419.8 287.99h6.04M425.84 287.99h6.04M431.88 287.99h6.04M2.92 294.05h6.04M8.96 294.05h6.04M27.09 294.05h6.04M33.13 294.05h6.04M39.17 294.05h6.04M57.3 294.05h6.04M75.42 294.05h6.04M81.46 294.05h6.04M117.71 294.05h6.04M135.84 294.05h6.04M202.3 294.05h6.04M220.42 294.05h6.04M232.5 294.05h6.04M238.55 294.05h6.04M244.59 294.05h6.04M256.67 294.05h6.04M262.71 294.05h6.04M268.75 294.05h6.04M274.8 294.05h6.04M280.84 294.05h6.04M286.88 294.05h6.04M292.92 294.05h6.04M298.96 294.05h6.04M305 294.05h6.04M311.05 294.05h6.04M317.09 294.05h6.04M323.13 294.05h6.04M329.17 294.05h6.04M335.21 294.05h6.04M341.26 294.05h6.04M347.3 294.05h6.04M353.34 294.05h6.04M359.38 294.05h6.04M365.42 294.05h6.04M371.46 294.05h6.04M377.51 294.05h6.04M383.55 294.05h6.04M389.59 294.05h6.04M395.63 294.05h6.04M401.67 294.05h6.04M407.71 294.05h6.04M413.76 294.05h6.04M419.8 294.05h6.04M425.84 294.05h6.04M431.88 294.05h6.04M33.13 300.1h6.04M51.25 300.1h6.04M69.38 300.1h6.04M75.42 300.1h6.04M99.59 300.1h6.04M117.71 300.1h6.04M123.75 300.1h6.04M160 300.1h6.04M166.05 300.1h6.04M184.17 300.1h6.04M190.21 300.1h6.04M214.38 300.1h6.04M220.42 300.1h6.04M226.46 300.1h6.04M232.5 300.1h6.04M238.55 300.1h6.04M244.59 300.1h6.04M256.67 300.1h6.04M268.75 300.1h6.04M274.8 300.1h6.04M280.84 300.1h6.04M286.88 300.1h6.04M292.92 300.1h6.04M298.96 300.1h6.04M305 300.1h6.04M311.05 300.1h6.04M317.09 300.1h6.04M323.13 300.1h6.04M329.17 300.1h6.04M335.21 300.1h6.04M341.26 300.1h6.04M347.3 300.1h6.04M353.34 300.1h6.04M359.38 300.1h6.04M365.42 300.1h6.04M377.51 300.1h6.04M383.55 300.1h6.04M389.59 300.1h6.04M395.63 300.1h6.04M401.67 300.1h6.04M407.71 300.1h6.04M413.76 300.1h6.04M419.8 300.1h6.04M425.84 300.1h6.04M431.88 300.1h6.04" stroke="#000" stroke-opacity="0.8" stroke-width="1.4" fill="none"/><path d="M153.96 33.81v6.05M160 33.81v6.05M166.05 33.81v6.05M172.09 33.81v6.05M178.13 33.81v6.05M184.17 33.81v6.05M190.21 33.81v6.05M196.25 33.81v6.05M202.3 33.81v6.05M208.34 33.81v6.05M214.38 33.81v6.05M220.42 33.81v6.05M226.46 33.81v6.05M232.5 33.81v6.05M238.55 33.81v6.05M244.59 33.81v6.05M250.63 33.81v6.05M256.67 33.81v6.05M262.71 33.81v6.05M280.84 33.81v6.05M286.88 33.81v6.05M292.92 33.81v6.05M298.96 33.81v6.05M305 33.81v6.05M311.05 33.81v6.05M317.09 33.81v6.05M323.13 33.81v6.05M329.17 33.81v6.05M347.3 33.81v6.05M353.34 33.81v6.05M359.38 33.81v6.05M365.42 33.81v6.05M371.46 33.81v6.05M377.51 33.81v6.05M383.55 33.81v6.05M389.59 33.81v6.05M395.63 33.81v6.05M401.67 33.81v6.05M407.71 33.81v6.05M413.76 33.81v6.05M431.88 33.81v6.05M153.96 39.86v6.05M244.59 39.86v6.05M274.8 39.86v6.05M292.92 39.86v6.05M298.96 39.86v6.05M305 39.86v6.05M311.05 39.86v6.05M317.09 39.86v6.05M323.13 39.86v6.05M347.3 39.86v6.05M353.34 39.86v6.05M359.38 39.86v6.05M365.42 39.86v6.05M371.46 39.86v6.05M377.51 39.86v6.05M383.55 39.86v6.05M389.59 39.86v6.05M395.63 39.86v6.05M401.67 39.86v6.05M407.71 39.86v6.05M413.76 39.86v6.05M419.8 39.86v6.05M425.84 39.86v6.05M431.88 39.86v6.05M105.63 45.91v6.05M153.96 45.91v6.05M160 45.91v6.05M166.05 45.91v6.05M184.17 45.91v6.05M190.21 45.91v6.05M196.25 45.91v6.05M202.3 45.91v6.05M208.34 45.91v6.05M244.59 45.91v6.05M250.63 45.91v6.05M256.67 45.91v6.05M274.8 45.91v6.05M280.84 45.91v6.05M286.88 45.91v6.05M292.92 45.91v6.05M298.96 45.91v6.05M305 45.91v6.05M311.05 45.91v6.05M317.09 45.91v6.05M323.13 45.91v6.05M341.26 45.91v6.05M347.3 45.91v6.05M353.34 45.91v6.05M359.38 45.91v6.05M365.42 45.91v6.05M371.46 45.91v6.05M377.51 45.91v6.05M383.55 45.91v6.05M389.59 45.91v6.05M395.63 45.91v6.05M401.67 45.91v6.05M407.71 45.91v6.05M413.76 45.91v6.05M419.8 45.91v6.05M425.84 45.91v6.05M431.88 45.91v6.05M172.09 51.97v6.05M196.25 51.97v6.05M202.3 51.97v6.05M208.34 51.97v6.05M214.38 51.97v6.05M232.5 51.97v6.05M250.63 51.97v6.05M274.8 51.97v6.05M280.84 51.97v6.05M286.88 51.97v6.05M292.92 51.97v6.05M298.96 51.97v6.05M305 51.97v6.05M311.05 51.97v6.05M317.09 51.97v6.05M323.13 51.97v6.05M329.17 51.97v6.05M335.21 51.97v6.05M341.26 51.97v6.05M347.3 51.97v6.05M353.34 51.97v6.05M359.38 51.97v6.05M365.42 51.97v6.05M371.46 51.97v6.05M377.51 51.97v6.05M383.55 51.97v6.05M389.59 51.97v6.05M395.63 51.97v6.05M401.67 51.97v6.05M407.71 51.97v6.05M413.76 51.97v6.05M419.8 51.97v6.05M425.84 51.97v6.05M431.88 51.97v6.05M153.96 58.02v6.05M178.13 58.02v6.05M196.25 58.02v6.05M214.38 58.02v6.05M238.55 58.02v6.05M274.8 58.02v6.05M280.84 58.02v6.05M286.88 58.02v6.05M292.92 58.02v6.05M298.96 58.02v6.05M305 58.02v6.05M311.05 58.02v6.05M317.09 58.02v6.05M335.21 58.02v6.05M341.26 58.02v6.05M359.38 58.02v6.05M365.42 58.02v6.05M371.46 58.02v6.05M377.51 58.02v6.05M383.55 58.02v6.05M389.59 58.02v6.05M395.63 58.02v6.05M413.76 58.02v6.05M419.8 58.02v6.05M425.84 58.02v6.05M431.88 58.02v6.05M153.96 64.07v6.05M160 64.07v6.05M166.05 64.07v6.05M190.21 64.07v6.05M196.25 64.07v6.05M274.8 64.07v6.05M280.84 64.07v6.05M286.88 64.07v6.05M292.92 64.07v6.05M311.05 64.07v6.05M317.09 64.07v6.05M353.34 64.07v6.05M359.38 64.07v6.05M377.51 64.07v6.05M383.55 64.07v6.05M389.59 64.07v6.05M395.63 64.07v6.05M413.76 64.07v6.05M419.8 64.07v6.05M425.84 64.07v6.05M431.88 64.07v6.05M292.92 70.12v6.05M311.05 70.12v6.05M317.09 70.12v6.05M365.42 70.12v6.05M371.46 70.12v6.05M377.51 70.12v6.05M383.55 70.12v6.05M389.59 70.12v6.05M395.63 70.12v6.05M401.67 70.12v6.05M419.8 70.12v6.05M425.84 70.12v6.05M431.88 70.12v6.05M274.8 76.17v6.05M292.92 76.17v6.05M298.96 76.17v6.05M305 76.17v6.05M311.05 76.17v6.05M329.17 76.17v6.05M335.21 76.17v6.05M341.26 76.17v6.05M347.3 76.17v6.05M365.42 76.17v6.05M383.55 76.17v6.05M389.59 76.17v6.05M395.63 76.17v6.05M419.8 76.17v6.05M425.84 76.17v6.05M431.88 76.17v6.05M274.8 82.23v6.05M292.92 82.23v6.05M311.05 82.23v6.05M317.09 82.23v6.05M395.63 82.23v6.05M172.09 88.28v6.05M190.21 88.28v6.05M196.25 88.28v6.05M202.3 88.28v6.05M208.34 88.28v6.05M238.55 88.28v6.05M244.59 88.28v6.05M250.63 88.28v6.05M274.8 88.28v6.05M280.84 88.28v6.05M286.88 88.28v6.05M292.92 88.28v6.05M298.96 88.28v6.05M305 88.28v6.05M311.05 88.28v6.05M317.09 88.28v6.05M323.13 88.28v6.05M341.26 88.28v6.05M347.3 88.28v6.05M353.34 88.28v6.05M359.38 88.28v6.05M365.42 88.28v6.05M371.46 88.28v6.05M377.51 88.28v6.05M383.55 88.28v6.05M389.59 88.28v6.05M395.63 88.28v6.05M401.67 88.28v6.05M407.71 88.28v6.05M413.76 88.28v6.05M419.8 88.28v6.05M425.84 88.28v6.05M431.88 88.28v6.05M166.05 94.33v6.05M172.09 94.33v6.05M190.21 94.33v6.05M196.25 94.33v6.05M226.46 94.33v6.05M232.5 94.33v6.05M238.55 94.33v6.05M244.59 94.33v6.05M250.63 94.33v6.05M274.8 94.33v6.05M280.84 94.33v6.05M286.88 94.33v6.05M292.92 94.33v6.05M298.96 94.33v6.05M305 94.33v6.05M311.05 94.33v6.05M317.09 94.33v6.05M323.13 94.33v6.05M329.17 94.33v6.05M335.21 94.33v6.05M341.26 94.33v6.05M347.3 94.33v6.05M353.34 94.33v6.05M359.38 94.33v6.05M377.51 94.33v6.05M383.55 94.33v6.05M389.59 94.33v6.05M395.63 94.33v6.05M401.67 94.33v6.05M407.71 94.33v6.05M413.76 94.33v6.05M419.8 94.33v6.05M425.84 94.33v6.05M431.88 94.33v6.05M153.96 100.38v6.05M160 100.38v6.05M166.05 100.38v6.05M172.09 100.38v6.05M178.13 100.38v6.05M184.17 100.38v6.05M190.21 100.38v6.05M196.25 100.38v6.05M202.3 100.38v6.05M208.34 100.38v6.05M214.38 100.38v6.05M220.42 100.38v6.05M226.46 100.38v6.05M232.5 100.38v6.05M238.55 100.38v6.05M244.59 100.38v6.05M250.63 100.38v6.05M256.67 100.38v6.05M262.71 100.38v6.05M274.8 100.38v6.05M280.84 100.38v6.05M286.88 100.38v6.05M292.92 100.38v6.05M298.96 100.38v6.05M305 100.38v6.05M311.05 100.38v6.05M317.09 100.38v6.05M323.13 100.38v6.05M329.17 100.38v6.05M335.21 100.38v6.05M341.26 100.38v6.05M347.3 100.38v6.05M353.34 100.38v6.05M359.38 100.38v6.05M365.42 100.38v6.05M371.46 100.38v6.05M377.51 100.38v6.05M383.55 100.38v6.05M389.59 100.38v6.05M395.63 100.38v6.05M401.67 100.38v6.05M407.71 100.38v6.05M413.76 100.38v6.05M419.8 100.38v6.05M425.84 100.38v6.05M431.88 100.38v6.05M274.8 106.43v6.05M292.92 106.43v6.05M353.34 106.43v6.05M371.46 106.43v6.05M377.51 106.43v6.05M383.55 106.43v6.05M389.59 106.43v6.05M395.63 106.43v6.05M401.67 106.43v6.05M407.71 106.43v6.05M172.09 112.49v6.05M202.3 112.49v6.05M220.42 112.49v6.05M226.46 112.49v6.05M232.5 112.49v6.05M238.55 112.49v6.05M244.59 112.49v6.05M250.63 112.49v6.05M292.92 112.49v6.05M298.96 112.49v6.05M305 112.49v6.05M311.05 112.49v6.05M317.09 112.49v6.05M323.13 112.49v6.05M329.17 112.49v6.05M335.21 112.49v6.05M341.26 112.49v6.05M347.3 112.49v6.05M353.34 112.49v6.05M359.38 112.49v6.05M365.42 112.49v6.05M371.46 112.49v6.05M377.51 112.49v6.05M383.55 112.49v6.05M389.59 112.49v6.05M395.63 112.49v6.05M401.67 112.49v6.05M407.71 112.49v6.05M413.76 112.49v6.05M431.88 112.49v6.05M274.8 118.54v6.05M280.84 118.54v6.05M286.88 118.54v6.05M292.92 118.54v6.05M298.96 118.54v6.05M305 118.54v6.05M311.05 118.54v6.05M317.09 118.54v6.05M335.21 118.54v6.05M341.26 118.54v6.05M347.3 118.54v6.05M353.34 118.54v6.05M359.38 118.54v6.05M365.42 118.54v6.05M371.46 118.54v6.05M377.51 118.54v6.05M383.55 118.54v6.05M389.59 118.54v6.05M395.63 118.54v6.05M401.67 118.54v6.05M407.71 118.54v6.05M413.76 118.54v6.05M419.8 118.54v6.05M425.84 118.54v6.05M431.88 118.54v6.05M8.96 124.59v6.05M15 124.59v6.05M51.25 124.59v6.05M87.5 124.59v6.05M105.63 124.59v6.05M135.84 124.59v6.05M141.88 124.59v6.05M280.84 124.59v6.05M401.67 124.59v6.05M407.71 124.59v6.05M347.3 130.64v6.05M365.42 130.64v6.05M425.84 130.64v6.05M431.88 130.64v6.05M8.96 136.69v6.05M15 136.69v6.05M21.05 136.69v6.05M39.17 136.69v6.05M57.3 136.69v6.05M63.34 136.69v6.05M69.38 136.69v6.05M75.42 136.69v6.05M81.46 136.69v6.05M87.5 136.69v6.05M111.67 136.69v6.05M141.88 136.69v6.05M274.8 136.69v6.05M305 136.69v6.05M311.05 136.69v6.05M317.09 136.69v6.05M323.13 136.69v6.05M341.26 136.69v6.05M359.38 136.69v6.05M365.42 136.69v6.05M371.46 136.69v6.05M377.51 136.69v6.05M383.55 136.69v6.05M389.59 136.69v6.05M407.71 136.69v6.05M413.76 136.69v6.05M419.8 136.69v6.05M425.84 136.69v6.05M431.88 136.69v6.05M274.8 142.75v6.05M292.92 142.75v6.05M298.96 142.75v6.05M347.3 142.75v6.05M353.34 142.75v6.05M359.38 142.75v6.05M365.42 142.75v6.05M371.46 142.75v6.05M377.51 142.75v6.05M383.55 142.75v6.05M401.67 142.75v6.05M407.71 142.75v6.05M15 148.8v6.05M57.3 148.8v6.05M81.46 148.8v6.05M87.5 148.8v6.05M93.55 148.8v6.05M99.59 148.8v6.05M105.63 148.8v6.05M123.75 148.8v6.05M129.8 148.8v6.05M135.84 148.8v6.05M141.88 148.8v6.05M305 148.8v6.05M311.05 148.8v6.05M317.09 148.8v6.05M371.46 148.8v6.05M401.67 148.8v6.05M407.71 148.8v6.05M413.76 148.8v6.05M419.8 148.8v6.05M8.96 154.85v6.05M15 154.85v6.05M51.25 154.85v6.05M87.5 154.85v6.05M105.63 154.85v6.05M135.84 154.85v6.05M141.88 154.85v6.05M280.84 154.85v6.05M395.63 154.85v6.05M401.67 154.85v6.05M407.71 154.85v6.05M425.84 154.85v6.05M431.88 154.85v6.05M274.8 160.9v6.05M280.84 160.9v6.05M286.88 160.9v6.05M292.92 160.9v6.05M311.05 160.9v6.05M317.09 160.9v6.05M389.59 160.9v6.05M395.63 160.9v6.05M413.76 160.9v6.05M419.8 160.9v6.05M425.84 160.9v6.05M431.88 160.9v6.05M8.96 166.95v6.05M15 166.95v6.05M21.05 166.95v6.05M27.09 166.95v6.05M33.13 166.95v6.05M39.17 166.95v6.05M45.21 166.95v6.05M51.25 166.95v6.05M57.3 166.95v6.05M63.34 166.95v6.05M69.38 166.95v6.05M75.42 166.95v6.05M81.46 166.95v6.05M87.5 166.95v6.05M93.55 166.95v6.05M99.59 166.95v6.05M117.71 166.95v6.05M123.75 166.95v6.05M129.8 166.95v6.05M135.84 166.95v6.05M141.88 166.95v6.05M8.96 173.01v6.05M15 173.01v6.05M21.05 173.01v6.05M27.09 173.01v6.05M33.13 173.01v6.05M39.17 173.01v6.05M45.21 173.01v6.05M51.25 173.01v6.05M57.3 173.01v6.05M63.34 173.01v6.05M69.38 173.01v6.05M75.42 173.01v6.05M81.46 173.01v6.05M87.5 173.01v6.05M93.55 173.01v6.05M99.59 173.01v6.05M105.63 173.01v6.05M111.67 173.01v6.05M117.71 173.01v6.05M123.75 173.01v6.05M129.8 173.01v6.05M135.84 173.01v6.05M141.88 173.01v6.05M280.84 173.01v6.05M286.88 173.01v6.05M292.92 173.01v6.05M298.96 173.01v6.05M323.13 173.01v6.05M329.17 173.01v6.05M335.21 173.01v6.05M341.26 173.01v6.05M389.59 173.01v6.05M413.76 173.01v6.05M419.8 173.01v6.05M274.8 179.06v6.05M305 179.06v6.05M347.3 179.06v6.05M353.34 179.06v6.05M105.63 185.11v6.05M347.3 185.11v6.05M371.46 185.11v6.05M407.71 185.11v6.05M413.76 185.11v6.05M419.8 185.11v6.05M425.84 185.11v6.05M431.88 185.11v6.05M292.92 191.16v6.05M353.34 191.16v6.05M401.67 191.16v6.05M274.8 197.21v6.05M292.92 197.21v6.05M353.34 197.21v6.05M371.46 197.21v6.05M413.76 197.21v6.05M419.8 197.21v6.05M425.84 197.21v6.05M431.88 197.21v6.05M317.09 203.27v6.05M323.13 203.27v6.05M329.17 203.27v6.05M335.21 203.27v6.05M341.26 203.27v6.05M359.38 203.27v6.05M407.71 203.27v6.05M425.84 203.27v6.05M141.88 209.32v6.05M39.17 215.37v6.05M45.21 215.37v6.05M51.25 215.37v6.05M57.3 215.37v6.05M75.42 215.37v6.05M196.25 215.37v6.05M8.96 221.42v6.05M15 221.42v6.05M21.05 221.42v6.05M69.38 221.42v6.05M87.5 221.42v6.05M93.55 221.42v6.05M129.8 221.42v6.05M178.13 221.42v6.05M196.25 221.42v6.05M51.25 227.47v6.05M75.42 227.47v6.05M21.05 233.53v6.05M69.38 233.53v6.05M75.42 233.53v6.05M135.84 233.53v6.05M141.88 233.53v6.05M8.96 239.58v6.05M15 239.58v6.05M21.05 239.58v6.05M27.09 239.58v6.05M33.13 239.58v6.05M39.17 239.58v6.05M45.21 239.58v6.05M51.25 239.58v6.05M57.3 239.58v6.05M63.34 239.58v6.05M69.38 239.58v6.05M75.42 239.58v6.05M81.46 239.58v6.05M87.5 239.58v6.05M93.55 239.58v6.05M99.59 239.58v6.05M105.63 239.58v6.05M111.67 239.58v6.05M117.71 239.58v6.05M123.75 239.58v6.05M129.8 239.58v6.05M135.84 239.58v6.05M141.88 239.58v6.05M166.05 239.58v6.05M184.17 239.58v6.05M190.21 239.58v6.05M196.25 239.58v6.05M232.5 239.58v6.05M238.55 239.58v6.05M256.67 239.58v6.05M39.17 245.63v6.05M45.21 245.63v6.05M172.09 245.63v6.05M21.05 251.68v6.05M39.17 251.68v6.05M45.21 251.68v6.05M51.25 251.68v6.05M57.3 251.68v6.05M63.34 251.68v6.05M69.38 251.68v6.05M75.42 251.68v6.05M81.46 251.68v6.05M87.5 251.68v6.05M93.55 251.68v6.05M111.67 251.68v6.05M135.84 251.68v6.05M141.88 251.68v6.05M190.21 251.68v6.05M196.25 251.68v6.05M202.3 251.68v6.05M208.34 251.68v6.05M214.38 251.68v6.05M256.67 251.68v6.05M262.71 251.68v6.05M153.96 257.73v6.05M178.13 257.73v6.05M184.17 257.73v6.05M51.25 263.79v6.05M21.05 269.84v6.05M153.96 269.84v6.05M184.17 269.84v6.05M8.96 275.89v6.05M15 275.89v6.05M21.05 275.89v6.05M39.17 275.89v6.05M87.5 275.89v6.05M93.55 275.89v6.05M99.59 275.89v6.05M105.63 275.89v6.05M111.67 275.89v6.05M135.84 275.89v6.05M141.88 275.89v6.05M153.96 275.89v6.05M160 275.89v6.05M166.05 275.89v6.05M172.09 275.89v6.05M178.13 275.89v6.05M196.25 275.89v6.05M214.38 275.89v6.05M220.42 275.89v6.05M226.46 275.89v6.05M232.5 275.89v6.05M238.55 275.89v6.05M244.59 275.89v6.05M250.63 275.89v6.05M21.05 281.94v6.05M21.05 287.99v6.05M51.25 287.99v6.05M69.38 287.99v6.05M93.55 287.99v6.05M99.59 287.99v6.05M105.63 287.99v6.05M111.67 287.99v6.05M129.8 287.99v6.05M153.96 287.99v6.05M160 287.99v6.05M166.05 287.99v6.05M172.09 287.99v6.05M190.21 287.99v6.05M196.25 287.99v6.05M214.38 287.99v6.05M178.13 294.05v6.05M8.96 300.1v6.05M27.09 300.1v6.05M45.21 300.1v6.05M63.34 300.1v6.05M87.5 300.1v6.05M93.55 300.1v6.05M135.84 300.1v6.05M141.88 300.1v6.05M153.96 300.1v6.05M178.13 300.1v6.05M202.3 300.1v6.05M208.34 300.1v6.05M147.92 39.86h6.04M153.96 39.86h6.04M196.25 39.86h6.04M208.34 39.86h6.04M238.55 39.86h6.04M244.59 39.86h6.04M274.8 39.86h6.04M286.88 39.86h6.04M292.92 39.86h6.04M298.96 39.86h6.04M305 39.86h6.04M311.05 39.86h6.04M317.09 39.86h6.04M323.13 39.86h6.04M341.26 39.86h6.04M347.3 39.86h6.04M353.34 39.86h6.04M359.38 39.86h6.04M365.42 39.86h6.04M371.46 39.86h6.04M377.51 39.86h6.04M383.55 39.86h6.04M389.59 39.86h6.04M395.63 39.86h6.04M401.67 39.86h6.04M407.71 39.86h6.04M413.76 39.86h6.04M425.84 39.86h6.04M431.88 39.86h6.04M147.92 45.91h6.04M153.96 45.91h6.04M196.25 45.91h6.04M208.34 45.91h6.04M238.55 45.91h6.04M244.59 45.91h6.04M268.75 45.91h6.04M274.8 45.91h6.04M286.88 45.91h6.04M292.92 45.91h6.04M298.96 45.91h6.04M305 45.91h6.04M311.05 45.91h6.04M317.09 45.91h6.04M323.13 45.91h6.04M341.26 45.91h6.04M347.3 45.91h6.04M353.34 45.91h6.04M359.38 45.91h6.04M365.42 45.91h6.04M371.46 45.91h6.04M377.51 45.91h6.04M383.55 45.91h6.04M389.59 45.91h6.04M395.63 45.91h6.04M401.67 45.91h6.04M407.71 45.91h6.04M413.76 45.91h6.04M419.8 45.91h6.04M425.84 45.91h6.04M431.88 45.91h6.04M153.96 51.97h6.04M166.05 51.97h6.04M190.21 51.97h6.04M196.25 51.97h6.04M202.3 51.97h6.04M208.34 51.97h6.04M244.59 51.97h6.04M250.63 51.97h6.04M268.75 51.97h6.04M274.8 51.97h6.04M280.84 51.97h6.04M286.88 51.97h6.04M292.92 51.97h6.04M298.96 51.97h6.04M305 51.97h6.04M311.05 51.97h6.04M317.09 51.97h6.04M323.13 51.97h6.04M335.21 51.97h6.04M341.26 51.97h6.04M347.3 51.97h6.04M353.34 51.97h6.04M359.38 51.97h6.04M365.42 51.97h6.04M371.46 51.97h6.04M377.51 51.97h6.04M383.55 51.97h6.04M389.59 51.97h6.04M395.63 51.97h6.04M401.67 51.97h6.04M407.71 51.97h6.04M413.76 51.97h6.04M419.8 51.97h6.04M425.84 51.97h6.04M431.88 51.97h6.04M153.96 58.02h6.04M172.09 58.02h6.04M190.21 58.02h6.04M196.25 58.02h6.04M208.34 58.02h6.04M214.38 58.02h6.04M232.5 58.02h6.04M268.75 58.02h6.04M274.8 58.02h6.04M280.84 58.02h6.04M286.88 58.02h6.04M292.92 58.02h6.04M298.96 58.02h6.04M305 58.02h6.04M311.05 58.02h6.04M317.09 58.02h6.04M329.17 58.02h6.04M335.21 58.02h6.04M341.26 58.02h6.04M353.34 58.02h6.04M359.38 58.02h6.04M365.42 58.02h6.04M371.46 58.02h6.04M377.51 58.02h6.04M383.55 58.02h6.04M389.59 58.02h6.04M395.63 58.02h6.04M407.71 58.02h6.04M413.76 58.02h6.04M419.8 58.02h6.04M425.84 58.02h6.04M431.88 58.02h6.04M147.92 64.07h6.04M153.96 64.07h6.04M190.21 64.07h6.04M196.25 64.07h6.04M208.34 64.07h6.04M262.71 64.07h6.04M268.75 64.07h6.04M274.8 64.07h6.04M280.84 64.07h6.04M286.88 64.07h6.04M292.92 64.07h6.04M305 64.07h6.04M311.05 64.07h6.04M317.09 64.07h6.04M335.21 64.07h6.04M353.34 64.07h6.04M359.38 64.07h6.04M371.46 64.07h6.04M377.51 64.07h6.04M383.55 64.07h6.04M389.59 64.07h6.04M395.63 64.07h6.04M407.71 64.07h6.04M413.76 64.07h6.04M419.8 64.07h6.04M425.84 64.07h6.04M431.88 64.07h6.04M153.96 70.12h6.04M196.25 70.12h6.04M208.34 70.12h6.04M274.8 70.12h6.04M286.88 70.12h6.04M292.92 70.12h6.04M305 70.12h6.04M311.05 70.12h6.04M317.09 70.12h6.04M335.21 70.12h6.04M347.3 70.12h6.04M359.38 70.12h6.04M371.46 70.12h6.04M377.51 70.12h6.04M383.55 70.12h6.04M389.59 70.12h6.04M395.63 70.12h6.04M413.76 70.12h6.04M419.8 70.12h6.04M425.84 70.12h6.04M431.88 70.12h6.04M153.96 76.17h6.04M196.25 76.17h6.04M208.34 76.17h6.04M274.8 76.17h6.04M286.88 76.17h6.04M292.92 76.17h6.04M305 76.17h6.04M311.05 76.17h6.04M335.21 76.17h6.04M347.3 76.17h6.04M359.38 76.17h6.04M365.42 76.17h6.04M377.51 76.17h6.04M383.55 76.17h6.04M389.59 76.17h6.04M395.63 76.17h6.04M413.76 76.17h6.04M419.8 76.17h6.04M425.84 76.17h6.04M431.88 76.17h6.04M153.96 82.23h6.04M196.25 82.23h6.04M208.34 82.23h6.04M268.75 82.23h6.04M274.8 82.23h6.04M286.88 82.23h6.04M292.92 82.23h6.04M305 82.23h6.04M311.05 82.23h6.04M335.21 82.23h6.04M389.59 82.23h6.04M395.63 82.23h6.04M153.96 88.28h6.04M172.09 88.28h6.04M196.25 88.28h6.04M208.34 88.28h6.04M268.75 88.28h6.04M274.8 88.28h6.04M286.88 88.28h6.04M292.92 88.28h6.04M305 88.28h6.04M311.05 88.28h6.04M317.09 88.28h6.04M335.21 88.28h6.04M353.34 88.28h6.04M371.46 88.28h6.04M389.59 88.28h6.04M395.63 88.28h6.04M407.71 88.28h6.04M166.05 94.33h6.04M172.09 94.33h6.04M184.17 94.33h6.04M190.21 94.33h6.04M196.25 94.33h6.04M208.34 94.33h6.04M232.5 94.33h6.04M238.55 94.33h6.04M244.59 94.33h6.04M250.63 94.33h6.04M268.75 94.33h6.04M274.8 94.33h6.04M280.84 94.33h6.04M286.88 94.33h6.04M292.92 94.33h6.04M298.96 94.33h6.04M305 94.33h6.04M311.05 94.33h6.04M317.09 94.33h6.04M323.13 94.33h6.04M335.21 94.33h6.04M341.26 94.33h6.04M347.3 94.33h6.04M353.34 94.33h6.04M359.38 94.33h6.04M371.46 94.33h6.04M377.51 94.33h6.04M383.55 94.33h6.04M389.59 94.33h6.04M395.63 94.33h6.04M401.67 94.33h6.04M407.71 94.33h6.04M413.76 94.33h6.04M419.8 94.33h6.04M425.84 94.33h6.04M431.88 94.33h6.04M147.92 100.38h6.04M160 100.38h6.04M166.05 100.38h6.04M172.09 100.38h6.04M184.17 100.38h6.04M190.21 100.38h6.04M196.25 100.38h6.04M208.34 100.38h6.04M220.42 100.38h6.04M226.46 100.38h6.04M232.5 100.38h6.04M238.55 100.38h6.04M244.59 100.38h6.04M250.63 100.38h6.04M262.71 100.38h6.04M268.75 100.38h6.04M274.8 100.38h6.04M280.84 100.38h6.04M286.88 100.38h6.04M292.92 100.38h6.04M298.96 100.38h6.04M305 100.38h6.04M311.05 100.38h6.04M317.09 100.38h6.04M323.13 100.38h6.04M329.17 100.38h6.04M335.21 100.38h6.04M341.26 100.38h6.04M347.3 100.38h6.04M353.34 100.38h6.04M359.38 100.38h6.04M371.46 100.38h6.04M377.51 100.38h6.04M383.55 100.38h6.04M389.59 100.38h6.04M395.63 100.38h6.04M401.67 100.38h6.04M407.71 100.38h6.04M413.76 100.38h6.04M419.8 100.38h6.04M425.84 100.38h6.04M431.88 100.38h6.04M208.34 106.43h6.04M268.75 106.43h6.04M274.8 106.43h6.04M286.88 106.43h6.04M292.92 106.43h6.04M317.09 106.43h6.04M347.3 106.43h6.04M353.34 106.43h6.04M365.42 106.43h6.04M371.46 106.43h6.04M377.51 106.43h6.04M383.55 106.43h6.04M389.59 106.43h6.04M395.63 106.43h6.04M401.67 106.43h6.04M407.71 106.43h6.04M419.8 106.43h6.04M268.75 112.49h6.04M286.88 112.49h6.04M292.92 112.49h6.04M317.09 112.49h6.04M347.3 112.49h6.04M353.34 112.49h6.04M365.42 112.49h6.04M371.46 112.49h6.04M377.51 112.49h6.04M383.55 112.49h6.04M389.59 112.49h6.04M395.63 112.49h6.04M401.67 112.49h6.04M407.71 112.49h6.04M172.09 118.54h6.04M232.5 118.54h6.04M244.59 118.54h6.04M268.75 118.54h6.04M286.88 118.54h6.04M292.92 118.54h6.04M298.96 118.54h6.04M305 118.54h6.04M311.05 118.54h6.04M317.09 118.54h6.04M329.17 118.54h6.04M335.21 118.54h6.04M341.26 118.54h6.04M347.3 118.54h6.04M353.34 118.54h6.04M359.38 118.54h6.04M365.42 118.54h6.04M371.46 118.54h6.04M377.51 118.54h6.04M383.55 118.54h6.04M389.59 118.54h6.04M395.63 118.54h6.04M401.67 118.54h6.04M407.71 118.54h6.04M413.76 118.54h6.04M425.84 118.54h6.04M431.88 118.54h6.04M15 130.64h6.04M99.59 130.64h6.04M141.88 130.64h6.04M365.42 130.64h6.04M407.71 130.64h6.04M419.8 130.64h6.04M431.88 130.64h6.04M15 136.69h6.04M141.88 136.69h6.04M298.96 136.69h6.04M341.26 136.69h6.04M359.38 136.69h6.04M365.42 136.69h6.04M407.71 136.69h6.04M419.8 136.69h6.04M425.84 136.69h6.04M431.88 136.69h6.04M15 142.75h6.04M141.88 142.75h6.04M268.75 142.75h6.04M274.8 142.75h6.04M286.88 142.75h6.04M298.96 142.75h6.04M341.26 142.75h6.04M353.34 142.75h6.04M359.38 142.75h6.04M365.42 142.75h6.04M371.46 142.75h6.04M377.51 142.75h6.04M383.55 142.75h6.04M401.67 142.75h6.04M407.71 142.75h6.04M419.8 142.75h6.04M431.88 142.75h6.04M15 148.8h6.04M99.59 148.8h6.04M141.88 148.8h6.04M268.75 148.8h6.04M286.88 148.8h6.04M298.96 148.8h6.04M347.3 148.8h6.04M365.42 148.8h6.04M371.46 148.8h6.04M383.55 148.8h6.04M395.63 148.8h6.04M401.67 148.8h6.04M407.71 148.8h6.04M419.8 148.8h6.04M8.96 154.85h6.04M15 154.85h6.04M33.13 154.85h6.04M51.25 154.85h6.04M81.46 154.85h6.04M87.5 154.85h6.04M99.59 154.85h6.04M105.63 154.85h6.04M117.71 154.85h6.04M129.8 154.85h6.04M135.84 154.85h6.04M141.88 154.85h6.04M335.21 154.85h6.04M365.42 154.85h6.04M395.63 154.85h6.04M401.67 154.85h6.04M407.71 154.85h6.04M419.8 154.85h6.04M51.25 160.9h6.04M105.63 160.9h6.04M129.8 160.9h6.04M141.88 160.9h6.04M274.8 160.9h6.04M280.84 160.9h6.04M389.59 160.9h6.04M395.63 160.9h6.04M407.71 160.9h6.04M419.8 160.9h6.04M425.84 160.9h6.04M431.88 160.9h6.04M51.25 166.95h6.04M129.8 166.95h6.04M141.88 166.95h6.04M292.92 166.95h6.04M329.17 166.95h6.04M407.71 166.95h6.04M2.92 173.01h6.04M8.96 173.01h6.04M15 173.01h6.04M21.05 173.01h6.04M27.09 173.01h6.04M33.13 173.01h6.04M39.17 173.01h6.04M45.21 173.01h6.04M51.25 173.01h6.04M57.3 173.01h6.04M63.34 173.01h6.04M69.38 173.01h6.04M75.42 173.01h6.04M81.46 173.01h6.04M87.5 173.01h6.04M93.55 173.01h6.04M99.59 173.01h6.04M111.67 173.01h6.04M117.71 173.01h6.04M123.75 173.01h6.04M129.8 173.01h6.04M135.84 173.01h6.04M141.88 173.01h6.04M292.92 173.01h6.04M329.17 173.01h6.04M341.26 173.01h6.04M407.71 173.01h6.04M274.8 179.06h6.04M298.96 179.06h6.04M341.26 179.06h6.04M353.34 179.06h6.04M407.71 179.06h6.04M431.88 179.06h6.04M274.8 185.11h6.04M298.96 185.11h6.04M341.26 185.11h6.04M347.3 185.11h6.04M407.71 185.11h6.04M431.88 185.11h6.04M15 191.16h6.04M141.88 191.16h6.04M347.3 191.16h6.04M365.42 191.16h6.04M401.67 191.16h6.04M419.8 191.16h6.04M431.88 191.16h6.04M268.75 197.21h6.04M286.88 197.21h6.04M292.92 197.21h6.04M347.3 197.21h6.04M353.34 197.21h6.04M365.42 197.21h6.04M383.55 197.21h6.04M395.63 197.21h6.04M419.8 197.21h6.04M431.88 197.21h6.04M268.75 203.27h6.04M286.88 203.27h6.04M335.21 203.27h6.04M353.34 203.27h6.04M407.71 203.27h6.04M419.8 203.27h6.04M425.84 203.27h6.04M141.88 209.32h6.04M286.88 209.32h6.04M21.05 221.42h6.04M33.13 221.42h6.04M51.25 221.42h6.04M69.38 221.42h6.04M87.5 221.42h6.04M105.63 221.42h6.04M129.8 221.42h6.04M172.09 221.42h6.04M190.21 221.42h6.04M196.25 221.42h6.04M208.34 221.42h6.04M226.46 221.42h6.04M51.25 227.47h6.04M69.38 227.47h6.04M105.63 227.47h6.04M129.8 227.47h6.04M196.25 227.47h6.04M226.46 227.47h6.04M69.38 233.53h6.04M75.42 233.53h6.04M105.63 233.53h6.04M129.8 233.53h6.04M2.92 239.58h6.04M15 239.58h6.04M21.05 239.58h6.04M63.34 239.58h6.04M69.38 239.58h6.04M75.42 239.58h6.04M105.63 239.58h6.04M129.8 239.58h6.04M135.84 239.58h6.04M141.88 239.58h6.04M208.34 239.58h6.04M21.05 245.63h6.04M33.13 245.63h6.04M39.17 245.63h6.04M45.21 245.63h6.04M93.55 245.63h6.04M105.63 245.63h6.04M166.05 245.63h6.04M196.25 245.63h6.04M250.63 245.63h6.04M21.05 251.68h6.04M33.13 251.68h6.04M39.17 251.68h6.04M45.21 251.68h6.04M93.55 251.68h6.04M105.63 251.68h6.04M172.09 251.68h6.04M196.25 251.68h6.04M250.63 251.68h6.04M262.71 251.68h6.04M311.05 251.68h6.04M15 257.73h6.04M57.3 257.73h6.04M129.8 257.73h6.04M172.09 257.73h6.04M184.17 257.73h6.04M147.92 263.79h6.04M21.05 269.84h6.04M141.88 269.84h6.04M147.92 269.84h6.04M2.92 275.89h6.04M15 275.89h6.04M21.05 275.89h6.04M111.67 275.89h6.04M141.88 275.89h6.04M147.92 275.89h6.04M153.96 275.89h6.04M178.13 275.89h6.04M208.34 275.89h6.04M15 281.94h6.04M21.05 281.94h6.04M51.25 281.94h6.04M93.55 281.94h6.04M105.63 281.94h6.04M141.88 281.94h6.04M147.92 281.94h6.04M172.09 281.94h6.04M196.25 281.94h6.04M15 287.99h6.04M21.05 287.99h6.04M51.25 287.99h6.04M69.38 287.99h6.04M93.55 287.99h6.04M105.63 287.99h6.04M147.92 287.99h6.04M172.09 287.99h6.04M196.25 287.99h6.04M15 294.05h6.04M63.34 294.05h6.04M105.63 294.05h6.04M172.09 294.05h6.04M63.34 300.1h6.04M141.88 300.1h6.04M172.09 300.1h6.04M178.13 300.1h6.04" stroke="#000" stroke-opacity="0.15" stroke-width="1.4" fill="none"/><path d="M274.8 33.81v6.05M335.21 33.81v6.05M341.26 33.81v6.05M419.8 33.81v6.05M425.84 33.81v6.05M160 39.86v6.05M196.25 39.86v6.05M202.3 39.86v6.05M208.34 39.86v6.05M214.38 39.86v6.05M238.55 39.86v6.05M250.63 39.86v6.05M280.84 39.86v6.05M286.88 39.86v6.05M329.17 39.86v6.05M341.26 39.86v6.05M99.59 45.91v6.05M111.67 45.91v6.05M172.09 45.91v6.05M178.13 45.91v6.05M214.38 45.91v6.05M238.55 45.91v6.05M262.71 45.91v6.05M329.17 45.91v6.05M335.21 45.91v6.05M153.96 51.97v6.05M160 51.97v6.05M166.05 51.97v6.05M178.13 51.97v6.05M190.21 51.97v6.05M220.42 51.97v6.05M226.46 51.97v6.05M238.55 51.97v6.05M244.59 51.97v6.05M256.67 51.97v6.05M160 58.02v6.05M172.09 58.02v6.05M184.17 58.02v6.05M190.21 58.02v6.05M202.3 58.02v6.05M208.34 58.02v6.05M220.42 58.02v6.05M232.5 58.02v6.05M244.59 58.02v6.05M262.71 58.02v6.05M323.13 58.02v6.05M329.17 58.02v6.05M347.3 58.02v6.05M353.34 58.02v6.05M401.67 58.02v6.05M407.71 58.02v6.05M172.09 64.07v6.05M184.17 64.07v6.05M202.3 64.07v6.05M208.34 64.07v6.05M214.38 64.07v6.05M262.71 64.07v6.05M298.96 64.07v6.05M305 64.07v6.05M323.13 64.07v6.05M335.21 64.07v6.05M341.26 64.07v6.05M347.3 64.07v6.05M365.42 64.07v6.05M371.46 64.07v6.05M401.67 64.07v6.05M407.71 64.07v6.05M153.96 70.12v6.05M160 70.12v6.05M172.09 70.12v6.05M178.13 70.12v6.05M196.25 70.12v6.05M202.3 70.12v6.05M208.34 70.12v6.05M214.38 70.12v6.05M274.8 70.12v6.05M280.84 70.12v6.05M286.88 70.12v6.05M298.96 70.12v6.05M305 70.12v6.05M323.13 70.12v6.05M335.21 70.12v6.05M341.26 70.12v6.05M347.3 70.12v6.05M353.34 70.12v6.05M359.38 70.12v6.05M407.71 70.12v6.05M413.76 70.12v6.05M153.96 76.17v6.05M160 76.17v6.05M196.25 76.17v6.05M202.3 76.17v6.05M208.34 76.17v6.05M214.38 76.17v6.05M244.59 76.17v6.05M250.63 76.17v6.05M280.84 76.17v6.05M286.88 76.17v6.05M317.09 76.17v6.05M323.13 76.17v6.05M353.34 76.17v6.05M359.38 76.17v6.05M371.46 76.17v6.05M377.51 76.17v6.05M401.67 76.17v6.05M413.76 76.17v6.05M153.96 82.23v6.05M160 82.23v6.05M172.09 82.23v6.05M178.13 82.23v6.05M196.25 82.23v6.05M202.3 82.23v6.05M208.34 82.23v6.05M214.38 82.23v6.05M280.84 82.23v6.05M286.88 82.23v6.05M298.96 82.23v6.05M305 82.23v6.05M323.13 82.23v6.05M335.21 82.23v6.05M341.26 82.23v6.05M353.34 82.23v6.05M359.38 82.23v6.05M371.46 82.23v6.05M377.51 82.23v6.05M389.59 82.23v6.05M401.67 82.23v6.05M407.71 82.23v6.05M413.76 82.23v6.05M153.96 88.28v6.05M160 88.28v6.05M166.05 88.28v6.05M178.13 88.28v6.05M184.17 88.28v6.05M214.38 88.28v6.05M232.5 88.28v6.05M256.67 88.28v6.05M329.17 88.28v6.05M335.21 88.28v6.05M153.96 94.33v6.05M160 94.33v6.05M178.13 94.33v6.05M184.17 94.33v6.05M202.3 94.33v6.05M208.34 94.33v6.05M214.38 94.33v6.05M220.42 94.33v6.05M256.67 94.33v6.05M262.71 94.33v6.05M365.42 94.33v6.05M371.46 94.33v6.05M27.09 100.38v6.05M33.13 100.38v6.05M99.59 100.38v6.05M105.63 100.38v6.05M117.71 100.38v6.05M123.75 100.38v6.05M208.34 106.43v6.05M214.38 106.43v6.05M280.84 106.43v6.05M286.88 106.43v6.05M298.96 106.43v6.05M317.09 106.43v6.05M323.13 106.43v6.05M347.3 106.43v6.05M359.38 106.43v6.05M365.42 106.43v6.05M413.76 106.43v6.05M419.8 106.43v6.05M425.84 106.43v6.05M15 112.49v6.05M21.05 112.49v6.05M99.59 112.49v6.05M105.63 112.49v6.05M153.96 112.49v6.05M160 112.49v6.05M166.05 112.49v6.05M178.13 112.49v6.05M196.25 112.49v6.05M208.34 112.49v6.05M214.38 112.49v6.05M256.67 112.49v6.05M262.71 112.49v6.05M274.8 112.49v6.05M286.88 112.49v6.05M419.8 112.49v6.05M425.84 112.49v6.05M172.09 118.54v6.05M178.13 118.54v6.05M208.34 118.54v6.05M214.38 118.54v6.05M232.5 118.54v6.05M238.55 118.54v6.05M244.59 118.54v6.05M250.63 118.54v6.05M323.13 118.54v6.05M329.17 118.54v6.05M21.05 124.59v6.05M33.13 124.59v6.05M39.17 124.59v6.05M45.21 124.59v6.05M57.3 124.59v6.05M81.46 124.59v6.05M93.55 124.59v6.05M99.59 124.59v6.05M111.67 124.59v6.05M117.71 124.59v6.05M123.75 124.59v6.05M129.8 124.59v6.05M274.8 124.59v6.05M286.88 124.59v6.05M292.92 124.59v6.05M298.96 124.59v6.05M335.21 124.59v6.05M341.26 124.59v6.05M365.42 124.59v6.05M371.46 124.59v6.05M395.63 124.59v6.05M413.76 124.59v6.05M419.8 124.59v6.05M425.84 124.59v6.05M431.88 124.59v6.05M15 130.64v6.05M21.05 130.64v6.05M99.59 130.64v6.05M105.63 130.64v6.05M141.88 130.64v6.05M298.96 130.64v6.05M305 130.64v6.05M341.26 130.64v6.05M353.34 130.64v6.05M359.38 130.64v6.05M371.46 130.64v6.05M407.71 130.64v6.05M413.76 130.64v6.05M419.8 130.64v6.05M27.09 136.69v6.05M33.13 136.69v6.05M45.21 136.69v6.05M51.25 136.69v6.05M93.55 136.69v6.05M105.63 136.69v6.05M117.71 136.69v6.05M123.75 136.69v6.05M129.8 136.69v6.05M135.84 136.69v6.05M244.59 136.69v6.05M250.63 136.69v6.05M280.84 136.69v6.05M286.88 136.69v6.05M292.92 136.69v6.05M298.96 136.69v6.05M329.17 136.69v6.05M335.21 136.69v6.05M347.3 136.69v6.05M353.34 136.69v6.05M395.63 136.69v6.05M401.67 136.69v6.05M15 142.75v6.05M21.05 142.75v6.05M99.59 142.75v6.05M105.63 142.75v6.05M141.88 142.75v6.05M280.84 142.75v6.05M286.88 142.75v6.05M305 142.75v6.05M341.26 142.75v6.05M389.59 142.75v6.05M395.63 142.75v6.05M413.76 142.75v6.05M419.8 142.75v6.05M425.84 142.75v6.05M431.88 142.75v6.05M8.96 148.8v6.05M21.05 148.8v6.05M33.13 148.8v6.05M39.17 148.8v6.05M51.25 148.8v6.05M63.34 148.8v6.05M75.42 148.8v6.05M111.67 148.8v6.05M117.71 148.8v6.05M232.5 148.8v6.05M238.55 148.8v6.05M244.59 148.8v6.05M250.63 148.8v6.05M274.8 148.8v6.05M286.88 148.8v6.05M292.92 148.8v6.05M298.96 148.8v6.05M323.13 148.8v6.05M335.21 148.8v6.05M341.26 148.8v6.05M347.3 148.8v6.05M353.34 148.8v6.05M365.42 148.8v6.05M377.51 148.8v6.05M383.55 148.8v6.05M389.59 148.8v6.05M395.63 148.8v6.05M425.84 148.8v6.05M21.05 154.85v6.05M33.13 154.85v6.05M39.17 154.85v6.05M45.21 154.85v6.05M57.3 154.85v6.05M81.46 154.85v6.05M93.55 154.85v6.05M99.59 154.85v6.05M111.67 154.85v6.05M117.71 154.85v6.05M123.75 154.85v6.05M129.8 154.85v6.05M166.05 154.85v6.05M172.09 154.85v6.05M274.8 154.85v6.05M286.88 154.85v6.05M335.21 154.85v6.05M341.26 154.85v6.05M365.42 154.85v6.05M371.46 154.85v6.05M389.59 154.85v6.05M413.76 154.85v6.05M419.8 154.85v6.05M51.25 160.9v6.05M57.3 160.9v6.05M105.63 160.9v6.05M111.67 160.9v6.05M129.8 160.9v6.05M135.84 160.9v6.05M141.88 160.9v6.05M298.96 160.9v6.05M305 160.9v6.05M323.13 160.9v6.05M329.17 160.9v6.05M335.21 160.9v6.05M347.3 160.9v6.05M353.34 160.9v6.05M383.55 160.9v6.05M401.67 160.9v6.05M407.71 160.9v6.05M105.63 166.95v6.05M111.67 166.95v6.05M226.46 166.95v6.05M232.5 166.95v6.05M292.92 166.95v6.05M298.96 166.95v6.05M329.17 166.95v6.05M335.21 166.95v6.05M341.26 166.95v6.05M347.3 166.95v6.05M407.71 166.95v6.05M413.76 166.95v6.05M153.96 173.01v6.05M160 173.01v6.05M274.8 173.01v6.05M305 173.01v6.05M317.09 173.01v6.05M347.3 173.01v6.05M353.34 173.01v6.05M359.38 173.01v6.05M383.55 173.01v6.05M395.63 173.01v6.05M407.71 173.01v6.05M425.84 173.01v6.05M431.88 173.01v6.05M280.84 179.06v6.05M298.96 179.06v6.05M311.05 179.06v6.05M341.26 179.06v6.05M359.38 179.06v6.05M395.63 179.06v6.05M401.67 179.06v6.05M407.71 179.06v6.05M413.76 179.06v6.05M431.88 179.06v6.05M15 185.11v6.05M21.05 185.11v6.05M51.25 185.11v6.05M57.3 185.11v6.05M99.59 185.11v6.05M111.67 185.11v6.05M117.71 185.11v6.05M123.75 185.11v6.05M141.88 185.11v6.05M153.96 185.11v6.05M160 185.11v6.05M274.8 185.11v6.05M280.84 185.11v6.05M298.96 185.11v6.05M305 185.11v6.05M311.05 185.11v6.05M317.09 185.11v6.05M341.26 185.11v6.05M353.34 185.11v6.05M365.42 185.11v6.05M377.51 185.11v6.05M389.59 185.11v6.05M395.63 185.11v6.05M401.67 185.11v6.05M15 191.16v6.05M21.05 191.16v6.05M69.38 191.16v6.05M75.42 191.16v6.05M111.67 191.16v6.05M117.71 191.16v6.05M141.88 191.16v6.05M274.8 191.16v6.05M286.88 191.16v6.05M298.96 191.16v6.05M347.3 191.16v6.05M359.38 191.16v6.05M365.42 191.16v6.05M371.46 191.16v6.05M383.55 191.16v6.05M389.59 191.16v6.05M395.63 191.16v6.05M407.71 191.16v6.05M419.8 191.16v6.05M425.84 191.16v6.05M431.88 191.16v6.05M280.84 197.21v6.05M286.88 197.21v6.05M298.96 197.21v6.05M305 197.21v6.05M311.05 197.21v6.05M335.21 197.21v6.05M341.26 197.21v6.05M347.3 197.21v6.05M359.38 197.21v6.05M365.42 197.21v6.05M377.51 197.21v6.05M383.55 197.21v6.05M389.59 197.21v6.05M395.63 197.21v6.05M401.67 197.21v6.05M407.71 197.21v6.05M21.05 203.27v6.05M27.09 203.27v6.05M57.3 203.27v6.05M63.34 203.27v6.05M105.63 203.27v6.05M111.67 203.27v6.05M141.88 203.27v6.05M274.8 203.27v6.05M286.88 203.27v6.05M292.92 203.27v6.05M298.96 203.27v6.05M305 203.27v6.05M311.05 203.27v6.05M347.3 203.27v6.05M353.34 203.27v6.05M365.42 203.27v6.05M389.59 203.27v6.05M395.63 203.27v6.05M401.67 203.27v6.05M413.76 203.27v6.05M419.8 203.27v6.05M431.88 203.27v6.05M8.96 209.32v6.05M15 209.32v6.05M21.05 209.32v6.05M27.09 209.32v6.05M33.13 209.32v6.05M99.59 209.32v6.05M105.63 209.32v6.05M117.71 209.32v6.05M123.75 209.32v6.05M135.84 209.32v6.05M208.34 209.32v6.05M214.38 209.32v6.05M286.88 209.32v6.05M292.92 209.32v6.05M395.63 209.32v6.05M401.67 209.32v6.05M21.05 215.37v6.05M27.09 215.37v6.05M33.13 215.37v6.05M63.34 215.37v6.05M69.38 215.37v6.05M81.46 215.37v6.05M87.5 215.37v6.05M93.55 215.37v6.05M105.63 215.37v6.05M111.67 215.37v6.05M129.8 215.37v6.05M135.84 215.37v6.05M172.09 215.37v6.05M178.13 215.37v6.05M190.21 215.37v6.05M202.3 215.37v6.05M208.34 215.37v6.05M214.38 215.37v6.05M226.46 215.37v6.05M232.5 215.37v6.05M371.46 215.37v6.05M377.51 215.37v6.05M27.09 221.42v6.05M33.13 221.42v6.05M39.17 221.42v6.05M51.25 221.42v6.05M57.3 221.42v6.05M63.34 221.42v6.05M75.42 221.42v6.05M81.46 221.42v6.05M99.59 221.42v6.05M105.63 221.42v6.05M111.67 221.42v6.05M123.75 221.42v6.05M135.84 221.42v6.05M141.88 221.42v6.05M172.09 221.42v6.05M184.17 221.42v6.05M190.21 221.42v6.05M202.3 221.42v6.05M208.34 221.42v6.05M214.38 221.42v6.05M226.46 221.42v6.05M232.5 221.42v6.05M45.21 227.47v6.05M57.3 227.47v6.05M69.38 227.47v6.05M81.46 227.47v6.05M105.63 227.47v6.05M111.67 227.47v6.05M129.8 227.47v6.05M135.84 227.47v6.05M153.96 227.47v6.05M160 227.47v6.05M196.25 227.47v6.05M202.3 227.47v6.05M226.46 227.47v6.05M232.5 227.47v6.05M262.71 227.47v6.05M311.05 227.47v6.05M317.09 227.47v6.05M8.96 233.53v6.05M15 233.53v6.05M27.09 233.53v6.05M63.34 233.53v6.05M81.46 233.53v6.05M105.63 233.53v6.05M111.67 233.53v6.05M129.8 233.53v6.05M208.34 233.53v6.05M214.38 233.53v6.05M292.92 233.53v6.05M298.96 233.53v6.05M153.96 239.58v6.05M160 239.58v6.05M172.09 239.58v6.05M178.13 239.58v6.05M202.3 239.58v6.05M208.34 239.58v6.05M214.38 239.58v6.05M226.46 239.58v6.05M244.59 239.58v6.05M250.63 239.58v6.05M262.71 239.58v6.05M280.84 239.58v6.05M286.88 239.58v6.05M298.96 239.58v6.05M305 239.58v6.05M329.17 239.58v6.05M335.21 239.58v6.05M341.26 239.58v6.05M347.3 239.58v6.05M21.05 245.63v6.05M27.09 245.63v6.05M33.13 245.63v6.05M51.25 245.63v6.05M93.55 245.63v6.05M99.59 245.63v6.05M105.63 245.63v6.05M111.67 245.63v6.05M166.05 245.63v6.05M178.13 245.63v6.05M196.25 245.63v6.05M202.3 245.63v6.05M250.63 245.63v6.05M256.67 245.63v6.05M262.71 245.63v6.05M311.05 245.63v6.05M317.09 245.63v6.05M8.96 251.68v6.05M15 251.68v6.05M27.09 251.68v6.05M33.13 251.68v6.05M99.59 251.68v6.05M105.63 251.68v6.05M117.71 251.68v6.05M129.8 251.68v6.05M172.09 251.68v6.05M178.13 251.68v6.05M184.17 251.68v6.05M220.42 251.68v6.05M226.46 251.68v6.05M232.5 251.68v6.05M250.63 251.68v6.05M311.05 251.68v6.05M317.09 251.68v6.05M383.55 251.68v6.05M389.59 251.68v6.05M15 257.73v6.05M21.05 257.73v6.05M57.3 257.73v6.05M63.34 257.73v6.05M129.8 257.73v6.05M135.84 257.73v6.05M160 257.73v6.05M172.09 257.73v6.05M190.21 257.73v6.05M238.55 257.73v6.05M244.59 257.73v6.05M21.05 263.79v6.05M27.09 263.79v6.05M33.13 263.79v6.05M39.17 263.79v6.05M45.21 263.79v6.05M57.3 263.79v6.05M123.75 263.79v6.05M129.8 263.79v6.05M141.88 263.79v6.05M153.96 263.79v6.05M190.21 263.79v6.05M196.25 263.79v6.05M8.96 269.84v6.05M15 269.84v6.05M27.09 269.84v6.05M111.67 269.84v6.05M117.71 269.84v6.05M141.88 269.84v6.05M160 269.84v6.05M178.13 269.84v6.05M190.21 269.84v6.05M208.34 269.84v6.05M214.38 269.84v6.05M27.09 275.89v6.05M33.13 275.89v6.05M45.21 275.89v6.05M51.25 275.89v6.05M57.3 275.89v6.05M63.34 275.89v6.05M69.38 275.89v6.05M81.46 275.89v6.05M117.71 275.89v6.05M129.8 275.89v6.05M184.17 275.89v6.05M190.21 275.89v6.05M202.3 275.89v6.05M208.34 275.89v6.05M256.67 275.89v6.05M262.71 275.89v6.05M329.17 275.89v6.05M335.21 275.89v6.05M347.3 275.89v6.05M353.34 275.89v6.05M401.67 275.89v6.05M407.71 275.89v6.05M15 281.94v6.05M27.09 281.94v6.05M51.25 281.94v6.05M57.3 281.94v6.05M69.38 281.94v6.05M75.42 281.94v6.05M93.55 281.94v6.05M99.59 281.94v6.05M105.63 281.94v6.05M111.67 281.94v6.05M141.88 281.94v6.05M153.96 281.94v6.05M172.09 281.94v6.05M178.13 281.94v6.05M196.25 281.94v6.05M202.3 281.94v6.05M311.05 281.94v6.05M317.09 281.94v6.05M15 287.99v6.05M27.09 287.99v6.05M45.21 287.99v6.05M57.3 287.99v6.05M63.34 287.99v6.05M75.42 287.99v6.05M87.5 287.99v6.05M117.71 287.99v6.05M123.75 287.99v6.05M135.84 287.99v6.05M178.13 287.99v6.05M184.17 287.99v6.05M202.3 287.99v6.05M208.34 287.99v6.05M220.42 287.99v6.05M226.46 287.99v6.05M232.5 287.99v6.05M250.63 287.99v6.05M256.67 287.99v6.05M15 294.05v6.05M21.05 294.05v6.05M63.34 294.05v6.05M69.38 294.05v6.05M105.63 294.05v6.05M111.67 294.05v6.05M141.88 294.05v6.05M172.09 294.05v6.05M184.17 294.05v6.05M15 300.1v6.05M21.05 300.1v6.05M33.13 300.1v6.05M39.17 300.1v6.05M51.25 300.1v6.05M57.3 300.1v6.05M69.38 300.1v6.05M81.46 300.1v6.05M99.59 300.1v6.05M111.67 300.1v6.05M117.71 300.1v6.05M129.8 300.1v6.05M160 300.1v6.05M172.09 300.1v6.05M184.17 300.1v6.05M196.25 300.1v6.05M214.38 300.1v6.05M250.63 300.1v6.05M256.67 300.1v6.05M262.71 300.1v6.05M371.46 300.1v6.05M377.51 300.1v6.05M160 39.86h6.04M166.05 39.86h6.04M172.09 39.86h6.04M178.13 39.86h6.04M184.17 39.86h6.04M190.21 39.86h6.04M202.3 39.86h6.04M214.38 39.86h6.04M220.42 39.86h6.04M226.46 39.86h6.04M232.5 39.86h6.04M250.63 39.86h6.04M256.67 39.86h6.04M262.71 39.86h6.04M268.75 39.86h6.04M280.84 39.86h6.04M329.17 39.86h6.04M419.8 39.86h6.04M99.59 45.91h6.04M105.63 45.91h6.04M160 45.91h6.04M166.05 45.91h6.04M178.13 45.91h6.04M184.17 45.91h6.04M190.21 45.91h6.04M202.3 45.91h6.04M250.63 45.91h6.04M256.67 45.91h6.04M280.84 45.91h6.04M335.21 45.91h6.04M99.59 51.97h6.04M105.63 51.97h6.04M147.92 51.97h6.04M160 51.97h6.04M172.09 51.97h6.04M178.13 51.97h6.04M184.17 51.97h6.04M214.38 51.97h6.04M226.46 51.97h6.04M232.5 51.97h6.04M238.55 51.97h6.04M256.67 51.97h6.04M329.17 51.97h6.04M147.92 58.02h6.04M166.05 58.02h6.04M178.13 58.02h6.04M202.3 58.02h6.04M226.46 58.02h6.04M238.55 58.02h6.04M244.59 58.02h6.04M250.63 58.02h6.04M262.71 58.02h6.04M323.13 58.02h6.04M347.3 58.02h6.04M401.67 58.02h6.04M160 64.07h6.04M166.05 64.07h6.04M172.09 64.07h6.04M178.13 64.07h6.04M184.17 64.07h6.04M214.38 64.07h6.04M232.5 64.07h6.04M238.55 64.07h6.04M298.96 64.07h6.04M329.17 64.07h6.04M341.26 64.07h6.04M347.3 64.07h6.04M365.42 64.07h6.04M147.92 70.12h6.04M160 70.12h6.04M166.05 70.12h6.04M172.09 70.12h6.04M184.17 70.12h6.04M190.21 70.12h6.04M262.71 70.12h6.04M268.75 70.12h6.04M280.84 70.12h6.04M353.34 70.12h6.04M365.42 70.12h6.04M401.67 70.12h6.04M407.71 70.12h6.04M172.09 76.17h6.04M244.59 76.17h6.04M268.75 76.17h6.04M298.96 76.17h6.04M317.09 76.17h6.04M323.13 76.17h6.04M329.17 76.17h6.04M341.26 76.17h6.04M371.46 76.17h6.04M401.67 76.17h6.04M172.09 82.23h6.04M244.59 82.23h6.04M298.96 82.23h6.04M317.09 82.23h6.04M323.13 82.23h6.04M329.17 82.23h6.04M341.26 82.23h6.04M347.3 82.23h6.04M353.34 82.23h6.04M359.38 82.23h6.04M365.42 82.23h6.04M371.46 82.23h6.04M377.51 82.23h6.04M383.55 82.23h6.04M407.71 82.23h6.04M413.76 82.23h6.04M419.8 82.23h6.04M425.84 82.23h6.04M431.88 82.23h6.04M166.05 88.28h6.04M184.17 88.28h6.04M190.21 88.28h6.04M202.3 88.28h6.04M232.5 88.28h6.04M238.55 88.28h6.04M244.59 88.28h6.04M250.63 88.28h6.04M280.84 88.28h6.04M298.96 88.28h6.04M323.13 88.28h6.04M341.26 88.28h6.04M347.3 88.28h6.04M359.38 88.28h6.04M365.42 88.28h6.04M377.51 88.28h6.04M383.55 88.28h6.04M401.67 88.28h6.04M413.76 88.28h6.04M419.8 88.28h6.04M425.84 88.28h6.04M431.88 88.28h6.04M147.92 94.33h6.04M153.96 94.33h6.04M160 94.33h6.04M202.3 94.33h6.04M220.42 94.33h6.04M226.46 94.33h6.04M262.71 94.33h6.04M329.17 94.33h6.04M365.42 94.33h6.04M27.09 100.38h6.04M99.59 100.38h6.04M117.71 100.38h6.04M153.96 100.38h6.04M178.13 100.38h6.04M202.3 100.38h6.04M214.38 100.38h6.04M256.67 100.38h6.04M365.42 100.38h6.04M27.09 106.43h6.04M99.59 106.43h6.04M117.71 106.43h6.04M147.92 106.43h6.04M153.96 106.43h6.04M160 106.43h6.04M166.05 106.43h6.04M172.09 106.43h6.04M178.13 106.43h6.04M184.17 106.43h6.04M190.21 106.43h6.04M196.25 106.43h6.04M202.3 106.43h6.04M214.38 106.43h6.04M220.42 106.43h6.04M226.46 106.43h6.04M232.5 106.43h6.04M238.55 106.43h6.04M244.59 106.43h6.04M250.63 106.43h6.04M256.67 106.43h6.04M262.71 106.43h6.04M280.84 106.43h6.04M298.96 106.43h6.04M305 106.43h6.04M311.05 106.43h6.04M323.13 106.43h6.04M329.17 106.43h6.04M335.21 106.43h6.04M341.26 106.43h6.04M359.38 106.43h6.04M413.76 106.43h6.04M425.84 106.43h6.04M431.88 106.43h6.04M15 112.49h6.04M99.59 112.49h6.04M153.96 112.49h6.04M166.05 112.49h6.04M172.09 112.49h6.04M196.25 112.49h6.04M202.3 112.49h6.04M208.34 112.49h6.04M214.38 112.49h6.04M220.42 112.49h6.04M226.46 112.49h6.04M232.5 112.49h6.04M238.55 112.49h6.04M244.59 112.49h6.04M250.63 112.49h6.04M262.71 112.49h6.04M274.8 112.49h6.04M298.96 112.49h6.04M305 112.49h6.04M311.05 112.49h6.04M323.13 112.49h6.04M329.17 112.49h6.04M335.21 112.49h6.04M341.26 112.49h6.04M359.38 112.49h6.04M413.76 112.49h6.04M419.8 112.49h6.04M425.84 112.49h6.04M431.88 112.49h6.04M15 118.54h6.04M99.59 118.54h6.04M153.96 118.54h6.04M166.05 118.54h6.04M196.25 118.54h6.04M202.3 118.54h6.04M208.34 118.54h6.04M214.38 118.54h6.04M220.42 118.54h6.04M226.46 118.54h6.04M238.55 118.54h6.04M250.63 118.54h6.04M262.71 118.54h6.04M274.8 118.54h6.04M280.84 118.54h6.04M323.13 118.54h6.04M419.8 118.54h6.04M2.92 130.64h6.04M8.96 130.64h6.04M33.13 130.64h6.04M45.21 130.64h6.04M51.25 130.64h6.04M81.46 130.64h6.04M87.5 130.64h6.04M105.63 130.64h6.04M117.71 130.64h6.04M129.8 130.64h6.04M135.84 130.64h6.04M274.8 130.64h6.04M280.84 130.64h6.04M292.92 130.64h6.04M298.96 130.64h6.04M335.21 130.64h6.04M341.26 130.64h6.04M347.3 130.64h6.04M359.38 130.64h6.04M395.63 130.64h6.04M401.67 130.64h6.04M425.84 130.64h6.04M2.92 136.69h6.04M8.96 136.69h6.04M21.05 136.69h6.04M33.13 136.69h6.04M39.17 136.69h6.04M51.25 136.69h6.04M57.3 136.69h6.04M63.34 136.69h6.04M69.38 136.69h6.04M75.42 136.69h6.04M81.46 136.69h6.04M87.5 136.69h6.04M99.59 136.69h6.04M105.63 136.69h6.04M111.67 136.69h6.04M123.75 136.69h6.04M135.84 136.69h6.04M244.59 136.69h6.04M268.75 136.69h6.04M274.8 136.69h6.04M286.88 136.69h6.04M305 136.69h6.04M311.05 136.69h6.04M317.09 136.69h6.04M323.13 136.69h6.04M335.21 136.69h6.04M347.3 136.69h6.04M353.34 136.69h6.04M371.46 136.69h6.04M377.51 136.69h6.04M383.55 136.69h6.04M389.59 136.69h6.04M401.67 136.69h6.04M413.76 136.69h6.04M2.92 142.75h6.04M8.96 142.75h6.04M21.05 142.75h6.04M33.13 142.75h6.04M39.17 142.75h6.04M51.25 142.75h6.04M57.3 142.75h6.04M63.34 142.75h6.04M69.38 142.75h6.04M75.42 142.75h6.04M81.46 142.75h6.04M87.5 142.75h6.04M99.59 142.75h6.04M105.63 142.75h6.04M111.67 142.75h6.04M123.75 142.75h6.04M135.84 142.75h6.04M244.59 142.75h6.04M292.92 142.75h6.04M305 142.75h6.04M311.05 142.75h6.04M317.09 142.75h6.04M323.13 142.75h6.04M335.21 142.75h6.04M347.3 142.75h6.04M389.59 142.75h6.04M395.63 142.75h6.04M413.76 142.75h6.04M425.84 142.75h6.04M8.96 148.8h6.04M33.13 148.8h6.04M51.25 148.8h6.04M57.3 148.8h6.04M75.42 148.8h6.04M81.46 148.8h6.04M87.5 148.8h6.04M93.55 148.8h6.04M105.63 148.8h6.04M117.71 148.8h6.04M123.75 148.8h6.04M129.8 148.8h6.04M135.84 148.8h6.04M232.5 148.8h6.04M244.59 148.8h6.04M274.8 148.8h6.04M292.92 148.8h6.04M305 148.8h6.04M311.05 148.8h6.04M317.09 148.8h6.04M335.21 148.8h6.04M341.26 148.8h6.04M353.34 148.8h6.04M359.38 148.8h6.04M377.51 148.8h6.04M413.76 148.8h6.04M431.88 148.8h6.04M2.92 154.85h6.04M45.21 154.85h6.04M57.3 154.85h6.04M75.42 154.85h6.04M93.55 154.85h6.04M123.75 154.85h6.04M166.05 154.85h6.04M232.5 154.85h6.04M244.59 154.85h6.04M268.75 154.85h6.04M274.8 154.85h6.04M280.84 154.85h6.04M286.88 154.85h6.04M298.96 154.85h6.04M305 154.85h6.04M311.05 154.85h6.04M317.09 154.85h6.04M347.3 154.85h6.04M371.46 154.85h6.04M383.55 154.85h6.04M389.59 154.85h6.04M413.76 154.85h6.04M425.84 154.85h6.04M431.88 154.85h6.04M2.92 160.9h6.04M8.96 160.9h6.04M15 160.9h6.04M33.13 160.9h6.04M45.21 160.9h6.04M81.46 160.9h6.04M87.5 160.9h6.04M99.59 160.9h6.04M117.71 160.9h6.04M135.84 160.9h6.04M166.05 160.9h6.04M268.75 160.9h6.04M286.88 160.9h6.04M292.92 160.9h6.04M305 160.9h6.04M311.05 160.9h6.04M317.09 160.9h6.04M329.17 160.9h6.04M335.21 160.9h6.04M347.3 160.9h6.04M365.42 160.9h6.04M383.55 160.9h6.04M401.67 160.9h6.04M413.76 160.9h6.04M2.92 166.95h6.04M8.96 166.95h6.04M15 166.95h6.04M21.05 166.95h6.04M27.09 166.95h6.04M33.13 166.95h6.04M39.17 166.95h6.04M45.21 166.95h6.04M57.3 166.95h6.04M63.34 166.95h6.04M69.38 166.95h6.04M75.42 166.95h6.04M81.46 166.95h6.04M87.5 166.95h6.04M93.55 166.95h6.04M99.59 166.95h6.04M105.63 166.95h6.04M111.67 166.95h6.04M117.71 166.95h6.04M123.75 166.95h6.04M135.84 166.95h6.04M226.46 166.95h6.04M268.75 166.95h6.04M274.8 166.95h6.04M280.84 166.95h6.04M286.88 166.95h6.04M305 166.95h6.04M311.05 166.95h6.04M317.09 166.95h6.04M341.26 166.95h6.04M347.3 166.95h6.04M383.55 166.95h6.04M389.59 166.95h6.04M395.63 166.95h6.04M413.76 166.95h6.04M419.8 166.95h6.04M425.84 166.95h6.04M431.88 166.95h6.04M105.63 173.01h6.04M153.96 173.01h6.04M226.46 173.01h6.04M274.8 173.01h6.04M280.84 173.01h6.04M286.88 173.01h6.04M298.96 173.01h6.04M317.09 173.01h6.04M323.13 173.01h6.04M335.21 173.01h6.04M353.34 173.01h6.04M383.55 173.01h6.04M389.59 173.01h6.04M413.76 173.01h6.04M419.8 173.01h6.04M431.88 173.01h6.04M2.92 179.06h6.04M8.96 179.06h6.04M15 179.06h6.04M21.05 179.06h6.04M27.09 179.06h6.04M33.13 179.06h6.04M39.17 179.06h6.04M45.21 179.06h6.04M51.25 179.06h6.04M57.3 179.06h6.04M63.34 179.06h6.04M69.38 179.06h6.04M75.42 179.06h6.04M81.46 179.06h6.04M87.5 179.06h6.04M93.55 179.06h6.04M99.59 179.06h6.04M105.63 179.06h6.04M111.67 179.06h6.04M117.71 179.06h6.04M123.75 179.06h6.04M129.8 179.06h6.04M135.84 179.06h6.04M141.88 179.06h6.04M153.96 179.06h6.04M268.75 179.06h6.04M280.84 179.06h6.04M286.88 179.06h6.04M292.92 179.06h6.04M305 179.06h6.04M317.09 179.06h6.04M323.13 179.06h6.04M329.17 179.06h6.04M335.21 179.06h6.04M347.3 179.06h6.04M383.55 179.06h6.04M389.59 179.06h6.04M395.63 179.06h6.04M413.76 179.06h6.04M419.8 179.06h6.04M15 185.11h6.04M51.25 185.11h6.04M99.59 185.11h6.04M105.63 185.11h6.04M117.71 185.11h6.04M141.88 185.11h6.04M153.96 185.11h6.04M268.75 185.11h6.04M305 185.11h6.04M311.05 185.11h6.04M353.34 185.11h6.04M365.42 185.11h6.04M371.46 185.11h6.04M389.59 185.11h6.04M395.63 185.11h6.04M401.67 185.11h6.04M413.76 185.11h6.04M419.8 185.11h6.04M425.84 185.11h6.04M51.25 191.16h6.04M69.38 191.16h6.04M99.59 191.16h6.04M105.63 191.16h6.04M111.67 191.16h6.04M117.71 191.16h6.04M153.96 191.16h6.04M268.75 191.16h6.04M274.8 191.16h6.04M286.88 191.16h6.04M292.92 191.16h6.04M298.96 191.16h6.04M311.05 191.16h6.04M341.26 191.16h6.04M353.34 191.16h6.04M371.46 191.16h6.04M383.55 191.16h6.04M389.59 191.16h6.04M395.63 191.16h6.04M407.71 191.16h6.04M413.76 191.16h6.04M425.84 191.16h6.04M15 197.21h6.04M69.38 197.21h6.04M111.67 197.21h6.04M141.88 197.21h6.04M274.8 197.21h6.04M305 197.21h6.04M335.21 197.21h6.04M371.46 197.21h6.04M401.67 197.21h6.04M407.71 197.21h6.04M413.76 197.21h6.04M425.84 197.21h6.04M21.05 203.27h6.04M57.3 203.27h6.04M105.63 203.27h6.04M141.88 203.27h6.04M274.8 203.27h6.04M292.92 203.27h6.04M298.96 203.27h6.04M305 203.27h6.04M311.05 203.27h6.04M317.09 203.27h6.04M323.13 203.27h6.04M329.17 203.27h6.04M341.26 203.27h6.04M347.3 203.27h6.04M359.38 203.27h6.04M365.42 203.27h6.04M371.46 203.27h6.04M383.55 203.27h6.04M389.59 203.27h6.04M395.63 203.27h6.04M401.67 203.27h6.04M413.76 203.27h6.04M431.88 203.27h6.04M2.92 209.32h6.04M15 209.32h6.04M21.05 209.32h6.04M27.09 209.32h6.04M57.3 209.32h6.04M99.59 209.32h6.04M105.63 209.32h6.04M117.71 209.32h6.04M135.84 209.32h6.04M208.34 209.32h6.04M268.75 209.32h6.04M298.96 209.32h6.04M311.05 209.32h6.04M317.09 209.32h6.04M323.13 209.32h6.04M329.17 209.32h6.04M335.21 209.32h6.04M341.26 209.32h6.04M353.34 209.32h6.04M359.38 209.32h6.04M389.59 209.32h6.04M395.63 209.32h6.04M401.67 209.32h6.04M407.71 209.32h6.04M419.8 209.32h6.04M425.84 209.32h6.04M2.92 221.42h6.04M8.96 221.42h6.04M15 221.42h6.04M39.17 221.42h6.04M45.21 221.42h6.04M57.3 221.42h6.04M63.34 221.42h6.04M75.42 221.42h6.04M81.46 221.42h6.04M93.55 221.42h6.04M123.75 221.42h6.04M141.88 221.42h6.04M178.13 221.42h6.04M371.46 221.42h6.04M2.92 227.47h6.04M8.96 227.47h6.04M15 227.47h6.04M21.05 227.47h6.04M33.13 227.47h6.04M45.21 227.47h6.04M63.34 227.47h6.04M75.42 227.47h6.04M81.46 227.47h6.04M87.5 227.47h6.04M93.55 227.47h6.04M123.75 227.47h6.04M141.88 227.47h6.04M153.96 227.47h6.04M172.09 227.47h6.04M178.13 227.47h6.04M190.21 227.47h6.04M208.34 227.47h6.04M262.71 227.47h6.04M311.05 227.47h6.04M2.92 233.53h6.04M15 233.53h6.04M21.05 233.53h6.04M45.21 233.53h6.04M51.25 233.53h6.04M63.34 233.53h6.04M135.84 233.53h6.04M141.88 233.53h6.04M153.96 233.53h6.04M196.25 233.53h6.04M208.34 233.53h6.04M226.46 233.53h6.04M262.71 233.53h6.04M292.92 233.53h6.04M311.05 233.53h6.04M8.96 239.58h6.04M27.09 239.58h6.04M33.13 239.58h6.04M39.17 239.58h6.04M45.21 239.58h6.04M51.25 239.58h6.04M57.3 239.58h6.04M81.46 239.58h6.04M87.5 239.58h6.04M93.55 239.58h6.04M99.59 239.58h6.04M111.67 239.58h6.04M117.71 239.58h6.04M123.75 239.58h6.04M147.92 239.58h6.04M160 239.58h6.04M166.05 239.58h6.04M178.13 239.58h6.04M184.17 239.58h6.04M190.21 239.58h6.04M196.25 239.58h6.04M226.46 239.58h6.04M232.5 239.58h6.04M238.55 239.58h6.04M250.63 239.58h6.04M256.67 239.58h6.04M280.84 239.58h6.04M292.92 239.58h6.04M298.96 239.58h6.04M329.17 239.58h6.04M341.26 239.58h6.04M2.92 245.63h6.04M8.96 245.63h6.04M15 245.63h6.04M27.09 245.63h6.04M51.25 245.63h6.04M57.3 245.63h6.04M63.34 245.63h6.04M69.38 245.63h6.04M75.42 245.63h6.04M81.46 245.63h6.04M87.5 245.63h6.04M99.59 245.63h6.04M111.67 245.63h6.04M117.71 245.63h6.04M123.75 245.63h6.04M129.8 245.63h6.04M135.84 245.63h6.04M141.88 245.63h6.04M147.92 245.63h6.04M160 245.63h6.04M172.09 245.63h6.04M178.13 245.63h6.04M184.17 245.63h6.04M190.21 245.63h6.04M208.34 245.63h6.04M226.46 245.63h6.04M232.5 245.63h6.04M238.55 245.63h6.04M256.67 245.63h6.04M262.71 245.63h6.04M280.84 245.63h6.04M298.96 245.63h6.04M311.05 245.63h6.04M329.17 245.63h6.04M341.26 245.63h6.04M2.92 251.68h6.04M15 251.68h6.04M51.25 251.68h6.04M57.3 251.68h6.04M63.34 251.68h6.04M69.38 251.68h6.04M75.42 251.68h6.04M81.46 251.68h6.04M87.5 251.68h6.04M111.67 251.68h6.04M129.8 251.68h6.04M135.84 251.68h6.04M141.88 251.68h6.04M166.05 251.68h6.04M184.17 251.68h6.04M190.21 251.68h6.04M202.3 251.68h6.04M208.34 251.68h6.04M214.38 251.68h6.04M226.46 251.68h6.04M256.67 251.68h6.04M383.55 251.68h6.04M2.92 257.73h6.04M21.05 257.73h6.04M33.13 257.73h6.04M39.17 257.73h6.04M45.21 257.73h6.04M51.25 257.73h6.04M63.34 257.73h6.04M69.38 257.73h6.04M75.42 257.73h6.04M81.46 257.73h6.04M87.5 257.73h6.04M93.55 257.73h6.04M105.63 257.73h6.04M111.67 257.73h6.04M135.84 257.73h6.04M141.88 257.73h6.04M147.92 257.73h6.04M153.96 257.73h6.04M178.13 257.73h6.04M190.21 257.73h6.04M196.25 257.73h6.04M202.3 257.73h6.04M208.34 257.73h6.04M214.38 257.73h6.04M226.46 257.73h6.04M238.55 257.73h6.04M250.63 257.73h6.04M256.67 257.73h6.04M262.71 257.73h6.04M311.05 257.73h6.04M383.55 257.73h6.04M15 263.79h6.04M21.05 263.79h6.04M33.13 263.79h6.04M45.21 263.79h6.04M51.25 263.79h6.04M57.3 263.79h6.04M123.75 263.79h6.04M129.8 263.79h6.04M141.88 263.79h6.04M153.96 263.79h6.04M172.09 263.79h6.04M178.13 263.79h6.04M184.17 263.79h6.04M190.21 263.79h6.04M238.55 263.79h6.04M2.92 269.84h6.04M15 269.84h6.04M33.13 269.84h6.04M45.21 269.84h6.04M51.25 269.84h6.04M111.67 269.84h6.04M123.75 269.84h6.04M153.96 269.84h6.04M178.13 269.84h6.04M184.17 269.84h6.04M190.21 269.84h6.04M208.34 269.84h6.04M8.96 275.89h6.04M33.13 275.89h6.04M39.17 275.89h6.04M51.25 275.89h6.04M63.34 275.89h6.04M81.46 275.89h6.04M87.5 275.89h6.04M93.55 275.89h6.04M99.59 275.89h6.04M105.63 275.89h6.04M129.8 275.89h6.04M135.84 275.89h6.04M160 275.89h6.04M166.05 275.89h6.04M172.09 275.89h6.04M184.17 275.89h6.04M190.21 275.89h6.04M196.25 275.89h6.04M214.38 275.89h6.04M220.42 275.89h6.04M226.46 275.89h6.04M232.5 275.89h6.04M238.55 275.89h6.04M244.59 275.89h6.04M250.63 275.89h6.04M262.71 275.89h6.04M329.17 275.89h6.04M347.3 275.89h6.04M401.67 275.89h6.04M2.92 281.94h6.04M8.96 281.94h6.04M33.13 281.94h6.04M39.17 281.94h6.04M63.34 281.94h6.04M69.38 281.94h6.04M81.46 281.94h6.04M87.5 281.94h6.04M99.59 281.94h6.04M111.67 281.94h6.04M129.8 281.94h6.04M135.84 281.94h6.04M153.96 281.94h6.04M160 281.94h6.04M166.05 281.94h6.04M178.13 281.94h6.04M190.21 281.94h6.04M208.34 281.94h6.04M214.38 281.94h6.04M220.42 281.94h6.04M226.46 281.94h6.04M232.5 281.94h6.04M238.55 281.94h6.04M244.59 281.94h6.04M250.63 281.94h6.04M262.71 281.94h6.04M311.05 281.94h6.04M329.17 281.94h6.04M347.3 281.94h6.04M401.67 281.94h6.04M45.21 287.99h6.04M63.34 287.99h6.04M87.5 287.99h6.04M99.59 287.99h6.04M111.67 287.99h6.04M123.75 287.99h6.04M129.8 287.99h6.04M141.88 287.99h6.04M153.96 287.99h6.04M160 287.99h6.04M166.05 287.99h6.04M184.17 287.99h6.04M190.21 287.99h6.04M208.34 287.99h6.04M214.38 287.99h6.04M226.46 287.99h6.04M250.63 287.99h6.04M311.05 287.99h6.04M21.05 294.05h6.04M45.21 294.05h6.04M51.25 294.05h6.04M69.38 294.05h6.04M87.5 294.05h6.04M93.55 294.05h6.04M99.59 294.05h6.04M111.67 294.05h6.04M123.75 294.05h6.04M129.8 294.05h6.04M141.88 294.05h6.04M147.92 294.05h6.04M153.96 294.05h6.04M160 294.05h6.04M166.05 294.05h6.04M178.13 294.05h6.04M184.17 294.05h6.04M190.21 294.05h6.04M196.25 294.05h6.04M208.34 294.05h6.04M214.38 294.05h6.04M226.46 294.05h6.04M250.63 294.05h6.04M2.92 300.1h6.04M8.96 300.1h6.04M15 300.1h6.04M21.05 300.1h6.04M27.09 300.1h6.04M39.17 300.1h6.04M45.21 300.1h6.04M57.3 300.1h6.04M81.46 300.1h6.04M87.5 300.1h6.04M93.55 300.1h6.04M105.63 300.1h6.04M111.67 300.1h6.04M129.8 300.1h6.04M135.84 300.1h6.04M147.92 300.1h6.04M153.96 300.1h6.04M196.25 300.1h6.04M202.3 300.1h6.04M208.34 300.1h6.04M250.63 300.1h6.04M262.71 300.1h6.04M371.46 300.1h6.04" stroke="#000" stroke-opacity="0.6" stroke-width="1.4" fill="none"/>
<path d="M147.92 33.81V306.15M268.75 33.81V306.15M2.92 124.59H437.92M2.92 215.37H437.92" stroke="#111" stroke-width="2.0" fill="none"/>
<rect x="2.92" y="33.81" width="435" height="272.34" fill="none" stroke="#111" stroke-width="1.4"/>
</g>
<rect x="102.5" y="309.8" width="18.02" height="5.2" fill="#2a1a6e"/><rect x="120.22" y="309.8" width="18.02" height="5.2" fill="#1c1a6c"/><rect x="137.95" y="309.8" width="18.02" height="5.2" fill="#6262aa"/><rect x="155.68" y="309.8" width="18.02" height="5.2" fill="#8a8ac6"/><rect x="173.4" y="309.8" width="18.02" height="5.2" fill="#b6b6dc"/><rect x="191.12" y="309.8" width="18.02" height="5.2" fill="#dadaee"/><rect x="208.85" y="309.8" width="18.02" height="5.2" fill="#f6d4da"/><rect x="226.57" y="309.8" width="18.02" height="5.2" fill="#f4a8ac"/><rect x="244.3" y="309.8" width="18.02" height="5.2" fill="#f29090"/><rect x="262.02" y="309.8" width="18.02" height="5.2" fill="#f07878"/><rect x="279.75" y="309.8" width="18.02" height="5.2" fill="#e85a5c"/><rect x="297.47" y="309.8" width="18.02" height="5.2" fill="#c41426"/>
<path d="M102.5 315.0V318.2M120.22 315.0V318.2M137.95 315.0V318.2M155.68 315.0V318.2M173.4 315.0V318.2M191.12 315.0V318.2M208.85 315.0V318.2M226.57 315.0V318.2M244.3 315.0V318.2M262.02 315.0V318.2M279.75 315.0V318.2M297.47 315.0V318.2M315.2 315.0V318.2" stroke="#444" stroke-width="0.8"/>
<g font-size="8.2" fill="#222" stroke="#222" stroke-width="0.3"><text x="102.5" y="326.2" text-anchor="middle">-3σ</text><text x="137.95" y="326.2" text-anchor="middle">-2σ</text><text x="173.4" y="326.2" text-anchor="middle">-1σ</text><text x="208.85" y="326.2" text-anchor="middle">0</text><text x="244.3" y="326.2" text-anchor="middle">+1σ</text><text x="279.75" y="326.2" text-anchor="middle">+2σ</text><text x="315.2" y="326.2" text-anchor="middle">+3σ</text><text x="165.3" y="334.6" font-size="7.8" textLength="106" lengthAdjust="spacingAndGlyphs">σ=standard deviation from mean</text></g>
<g fill="#111" font-size="18.8" stroke="#fff" stroke-width="0.15">
<text x="73.7" y="14.85" text-anchor="middle" textLength="33.5" lengthAdjust="spacingAndGlyphs">ALL</text>
<text x="206.6" y="14.85" text-anchor="middle" textLength="36.2" lengthAdjust="spacingAndGlyphs">MLL</text>
<text x="351.7" y="14.85" text-anchor="middle" textLength="37.4" lengthAdjust="spacingAndGlyphs">AML</text>
</g>
<text x="485.6" y="118.8" font-size="18.5" fill="#111" textLength="33.0" lengthAdjust="spacingAndGlyphs">FLT3</text>
<g fill="#111"><path d="M3.5,30.2 C5.5,28.2 9.5,26.599999999999998 17.5,26.4 L62.10,26.4 C65.60,26.4 65.60,23.6 68.60,23.6 L79.80,23.6 C82.80,23.6 82.80,26.4 86.30,26.4 L131.2,26.4 C139.2,26.599999999999998 143.2,28.2 145.2,30.2 C144.7,31.0 143.2,31.0 141.2,31.0 L133.7,31.0 C132.7,31.0 132.2,28.7 131.2,28.7 L85.30,28.7 C79.20,28.7 77.20,26.099999999999998 74.2,26.099999999999998 C71.20,26.099999999999998 69.20,28.7 63.10,28.7 L17.5,28.7 C16.5,28.7 16.0,31.0 15.0,31.0 L7.5,31.0 C5.5,31.0 4.0,31.0 3.5,30.2 Z"/><path d="M149.2,30.2 C151.2,28.2 155.2,26.599999999999998 163.2,26.4 L196.70,26.4 C200.20,26.4 200.20,23.6 203.20,23.6 L212.80,23.6 C215.80,23.6 215.80,26.4 219.30,26.4 L253.3,26.4 C261.3,26.599999999999998 265.3,28.2 267.3,30.2 C266.8,31.0 265.3,31.0 263.3,31.0 L255.8,31.0 C254.8,31.0 254.3,28.7 253.3,28.7 L218.30,28.7 C213.00,28.7 211.00,26.099999999999998 208.0,26.099999999999998 C205.00,26.099999999999998 203.00,28.7 197.70,28.7 L163.2,28.7 C162.2,28.7 161.7,31.0 160.7,31.0 L153.2,31.0 C151.2,31.0 149.7,31.0 149.2,30.2 Z"/><path d="M271.2,30.2 C273.2,28.2 277.2,26.599999999999998 285.2,26.4 L340.40,26.4 C343.90,26.4 343.90,23.6 346.90,23.6 L360.70,23.6 C363.70,23.6 363.70,26.4 367.20,26.4 L422.5,26.4 C430.5,26.599999999999998 434.5,28.2 436.5,30.2 C436.0,31.0 434.5,31.0 432.5,31.0 L425.0,31.0 C424.0,31.0 423.5,28.7 422.5,28.7 L366.20,28.7 C358.80,28.7 356.80,26.099999999999998 353.8,26.099999999999998 C350.80,26.099999999999998 348.80,28.7 341.40,28.7 L285.2,28.7 C284.2,28.7 283.7,31.0 282.7,31.0 L275.2,31.0 C273.2,31.0 271.7,31.0 271.2,30.2 Z"/></g>
<line x1="479.2" y1="113.6" x2="449" y2="124.2" stroke="#111" stroke-width="1.6"/><path d="M441.4,126.9 L450.0,117.6 L448.6,124.2 L454.0,129.0 Z" fill="#111"/>
</svg>
</body></html>
